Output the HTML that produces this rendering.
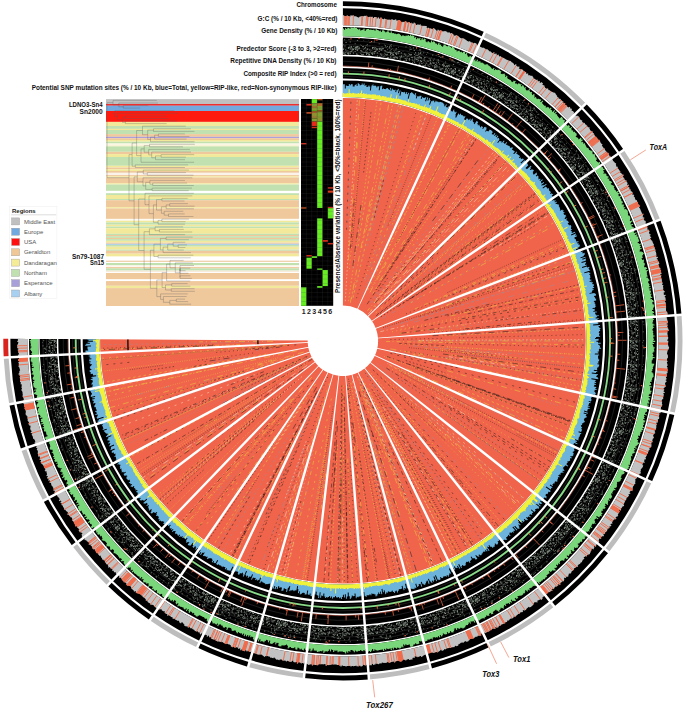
<!DOCTYPE html>
<html><head><meta charset="utf-8"><style>
html,body{margin:0;padding:0;background:#fff;}
body{width:685px;height:711px;overflow:hidden;position:relative;font-family:"Liberation Sans",sans-serif;}
svg{position:absolute;left:0;top:0;}
</style></head><body>
<svg width="685" height="711" viewBox="0 0 685 711">
<defs>
<pattern id="dotsA" width="24" height="24" patternUnits="userSpaceOnUse"><rect width="24" height="24" fill="#000"/><path d="M5.7 13.1h1.0M22.0 11.4h0.6M14.5 21.8h1.2M6.2 5.6h1.2M13.0 13.2h1.2M15.3 3.6h0.8M20.8 12.6h0.6M16.1 1.5h0.6M7.2 0.7h1.0M11.3 17.3h1.2M17.1 22.1h1.2M17.5 13.8h0.8M21.1 2.3h0.8M11.9 6.2h1.2M18.7 20.5h1.2M12.2 9.3h1.0M12.8 9.8h0.8M21.7 16.4h0.6M20.6 23.8h0.8M16.8 7.8h0.6M17.1 5.1h1.0M6.8 1.5h1.2M2.1 19.2h1.2M21.5 0.5h1.2M18.5 20.9h0.6M14.5 18.3h1.2M17.2 7.9h1.0M12.1 24.0h1.0M0.2 2.6h0.6M22.8 23.3h1.0M14.7 3.7h0.6M23.5 8.2h1.0M23.0 21.5h1.2M9.0 20.9h1.2M15.5 14.3h0.6M14.9 22.6h1.0M10.3 17.3h0.8M22.5 10.5h1.0M12.5 13.2h0.6M18.9 23.7h1.0M0.5 14.8h0.8M1.4 15.1h1.2M8.5 22.0h1.0M17.7 0.5h0.6M22.9 0.5h1.0M6.0 11.0h1.0M4.3 4.4h1.0M20.3 6.3h1.2M2.5 19.5h0.8M7.4 5.3h1.0M5.7 4.5h1.2M15.6 2.3h1.0M22.8 16.2h0.8M10.5 20.5h0.8M1.9 17.8h0.8M21.2 10.8h0.8M18.9 0.8h0.8M7.6 20.1h0.8M20.7 8.2h0.6M19.4 8.3h0.8M10.1 12.4h1.0M11.2 15.2h1.0M10.1 9.8h1.2M3.7 0.1h1.2M13.4 23.7h0.8M0.8 11.0h1.0M13.1 21.4h0.6M20.6 23.3h0.6M19.4 1.1h0.8M21.5 21.6h0.6M0.3 17.9h0.8M12.1 5.7h0.6M12.6 9.9h0.6M8.2 6.1h1.2M19.5 1.5h0.8M4.7 12.8h0.6M4.1 19.0h0.8M19.8 0.2h1.2M1.2 6.5h1.0M14.8 12.5h0.6M11.3 18.6h0.6M20.6 18.6h0.6M3.0 1.6h0.6M20.5 2.1h1.2M7.6 7.5h1.0M9.3 9.4h1.0M8.7 4.6h1.0M10.3 3.1h0.6M17.2 9.1h0.6M13.6 1.0h1.2M14.5 18.8h1.2M15.3 1.0h1.2M1.3 15.1h1.0M10.1 16.7h1.2M0.4 5.2h1.0M16.7 1.7h1.2M5.4 3.1h0.6M22.5 9.0h1.0M2.9 16.6h1.2M16.0 17.6h0.6M19.5 17.2h1.2M3.4 18.6h0.6M12.7 13.5h1.2M4.3 0.6h0.6M0.6 2.8h1.2M20.1 22.9h1.0M19.2 0.9h0.8M2.6 18.0h0.6M13.2 20.9h0.8M19.9 5.8h0.8M15.5 10.9h1.2M6.1 14.4h1.0M13.4 23.2h1.2M12.0 23.4h1.2M20.2 23.2h1.2M16.6 18.1h1.2M3.7 9.6h0.8M3.9 12.0h1.2M22.0 12.4h1.2M14.1 20.6h0.8M6.4 4.8h1.0M22.4 20.4h1.0M16.1 20.5h1.0M21.3 7.4h1.0M11.5 9.2h0.8M13.7 5.7h1.2M18.6 3.4h1.2M16.8 4.9h0.6M11.6 17.3h1.2M18.8 21.2h0.6M11.2 5.5h0.8M15.6 18.7h0.6M23.0 20.5h0.8M21.4 18.6h0.8M4.5 16.9h0.6M21.6 6.1h0.6M7.5 10.2h0.6M2.8 6.3h1.0M0.9 10.9h1.0M0.2 8.0h1.2M9.1 1.9h1.2M9.4 13.1h0.6M21.2 1.8h1.2M2.7 21.3h1.0M2.3 22.6h1.0M16.3 8.8h1.2M7.1 16.2h1.0M2.6 22.7h1.0M16.1 12.9h0.6M16.0 12.2h0.6M17.2 16.3h0.8M15.5 17.5h0.8M4.3 21.4h1.2M3.0 22.4h0.8M22.1 15.5h1.2M13.3 15.5h1.2M11.6 18.8h0.6M2.6 4.3h1.2M8.6 6.4h1.2M1.3 3.3h1.2M12.1 5.9h1.0M21.0 22.7h1.2M13.0 18.5h1.0M12.0 23.9h0.8M6.5 2.4h0.6M13.5 21.8h0.6M4.4 4.5h1.2M16.1 9.4h0.8M14.2 3.5h1.2M19.2 13.1h0.8M13.6 4.8h1.0M8.9 7.0h1.2M21.4 22.8h1.2M7.6 21.7h1.0M15.2 23.4h1.0M21.5 16.0h0.6M14.4 17.4h0.6M2.6 18.1h0.8M11.8 12.6h1.2M4.8 18.8h0.8M0.9 12.0h1.2M2.7 6.8h0.8M3.3 19.0h0.6M0.6 14.8h0.6M12.0 0.5h1.0M7.8 20.9h0.8M1.9 20.1h0.6M17.2 17.8h1.0M23.9 4.9h0.6M20.7 10.5h0.8M11.6 2.6h0.6M9.8 20.3h0.8M9.4 11.4h0.6M12.9 10.1h1.2M7.3 11.1h1.2M10.5 10.9h0.6M17.3 8.8h1.0M10.7 8.7h1.2M5.4 0.1h0.8M6.2 8.9h1.2M12.8 3.8h0.6M4.1 9.7h0.8M15.3 3.3h0.8M10.6 4.4h0.6M9.7 7.6h0.6M16.9 1.2h1.2M0.9 11.8h0.8M5.8 9.3h0.8M4.0 14.9h1.0M21.9 14.3h1.0M6.6 18.9h1.2M18.9 23.1h1.2M6.0 6.4h1.0M15.1 8.3h0.6M1.4 10.4h0.6M14.2 0.1h0.6M16.3 0.5h0.6M11.6 4.5h1.0M4.8 23.4h1.2M8.2 11.5h1.0M22.6 0.8h1.0M18.0 15.2h1.2M2.1 7.0h1.2M2.8 9.4h1.0M12.9 18.7h1.2M4.2 17.8h1.2M20.1 13.3h0.8M8.7 10.0h0.8M10.7 16.9h1.0M6.5 4.1h1.2" stroke="#95a595" stroke-width="0.8"/></pattern>
<pattern id="dotsB" width="24" height="24" patternUnits="userSpaceOnUse"><rect width="24" height="24" fill="#000"/><path d="M5.7 2.5h1.2M11.5 2.2h0.6M9.6 22.0h0.6M5.3 12.9h1.0M18.7 19.8h1.0M5.1 22.3h1.0M19.2 4.6h1.0M7.0 20.8h1.0M2.1 14.5h1.2M12.1 4.3h1.2M6.7 22.7h1.0M0.2 7.0h1.0M20.4 12.2h1.2M10.2 6.9h1.2M3.9 7.3h0.6M1.9 11.1h1.0M12.5 15.6h1.0M3.5 16.2h0.6M9.9 4.9h1.2M6.6 8.5h1.0M15.2 4.8h1.0M2.4 1.5h0.8M6.7 14.0h0.8M2.9 22.4h1.0M11.0 1.0h0.6M21.5 22.9h1.0M0.4 6.9h0.8M18.6 9.9h0.6M7.0 4.6h1.2M7.0 6.0h0.8M8.0 0.2h0.6M10.9 8.8h1.0M23.9 13.7h1.2M23.6 10.2h0.8M2.7 1.5h0.8M14.3 23.3h0.6M13.1 14.0h1.0M23.9 2.9h1.0M18.6 9.8h0.8M11.5 5.8h1.2M11.8 5.3h1.2M6.0 21.3h0.8M12.0 0.8h1.0M6.1 12.6h0.8M10.0 6.3h1.0M1.2 22.3h0.6M23.8 9.7h0.6M11.9 2.2h0.8M22.3 13.7h0.8M8.1 15.8h1.0M19.6 12.7h1.0M8.1 9.4h1.2M1.8 23.3h0.8M1.1 21.6h0.8M18.4 6.5h0.6M20.9 16.5h1.2M13.7 17.9h1.2M5.2 0.1h0.8M0.3 21.0h0.6M9.5 18.5h1.2M21.1 13.2h0.8M3.9 14.6h1.2M22.0 10.6h0.6M0.8 14.3h1.2M13.5 6.2h0.8M1.0 1.9h0.6M7.1 8.3h0.6M2.0 13.0h1.2M4.9 23.4h1.2M5.6 11.7h1.2" stroke="#859585" stroke-width="0.8"/></pattern>
</defs>
<path d="M342.9 1.2A339.6 339.6 0 0 1 484.8 32.3L482.8 36.7A334.7 334.7 0 0 0 342.9 6.1Z" fill="#000"/>
<path d="M484.8 32.3A339.6 339.6 0 0 1 585.9 103.6L582.4 107A334.7 334.7 0 0 0 482.8 36.7Z" fill="#bdbdbd"/>
<path d="M585.9 103.6A339.6 339.6 0 0 1 623.8 149.9L619.7 152.7A334.7 334.7 0 0 0 582.4 107Z" fill="#000"/>
<path d="M623.8 149.9A339.6 339.6 0 0 1 660.2 219.7L655.6 221.4A334.7 334.7 0 0 0 619.7 152.7Z" fill="#bdbdbd"/>
<path d="M660.2 219.7A339.6 339.6 0 0 1 681.5 314.7L676.6 315.1A334.7 334.7 0 0 0 655.6 221.4Z" fill="#000"/>
<path d="M681.5 314.7A339.6 339.6 0 0 1 674.6 413.7L669.8 412.7A334.7 334.7 0 0 0 676.6 315.1Z" fill="#bdbdbd"/>
<path d="M674.6 413.7A339.6 339.6 0 0 1 651.7 482.2L647.2 480.1A334.7 334.7 0 0 0 669.8 412.7Z" fill="#000"/>
<path d="M651.7 482.2A339.6 339.6 0 0 1 608.7 552.2L604.8 549.2A334.7 334.7 0 0 0 647.2 480.1Z" fill="#bdbdbd"/>
<path d="M608.7 552.2A339.6 339.6 0 0 1 554.3 606.6L551.3 602.7A334.7 334.7 0 0 0 604.8 549.2Z" fill="#000"/>
<path d="M554.3 606.6A339.6 339.6 0 0 1 489.6 647.1L487.5 642.6A334.7 334.7 0 0 0 551.3 602.7Z" fill="#bdbdbd"/>
<path d="M489.6 647.1A339.6 339.6 0 0 1 430.8 668.8L429.5 664.1A334.7 334.7 0 0 0 487.5 642.6Z" fill="#000"/>
<path d="M430.8 668.8A339.6 339.6 0 0 1 369 679.4L368.6 674.5A334.7 334.7 0 0 0 429.5 664.1Z" fill="#bdbdbd"/>
<path d="M369 679.4A339.6 339.6 0 0 1 303.9 678.1L304.4 673.3A334.7 334.7 0 0 0 368.6 674.5Z" fill="#000"/>
<path d="M303.9 678.1A339.6 339.6 0 0 1 248.2 666.9L249.5 662.2A334.7 334.7 0 0 0 304.4 673.3Z" fill="#bdbdbd"/>
<path d="M248.2 666.9A339.6 339.6 0 0 1 197.2 647.6L199.3 643.1A334.7 334.7 0 0 0 249.5 662.2Z" fill="#000"/>
<path d="M197.2 647.6A339.6 339.6 0 0 1 149.8 620.2L152.6 616.1A334.7 334.7 0 0 0 199.3 643.1Z" fill="#bdbdbd"/>
<path d="M149.8 620.2A339.6 339.6 0 0 1 107.4 585.5L110.8 582A334.7 334.7 0 0 0 152.6 616.1Z" fill="#000"/>
<path d="M107.4 585.5A339.6 339.6 0 0 1 72.4 546.1L76.3 543.2A334.7 334.7 0 0 0 110.8 582Z" fill="#bdbdbd"/>
<path d="M72.4 546.1A339.6 339.6 0 0 1 43.3 500.8L47.7 498.4A334.7 334.7 0 0 0 76.3 543.2Z" fill="#000"/>
<path d="M43.3 500.8A339.6 339.6 0 0 1 21.2 449.7L25.9 448.1A334.7 334.7 0 0 0 47.7 498.4Z" fill="#bdbdbd"/>
<path d="M21.2 449.7A339.6 339.6 0 0 1 9.3 404.4L14.1 403.5A334.7 334.7 0 0 0 25.9 448.1Z" fill="#000"/>
<path d="M9.3 404.4A339.6 339.6 0 0 1 3.7 357.7L8.6 357.4A334.7 334.7 0 0 0 14.1 403.5Z" fill="#bdbdbd"/>
<path d="M3.7 357.7A339.6 339.6 0 0 1 3.3 338.7L8.2 338.8A334.7 334.7 0 0 0 8.6 357.4Z" fill="#d9231f"/>
<path d="M342.9 8.3A332.5 332.5 0 0 1 481.8 38.7L474.8 54.1A315.6 315.6 0 0 0 342.9 25.2ZM342.9 26.9A313.9 313.9 0 0 1 474.1 55.6L470.2 64.1A304.6 304.6 0 0 0 342.9 36.2ZM342.9 37.5A303.3 303.3 0 0 1 469.6 65.2L462.5 80.8A286.2 286.2 0 0 0 342.9 54.6ZM342.9 56.2A284.6 284.6 0 0 1 461.8 82.2L457.6 91.3A274.6 274.6 0 0 0 342.9 66.2ZM342.9 67.9A272.9 272.9 0 0 1 456.9 92.9L452.5 102.5A262.3 262.3 0 0 0 342.9 78.5ZM342.9 80.6A260.2 260.2 0 0 1 451.6 104.4L444.7 119.4A243.7 243.7 0 0 0 342.9 97.1ZM481.8 38.7A332.5 332.5 0 0 1 580.9 108.6L568.8 120.4A315.6 315.6 0 0 0 474.8 54.1ZM474.1 55.6A313.9 313.9 0 0 1 567.6 121.6L560.9 128.1A304.6 304.6 0 0 0 470.2 64.1ZM469.6 65.2A303.3 303.3 0 0 1 560 129L547.7 140.9A286.2 286.2 0 0 0 462.5 80.8ZM461.8 82.2A284.6 284.6 0 0 1 546.6 142L539.4 149A274.6 274.6 0 0 0 457.6 91.3ZM456.9 92.9A272.9 272.9 0 0 1 538.2 150.2L530.6 157.6A262.3 262.3 0 0 0 452.5 102.5ZM451.6 104.4A260.2 260.2 0 0 1 529.1 159.1L517.3 170.6A243.7 243.7 0 0 0 444.7 119.4ZM580.9 108.6A332.5 332.5 0 0 1 617.9 153.9L603.9 163.4A315.6 315.6 0 0 0 568.8 120.4ZM567.6 121.6A313.9 313.9 0 0 1 602.5 164.4L594.8 169.6A304.6 304.6 0 0 0 560.9 128.1ZM560 129A303.3 303.3 0 0 1 593.8 170.3L579.6 179.9A286.2 286.2 0 0 0 547.7 140.9ZM546.6 142A284.6 284.6 0 0 1 578.3 180.8L570 186.5A274.6 274.6 0 0 0 539.4 149ZM538.2 150.2A272.9 272.9 0 0 1 568.6 187.4L559.8 193.4A262.3 262.3 0 0 0 530.6 157.6ZM529.1 159.1A260.2 260.2 0 0 1 558.1 194.5L544.5 203.8A243.7 243.7 0 0 0 517.3 170.6ZM617.9 153.9A332.5 332.5 0 0 1 653.5 222.2L637.7 228.2A315.6 315.6 0 0 0 603.9 163.4ZM602.5 164.4A313.9 313.9 0 0 1 636.1 228.8L627.5 232.1A304.6 304.6 0 0 0 594.8 169.6ZM593.8 170.3A303.3 303.3 0 0 1 626.2 232.6L610.3 238.7A286.2 286.2 0 0 0 579.6 179.9ZM578.3 180.8A284.6 284.6 0 0 1 608.8 239.3L599.4 242.8A274.6 274.6 0 0 0 570 186.5ZM568.6 187.4A272.9 272.9 0 0 1 597.8 243.4L587.9 247.2A262.3 262.3 0 0 0 559.8 193.4ZM558.1 194.5A260.2 260.2 0 0 1 586 248L570.6 253.9A243.7 243.7 0 0 0 544.5 203.8ZM653.5 222.2A332.5 332.5 0 0 1 674.4 315.3L657.6 316.6A315.6 315.6 0 0 0 637.7 228.2ZM636.1 228.8A313.9 313.9 0 0 1 655.9 316.7L646.6 317.4A304.6 304.6 0 0 0 627.5 232.1ZM626.2 232.6A303.3 303.3 0 0 1 645.3 317.5L628.3 318.8A286.2 286.2 0 0 0 610.3 238.7ZM608.8 239.3A284.6 284.6 0 0 1 626.7 319L616.7 319.7A274.6 274.6 0 0 0 599.4 242.8ZM597.8 243.4A272.9 272.9 0 0 1 615 319.9L604.4 320.7A262.3 262.3 0 0 0 587.9 247.2ZM586 248A260.2 260.2 0 0 1 602.3 320.8L585.9 322.1A243.7 243.7 0 0 0 570.6 253.9ZM674.4 315.3A332.5 332.5 0 0 1 667.6 412.2L651.1 408.6A315.6 315.6 0 0 0 657.6 316.6ZM655.9 316.7A313.9 313.9 0 0 1 649.5 408.2L640.4 406.2A304.6 304.6 0 0 0 646.6 317.4ZM645.3 317.5A303.3 303.3 0 0 1 639.1 405.9L622.4 402.3A286.2 286.2 0 0 0 628.3 318.8ZM626.7 319A284.6 284.6 0 0 1 620.9 401.9L611.1 399.8A274.6 274.6 0 0 0 616.7 319.7ZM615 319.9A272.9 272.9 0 0 1 609.4 399.4L599.1 397.1A262.3 262.3 0 0 0 604.4 320.7ZM602.3 320.8A260.2 260.2 0 0 1 597 396.7L580.9 393.1A243.7 243.7 0 0 0 585.9 322.1ZM667.6 412.2A332.5 332.5 0 0 1 645.2 479.2L629.9 472.2A315.6 315.6 0 0 0 651.1 408.6ZM649.5 408.2A313.9 313.9 0 0 1 628.3 471.5L619.9 467.6A304.6 304.6 0 0 0 640.4 406.2ZM639.1 405.9A303.3 303.3 0 0 1 618.7 467.1L603.1 459.9A286.2 286.2 0 0 0 622.4 402.3ZM620.9 401.9A284.6 284.6 0 0 1 601.7 459.3L592.6 455.1A274.6 274.6 0 0 0 611.1 399.8ZM609.4 399.4A272.9 272.9 0 0 1 591 454.4L581.4 450A262.3 262.3 0 0 0 599.1 397.1ZM597 396.7A260.2 260.2 0 0 1 579.5 449.1L564.5 442.2A243.7 243.7 0 0 0 580.9 393.1ZM645.2 479.2A332.5 332.5 0 0 1 603.1 547.8L589.9 537.3A315.6 315.6 0 0 0 629.9 472.2ZM628.3 471.5A313.9 313.9 0 0 1 588.6 536.2L581.3 530.4A304.6 304.6 0 0 0 619.9 467.6ZM618.7 467.1A303.3 303.3 0 0 1 580.3 529.6L566.9 519A286.2 286.2 0 0 0 603.1 459.9ZM601.7 459.3A284.6 284.6 0 0 1 565.6 518L557.8 511.7A274.6 274.6 0 0 0 592.6 455.1ZM591 454.4A272.9 272.9 0 0 1 556.5 510.7L548.2 504.1A262.3 262.3 0 0 0 581.4 450ZM579.5 449.1A260.2 260.2 0 0 1 546.5 502.8L533.6 492.5A243.7 243.7 0 0 0 564.5 442.2ZM603.1 547.8A332.5 332.5 0 0 1 549.9 601L539.4 587.8A315.6 315.6 0 0 0 589.9 537.3ZM588.6 536.2A313.9 313.9 0 0 1 538.3 586.5L532.5 579.2A304.6 304.6 0 0 0 581.3 530.4ZM580.3 529.6A303.3 303.3 0 0 1 531.7 578.2L521.1 564.8A286.2 286.2 0 0 0 566.9 519ZM565.6 518A284.6 284.6 0 0 1 520.1 563.5L513.8 555.7A274.6 274.6 0 0 0 557.8 511.7ZM556.5 510.7A272.9 272.9 0 0 1 512.8 554.4L506.2 546.1A262.3 262.3 0 0 0 548.2 504.1ZM546.5 502.8A260.2 260.2 0 0 1 504.9 544.4L494.6 531.5A243.7 243.7 0 0 0 533.6 492.5ZM549.9 601A332.5 332.5 0 0 1 486.6 640.7L479.3 625.4A315.6 315.6 0 0 0 539.4 587.8ZM538.3 586.5A313.9 313.9 0 0 1 478.5 623.9L474.5 615.5A304.6 304.6 0 0 0 532.5 579.2ZM531.7 578.2A303.3 303.3 0 0 1 474 614.3L466.6 598.9A286.2 286.2 0 0 0 521.1 564.8ZM520.1 563.5A284.6 284.6 0 0 1 465.9 597.5L461.6 588.4A274.6 274.6 0 0 0 513.8 555.7ZM512.8 554.4A272.9 272.9 0 0 1 460.8 586.9L456.2 577.4A262.3 262.3 0 0 0 506.2 546.1ZM504.9 544.4A260.2 260.2 0 0 1 455.3 575.5L448.2 560.6A243.7 243.7 0 0 0 494.6 531.5ZM486.6 640.7A332.5 332.5 0 0 1 429 662L424.6 645.6A315.6 315.6 0 0 0 479.3 625.4ZM478.5 623.9A313.9 313.9 0 0 1 424.1 644L421.7 635A304.6 304.6 0 0 0 474.5 615.5ZM474 614.3A303.3 303.3 0 0 1 421.4 633.8L417 617.2A286.2 286.2 0 0 0 466.6 598.9ZM465.9 597.5A284.6 284.6 0 0 1 416.6 615.7L414 606A274.6 274.6 0 0 0 461.6 588.4ZM460.8 586.9A272.9 272.9 0 0 1 413.5 604.4L410.8 594.2A262.3 262.3 0 0 0 456.2 577.4ZM455.3 575.5A260.2 260.2 0 0 1 410.2 592.1L406 576.2A243.7 243.7 0 0 0 448.2 560.6ZM429 662A332.5 332.5 0 0 1 368.4 672.3L367.1 655.5A315.6 315.6 0 0 0 424.6 645.6ZM424.1 644A313.9 313.9 0 0 1 367 653.8L366.3 644.5A304.6 304.6 0 0 0 421.7 635ZM421.4 633.8A303.3 303.3 0 0 1 366.2 643.2L364.9 626.2A286.2 286.2 0 0 0 417 617.2ZM416.6 615.7A284.6 284.6 0 0 1 364.7 624.6L364 614.6A274.6 274.6 0 0 0 414 606ZM413.5 604.4A272.9 272.9 0 0 1 363.8 612.9L363 602.3A262.3 262.3 0 0 0 410.8 594.2ZM410.2 592.1A260.2 260.2 0 0 1 362.9 600.2L361.6 583.8A243.7 243.7 0 0 0 406 576.2ZM368.4 672.3A332.5 332.5 0 0 1 304.7 671.1L306.6 654.3A315.6 315.6 0 0 0 367.1 655.5ZM367 653.8A313.9 313.9 0 0 1 306.8 652.6L307.9 643.4A304.6 304.6 0 0 0 366.3 644.5ZM366.2 643.2A303.3 303.3 0 0 1 308 642.1L310 625.1A286.2 286.2 0 0 0 364.9 626.2ZM364.7 624.6A284.6 284.6 0 0 1 310.2 623.5L311.3 613.6A274.6 274.6 0 0 0 364 614.6ZM363.8 612.9A272.9 272.9 0 0 1 311.5 611.9L312.8 601.4A262.3 262.3 0 0 0 363 602.3ZM362.9 600.2A260.2 260.2 0 0 1 313 599.3L314.9 582.9A243.7 243.7 0 0 0 361.6 583.8ZM304.7 671.1A332.5 332.5 0 0 1 250.1 660.1L254.9 643.9A315.6 315.6 0 0 0 306.6 654.3ZM306.8 652.6A313.9 313.9 0 0 1 255.3 642.2L257.9 633.3A304.6 304.6 0 0 0 307.9 643.4ZM308 642.1A303.3 303.3 0 0 1 258.3 632.1L263.1 615.6A286.2 286.2 0 0 0 310 625.1ZM310.2 623.5A284.6 284.6 0 0 1 263.5 614.1L266.3 604.5A274.6 274.6 0 0 0 311.3 613.6ZM311.5 611.9A272.9 272.9 0 0 1 266.8 602.9L269.7 592.7A262.3 262.3 0 0 0 312.8 601.4ZM313 599.3A260.2 260.2 0 0 1 270.3 590.7L274.9 574.8A243.7 243.7 0 0 0 314.9 582.9ZM250.1 660.1A332.5 332.5 0 0 1 200.3 641.2L207.5 625.9A315.6 315.6 0 0 0 254.9 643.9ZM255.3 642.2A313.9 313.9 0 0 1 208.3 624.4L212.2 616A304.6 304.6 0 0 0 257.9 633.3ZM258.3 632.1A303.3 303.3 0 0 1 212.8 614.8L220.1 599.3A286.2 286.2 0 0 0 263.1 615.6ZM263.5 614.1A284.6 284.6 0 0 1 220.8 597.9L225.1 588.9A274.6 274.6 0 0 0 266.3 604.5ZM266.8 602.9A272.9 272.9 0 0 1 225.8 587.3L230.4 577.7A262.3 262.3 0 0 0 269.7 592.7ZM270.3 590.7A260.2 260.2 0 0 1 231.3 575.8L238.4 560.9A243.7 243.7 0 0 0 274.9 574.8ZM200.3 641.2A332.5 332.5 0 0 1 153.9 614.3L163.5 600.4A315.6 315.6 0 0 0 207.5 625.9ZM208.3 624.4A313.9 313.9 0 0 1 164.4 599L169.7 591.4A304.6 304.6 0 0 0 212.2 616ZM212.8 614.8A303.3 303.3 0 0 1 170.5 590.3L180.2 576.2A286.2 286.2 0 0 0 220.1 599.3ZM220.8 597.9A284.6 284.6 0 0 1 181.1 574.9L186.8 566.7A274.6 274.6 0 0 0 225.1 588.9ZM225.8 587.3A272.9 272.9 0 0 1 187.7 565.3L193.8 556.6A262.3 262.3 0 0 0 230.4 577.7ZM231.3 575.8A260.2 260.2 0 0 1 195 554.9L204.3 541.3A243.7 243.7 0 0 0 238.4 560.9ZM153.9 614.3A332.5 332.5 0 0 1 112.3 580.4L124.1 568.2A315.6 315.6 0 0 0 163.5 600.4ZM164.4 599A313.9 313.9 0 0 1 125.2 567L131.7 560.3A304.6 304.6 0 0 0 169.7 591.4ZM170.5 590.3A303.3 303.3 0 0 1 132.6 559.3L144.4 547A286.2 286.2 0 0 0 180.2 576.2ZM181.1 574.9A284.6 284.6 0 0 1 145.6 545.9L152.5 538.7A274.6 274.6 0 0 0 186.8 566.7ZM187.7 565.3A272.9 272.9 0 0 1 153.7 537.4L161 529.8A262.3 262.3 0 0 0 193.8 556.6ZM195 554.9A260.2 260.2 0 0 1 162.5 528.3L173.9 516.4A243.7 243.7 0 0 0 204.3 541.3ZM112.3 580.4A332.5 332.5 0 0 1 78.1 541.8L91.5 531.6A315.6 315.6 0 0 0 124.1 568.2ZM125.2 567A313.9 313.9 0 0 1 92.9 530.6L100.3 525A304.6 304.6 0 0 0 131.7 560.3ZM132.6 559.3A303.3 303.3 0 0 1 101.3 524.2L114.9 513.8A286.2 286.2 0 0 0 144.4 547ZM145.6 545.9A284.6 284.6 0 0 1 116.2 512.9L124.2 506.8A274.6 274.6 0 0 0 152.5 538.7ZM153.7 537.4A272.9 272.9 0 0 1 125.5 505.8L134 499.4A262.3 262.3 0 0 0 161 529.8ZM162.5 528.3A260.2 260.2 0 0 1 135.6 498.1L148.8 488.1A243.7 243.7 0 0 0 173.9 516.4ZM78.1 541.8A332.5 332.5 0 0 1 49.6 497.4L64.5 489.5A315.6 315.6 0 0 0 91.5 531.6ZM92.9 530.6A313.9 313.9 0 0 1 66 488.7L74.2 484.3A304.6 304.6 0 0 0 100.3 525ZM101.3 524.2A303.3 303.3 0 0 1 75.4 483.7L90.4 475.6A286.2 286.2 0 0 0 114.9 513.8ZM116.2 512.9A284.6 284.6 0 0 1 91.8 474.8L100.7 470.1A274.6 274.6 0 0 0 124.2 506.8ZM125.5 505.8A272.9 272.9 0 0 1 102.2 469.3L111.5 464.3A262.3 262.3 0 0 0 134 499.4ZM135.6 498.1A260.2 260.2 0 0 1 113.4 463.4L127.9 455.6A243.7 243.7 0 0 0 148.8 488.1ZM49.6 497.4A332.5 332.5 0 0 1 28 447.4L44 442A315.6 315.6 0 0 0 64.5 489.5ZM66 488.7A313.9 313.9 0 0 1 45.6 441.4L54.4 438.5A304.6 304.6 0 0 0 74.2 484.3ZM75.4 483.7A303.3 303.3 0 0 1 55.6 438L71.8 432.6A286.2 286.2 0 0 0 90.4 475.6ZM91.8 474.8A284.6 284.6 0 0 1 73.3 432L82.8 428.8A274.6 274.6 0 0 0 100.7 470.1ZM102.2 469.3A272.9 272.9 0 0 1 84.4 428.3L94.4 424.9A262.3 262.3 0 0 0 111.5 464.3ZM113.4 463.4A260.2 260.2 0 0 1 96.4 424.2L112.1 418.9A243.7 243.7 0 0 0 127.9 455.6ZM28 447.4A332.5 332.5 0 0 1 16.3 403.1L32.9 399.9A315.6 315.6 0 0 0 44 442ZM45.6 441.4A313.9 313.9 0 0 1 34.6 399.6L43.7 397.9A304.6 304.6 0 0 0 54.4 438.5ZM55.6 438A303.3 303.3 0 0 1 45 397.6L61.8 394.4A286.2 286.2 0 0 0 71.8 432.6ZM73.3 432A284.6 284.6 0 0 1 63.3 394.1L73.2 392.3A274.6 274.6 0 0 0 82.8 428.8ZM84.4 428.3A272.9 272.9 0 0 1 74.8 391.9L85.2 390A262.3 262.3 0 0 0 94.4 424.9ZM96.4 424.2A260.2 260.2 0 0 1 87.3 389.6L103.5 386.5A243.7 243.7 0 0 0 112.1 418.9ZM16.3 403.1A332.5 332.5 0 0 1 10.8 357.3L27.7 356.5A315.6 315.6 0 0 0 32.9 399.9ZM34.6 399.6A313.9 313.9 0 0 1 29.4 356.4L38.7 355.9A304.6 304.6 0 0 0 43.7 397.9ZM45 397.6A303.3 303.3 0 0 1 40 355.9L57.1 355A286.2 286.2 0 0 0 61.8 394.4ZM63.3 394.1A284.6 284.6 0 0 1 58.7 355L68.6 354.5A274.6 274.6 0 0 0 73.2 392.3ZM74.8 391.9A272.9 272.9 0 0 1 70.3 354.4L80.9 353.8A262.3 262.3 0 0 0 85.2 390ZM87.3 389.6A260.2 260.2 0 0 1 83 353.7L99.5 352.9A243.7 243.7 0 0 0 103.5 386.5ZM10.8 357.3A332.5 332.5 0 0 1 10.4 338.8L27.3 338.9A315.6 315.6 0 0 0 27.7 356.5ZM29.4 356.4A313.9 313.9 0 0 1 29 338.9L38.3 338.9A304.6 304.6 0 0 0 38.7 355.9ZM40 355.9A303.3 303.3 0 0 1 39.6 338.9L56.7 339.1A286.2 286.2 0 0 0 57.1 355ZM58.7 355A284.6 284.6 0 0 1 58.3 339.1L68.3 339.1A274.6 274.6 0 0 0 68.6 354.5ZM70.3 354.4A272.9 272.9 0 0 1 70 339.1L80.6 339.2A262.3 262.3 0 0 0 80.9 353.8ZM83 353.7A260.2 260.2 0 0 1 82.7 339.2L99.2 339.3A243.7 243.7 0 0 0 99.5 352.9Z" fill="#000"/>
<path d="M342.9 98A242.8 242.8 0 0 1 444.4 120.2L357.6 308.8A35.2 35.2 0 0 0 342.9 305.6ZM444.4 120.2A242.8 242.8 0 0 1 516.7 171.2L368.1 316.2A35.2 35.2 0 0 0 357.6 308.8ZM516.7 171.2A242.8 242.8 0 0 1 543.7 204.3L372 321A35.2 35.2 0 0 0 368.1 316.2ZM543.7 204.3A242.8 242.8 0 0 1 569.7 254.2L375.8 328.2A35.2 35.2 0 0 0 372 321ZM569.7 254.2A242.8 242.8 0 0 1 585 322.2L378 338.1A35.2 35.2 0 0 0 375.8 328.2ZM585 322.2A242.8 242.8 0 0 1 580 392.9L377.3 348.4A35.2 35.2 0 0 0 378 338.1ZM580 392.9A242.8 242.8 0 0 1 563.7 441.9L374.9 355.5A35.2 35.2 0 0 0 377.3 348.4ZM563.7 441.9A242.8 242.8 0 0 1 532.9 491.9L370.4 362.7A35.2 35.2 0 0 0 374.9 355.5ZM532.9 491.9A242.8 242.8 0 0 1 494 530.8L364.8 368.3A35.2 35.2 0 0 0 370.4 362.7ZM494 530.8A242.8 242.8 0 0 1 447.8 559.8L358.1 372.5A35.2 35.2 0 0 0 364.8 368.3ZM447.8 559.8A242.8 242.8 0 0 1 405.7 575.3L352 374.8A35.2 35.2 0 0 0 358.1 372.5ZM405.7 575.3A242.8 242.8 0 0 1 361.5 582.9L345.6 375.9A35.2 35.2 0 0 0 352 374.8ZM361.5 582.9A242.8 242.8 0 0 1 315 582L338.9 375.8A35.2 35.2 0 0 0 345.6 375.9ZM315 582A242.8 242.8 0 0 1 275.2 574L333.1 374.6A35.2 35.2 0 0 0 338.9 375.8ZM275.2 574A242.8 242.8 0 0 1 238.8 560.1L327.8 372.6A35.2 35.2 0 0 0 333.1 374.6ZM238.8 560.1A242.8 242.8 0 0 1 204.9 540.5L322.9 369.8A35.2 35.2 0 0 0 327.8 372.6ZM204.9 540.5A242.8 242.8 0 0 1 174.5 515.7L318.5 366.2A35.2 35.2 0 0 0 322.9 369.8ZM174.5 515.7A242.8 242.8 0 0 1 149.5 487.6L314.9 362.1A35.2 35.2 0 0 0 318.5 366.2ZM149.5 487.6A242.8 242.8 0 0 1 128.7 455.2L311.8 357.4A35.2 35.2 0 0 0 314.9 362.1ZM128.7 455.2A242.8 242.8 0 0 1 112.9 418.6L309.6 352.1A35.2 35.2 0 0 0 311.8 357.4ZM112.9 418.6A242.8 242.8 0 0 1 104.4 386.3L308.3 347.4A35.2 35.2 0 0 0 309.6 352.1ZM104.4 386.3A242.8 242.8 0 0 1 100.4 352.9L307.7 342.6A35.2 35.2 0 0 0 308.3 347.4ZM100.4 352.9A242.8 242.8 0 0 1 100.1 339.3L307.7 340.6A35.2 35.2 0 0 0 307.7 342.6Z" fill="#f0644b"/>
<path d="M342.9 15.2L344.2 15.3L344.1 15.9L345.4 15.9L345.4 16.2L346.6 16.2L346.6 15.6L347.9 15.6L347.9 16.1L349.1 16.2L349.1 16.4L350.4 16.4L350.4 15.3L351.6 15.4L351.6 15.4L352.9 15.5L352.9 15.5L354.1 15.5L354.1 16.2L355.4 16.2L355.4 16.2L356.6 16.3L356.6 17L357.8 17.1L357.8 17.4L359.1 17.4L359.1 16.7L360.3 16.8L360.4 16.3L361.6 16.3L361.6 16.2L362.9 16.3L362.9 16.3L364.1 16.3L364.1 15.8L365.4 15.9L365.4 15.7L366.7 15.8L366.6 16.5L367.8 16.6L367.8 17L369.1 17.1L369.1 16.8L370.3 16.9L370.3 16.8L371.6 16.9L371.6 16.7L372.8 16.8L372.8 17.8L374 17.9L374.1 16.9L375.3 17L375.3 16.9L376.6 17L376.5 18.3L377.7 18.5L377.8 17.3L379.1 17.5L378.9 18.6L380.2 18.7L380.3 17.6L381.5 17.7L381.4 18.6L382.7 18.8L382.6 19L383.9 19.2L384 18.5L385.2 18.7L385.1 19.1L386.4 19.3L386.3 19.6L387.6 19.8L387.6 19.6L388.8 19.7L388.8 19.6L390.1 19.8L390.1 19.7L391.3 19.9L391.5 19L392.7 19.2L392.6 19.8L393.8 20L393.9 19.8L395.1 20L395.2 19.3L396.4 19.5L396.3 20.5L397.5 20.7L397.6 20.2L398.8 20.5L398.9 20.1L400.1 20.3L400 21.1L401.2 21.4L401.1 22L402.3 22.2L402.4 21.8L403.6 22.1L403.6 21.8L404.9 22L405 21.2L406.2 21.4L406.1 22L407.4 22.2L407.3 22.4L408.5 22.7L408.7 22L409.9 22.3L409.8 22.9L411 23.2L411.1 22.8L412.3 23.1L412.2 23.4L413.4 23.7L413.7 22.5L414.9 22.7L414.8 23.5L416 23.7L415.8 24.7L417 25L417.1 24.4L418.3 24.6L418.4 24.6L419.6 24.9L419.7 24.3L420.9 24.6L420.7 25.5L421.9 25.8L421.9 25.8L423.1 26.1L423.2 25.8L424.4 26.1L424.5 25.7L425.7 26L425.7 25.9L427 26.2L426.6 27.7L427.8 28L427.9 27.6L429.1 27.9L428.9 28.5L430.1 28.8L430.3 28.2L431.5 28.6L431.4 29L432.6 29.3L433 28L434.2 28.3L434.1 28.6L435.3 28.9L435.1 29.6L436.3 29.9L436.1 30.5L437.3 30.9L437.7 29.5L438.9 29.9L438.7 30.5L439.9 30.8L440.1 30.2L441.3 30.6L441.2 30.8L442.4 31.2L442.4 31.2L443.6 31.6L443.8 30.9L445 31.3L445.1 31.1L446.3 31.5L446.3 31.5L447.5 31.9L447.3 32.4L448.5 32.8L448.7 32.1L449.9 32.5L449.7 33.1L450.9 33.5L451.1 32.9L452.3 33.3L452.1 33.8L453.3 34.2L453.1 34.6L454.3 35L454.1 35.7L455.2 36.1L455.7 34.9L456.9 35.3L456.8 35.5L458 35.9L457.9 36.2L459.1 36.6L458.9 37L460.1 37.4L460 37.7L461.1 38.2L461.1 38.2L462.3 38.6L462.5 38.1L463.7 38.6L463.6 38.6L464.8 39.1L464.7 39.3L465.9 39.7L465.8 39.9L467 40.4L466.8 40.8L468 41.3L468 41.2L469.1 41.7L469.4 41.1L470.5 41.6L470.4 42L471.5 42.5L471.6 42.3L472.7 42.8L472.7 42.9L473.8 43.4L474.1 42.8L475.2 43.3L475.4 42.9L476.5 43.4L476.3 44L477.4 44.6L477.1 45.3L478.2 45.8L478.6 45L478.9 45.1L474.8 54.1A315.6 315.6 0 0 0 342.9 25.2ZM478.8 45.2L480 45.8L479.7 46.4L480.8 46.9L480.8 47L481.9 47.5L482 47.4L483.1 47.9L483.3 47.5L484.4 48.1L484.3 48.2L485.5 48.8L485.3 49L486.5 49.5L486.7 49L487.8 49.6L487.8 49.7L488.9 50.3L488.6 50.8L489.7 51.4L489.9 51.1L491 51.7L490.8 52L491.9 52.5L491.9 52.7L493 53.2L493.5 52.2L494.6 52.8L494.1 53.7L495.2 54.3L495.8 53.3L496.9 53.9L496.5 54.7L497.6 55.2L498 54.5L499.1 55.1L498.6 55.9L499.7 56.5L500 56L501.1 56.6L501.1 56.7L502.1 57.3L502.1 57.4L503.2 58L503.3 57.7L504.4 58.3L504.4 58.4L505.5 59L505.4 59.1L506.5 59.7L506.6 59.6L507.7 60.2L507.8 60L508.8 60.7L508.9 60.5L510 61.2L510.3 60.7L511.3 61.4L511.1 61.8L512.1 62.5L512.2 62.4L513.2 63.1L513.1 63.2L514.2 63.9L513.8 64.5L514.9 65.2L515.6 64.1L516.6 64.7L516 65.7L517.1 66.3L517.1 66.2L518.2 66.9L518.7 66.2L519.7 66.9L518.8 68.3L519.8 69L520 68.7L521.1 69.4L521.3 69L522.4 69.7L522.5 69.5L523.5 70.2L523.2 70.7L524.2 71.4L524.2 71.4L525.2 72.1L525.4 71.9L526.4 72.6L526 73.2L527 73.9L527.5 73.2L528.6 73.9L527.9 74.8L528.9 75.5L529.3 75L530.3 75.7L530.5 75.4L531.6 76.1L531.9 75.6L532.9 76.4L532.6 76.8L533.6 77.5L533.2 78.1L534.2 78.9L534.4 78.5L535.5 79.2L535.3 79.5L536.3 80.2L536.9 79.4L537.9 80.1L537.4 80.8L538.4 81.6L539 80.7L540 81.4L539.5 82.2L540.5 83L541.2 81.9L542.2 82.7L542.2 82.8L543.1 83.6L542.3 84.6L543.3 85.4L543.6 85L544.6 85.8L544.1 86.3L545.1 87.1L544.8 87.5L545.8 88.2L545.9 88.2L546.8 89L547.5 88.2L548.5 88.9L548.1 89.4L549 90.2L549.3 89.9L550.2 90.7L550.3 90.7L551.2 91.5L551.3 91.4L552.2 92.2L552.5 91.8L553.5 92.7L553.9 92.2L554.9 93L554.9 93L555.8 93.8L555.6 94.1L556.5 94.9L556.3 95.1L557.3 95.9L556.9 96.3L557.8 97.2L557.7 97.3L558.7 98.1L558.5 98.3L559.5 99.1L559.9 98.6L560.9 99.4L560.7 99.6L561.6 100.4L561.6 100.4L562.5 101.3L562.6 101.2L563.5 102.1L563.1 102.5L564.1 103.3L564.4 103L565.3 103.8L564.7 104.5L565.6 105.3L565.9 104.9L566.8 105.8L566.6 106.1L567.5 106.9L567.7 106.7L568.6 107.6L569.4 106.7L570.3 107.6L570 107.9L570.9 108.8L571.3 108.4L572.2 109.3L571.3 110.1L572.2 111L572.5 110.7L573.4 111.6L573.3 111.6L574.2 112.5L573.5 113.2L574.4 114.1L575.5 113L575.9 113.4L568.8 120.4A315.6 315.6 0 0 0 474.8 54.1ZM574.6 114.7L575.5 115.6L575.9 115.2L576.8 116.1L577.2 115.6L578.1 116.5L578.4 116.2L579.3 117.1L579.1 117.2L580 118.1L579.6 118.5L580.4 119.5L580.4 119.5L581.2 120.4L581.7 120L582.5 120.9L581.9 121.5L582.8 122.4L582.9 122.3L583.7 123.2L584.3 122.7L585.1 123.6L584.9 123.8L585.8 124.7L586 124.5L586.8 125.5L586.7 125.5L587.6 126.5L587.4 126.6L588.2 127.5L589 126.9L589.8 127.9L589.2 128.3L590 129.3L589.8 129.5L590.6 130.4L590.5 130.6L591.3 131.5L591.9 131L592.7 132L592.4 132.2L593.2 133.1L593.4 133L594.2 134L593.9 134.2L594.7 135.1L594.5 135.3L595.3 136.2L595.1 136.5L595.8 137.4L596.2 137.2L596.9 138.1L596.9 138.2L597.7 139.1L597.6 139.2L598.3 140.2L599 139.7L599.8 140.7L599.6 140.8L600.4 141.8L600.2 142L600.9 143L600.9 143L601.6 144L601.9 143.8L602.6 144.8L601.8 145.4L602.5 146.4L602.6 146.4L603.4 147.4L603.2 147.5L603.9 148.5L604.2 148.3L604.9 149.3L604.8 149.4L605.6 150.4L605.3 150.5L606.1 151.6L606 151.6L606.8 152.6L607.1 152.4L607.8 153.4L608.2 153.1L608.9 154.1L608.7 154.2L609.5 155.3L609.1 155.5L609.8 156.5L610.3 156.2L611 157.2L611 157.3L611.6 158.2L603.9 163.4A315.6 315.6 0 0 0 568.8 120.4ZM611.7 158.2L612.4 159.2L612.3 159.2L613 160.3L612.8 160.4L613.5 161.4L613.8 161.2L614.5 162.3L614.5 162.3L615.1 163.3L615.7 163L616.3 164L615.7 164.4L616.4 165.5L615.9 165.8L616.6 166.8L617.3 166.4L618 167.4L617.5 167.7L618.2 168.8L618.4 168.7L619 169.7L619 169.7L619.7 170.8L619.8 170.7L620.4 171.8L620 172.1L620.6 173.1L621.1 172.8L621.7 173.9L621.9 173.8L622.5 174.9L623.2 174.5L623.8 175.6L622.8 176.2L623.4 177.3L623.4 177.3L624 178.4L624.1 178.3L624.7 179.4L624.5 179.5L625.1 180.6L626 180.1L626.6 181.2L626.4 181.3L627 182.4L627.2 182.3L627.8 183.4L626.9 183.9L627.5 185L628.4 184.5L629 185.6L627.8 186.2L628.4 187.3L629.1 187L629.6 188.1L629.3 188.2L629.9 189.4L630.3 189.2L630.9 190.3L630.5 190.5L631.1 191.6L631.8 191.2L632.4 192.3L632.3 192.3L632.8 193.5L632.2 193.8L632.8 194.9L633.8 194.4L634.3 195.5L633.6 195.9L634.2 197L634.4 196.8L635 198L634.8 198L635.4 199.2L635.3 199.2L635.8 200.3L636.6 199.9L637.2 201.1L636.9 201.2L637.4 202.3L637.7 202.2L638.2 203.3L637.8 203.6L638.3 204.7L638.9 204.4L639.4 205.6L639.4 205.6L639.9 206.7L639 207.1L639.5 208.2L639.8 208.1L640.3 209.3L640.3 209.3L640.8 210.4L640.7 210.4L641.2 211.6L641.3 211.5L641.8 212.7L641.7 212.7L642.2 213.9L643.1 213.5L643.6 214.7L642.7 215L643.2 216.2L642.5 216.5L643 217.6L644 217.2L644.5 218.3L643.6 218.7L644 219.9L644.3 219.8L644.7 220.9L645.4 220.7L645.9 221.8L645.5 222L645.9 223.1L645.6 223.3L646 224.4L645.9 224.5L646.1 225L637.7 228.2A315.6 315.6 0 0 0 603.9 163.4ZM647.8 224.4L648.3 225.5L646.9 226L647.4 227.2L647.3 227.2L647.7 228.4L647.2 228.6L647.6 229.8L648.5 229.5L648.9 230.6L649.3 230.5L649.7 231.7L648.9 232L649.3 233.1L649.2 233.2L649.6 234.3L650.3 234.1L650.7 235.3L649.7 235.6L650.1 236.8L650.9 236.5L651.3 237.7L650.1 238.1L650.5 239.3L650.9 239.2L651.3 240.4L651.9 240.2L652.3 241.3L652.4 241.3L652.8 242.5L652.8 242.5L653.2 243.7L653.6 243.5L654 244.7L653.5 244.9L653.8 246.1L654 246.1L654.3 247.3L654.6 247.2L654.9 248.4L654.7 248.4L655 249.6L655.3 249.6L655.6 250.8L655.4 250.8L655.7 252L655.9 252L656.2 253.2L656.2 253.2L656.5 254.4L656.1 254.5L656.4 255.7L656.1 255.8L656.4 257L657.7 256.7L658 257.9L656.7 258.2L657 259.4L657.7 259.3L658 260.5L657.5 260.6L657.8 261.8L658.7 261.6L659.1 262.8L659.1 262.8L659.4 264L658.3 264.3L658.6 265.5L658.6 265.5L658.9 266.7L659.1 266.6L659.4 267.8L660.2 267.7L660.4 268.9L660 269L660.3 270.2L660.8 270.1L661.1 271.3L660.4 271.5L660.7 272.7L661.4 272.5L661.7 273.7L660.2 274L660.5 275.3L661.2 275.1L661.4 276.3L660.9 276.4L661.2 277.7L661.2 277.7L661.5 278.9L661.6 278.8L661.9 280.1L661.8 280.1L662 281.3L662 281.3L662.2 282.5L662.6 282.5L662.8 283.7L662.1 283.8L662.3 285.1L663.2 284.9L663.4 286.1L662.9 286.2L663.1 287.4L663.3 287.4L663.5 288.6L663 288.7L663.2 290L663.6 289.9L663.8 291.1L664.6 291L664.8 292.2L663.6 292.4L663.8 293.6L663.8 293.6L663.9 294.9L665.5 294.7L665.7 295.9L664.7 296L664.9 297.3L665.4 297.2L665.5 298.4L665.6 298.4L665.7 299.7L665.5 299.7L665.6 300.9L664.9 301L665.1 302.3L665.7 302.2L665.9 303.4L665.7 303.5L665.8 304.7L665.7 304.7L665.8 305.9L666 305.9L666.1 307.2L666 307.2L666.1 308.4L665.9 308.4L666 309.7L666 309.7L666.1 310.9L666.5 310.9L666.6 312.1L667.3 312.1L667.4 313.3L667.6 313.3L667.7 314.6L666.5 314.7L666.6 315.9L657.6 316.6A315.6 315.6 0 0 0 637.7 228.2ZM667.9 315.8L668 317L666.7 317.1L666.8 318.4L667.1 318.4L667.2 319.6L667.2 319.6L667.3 320.8L667.8 320.8L667.9 322.1L667.8 322.1L667.9 323.3L666.6 323.4L666.6 324.6L667.6 324.6L667.7 325.8L667.3 325.8L667.4 327.1L667.5 327.1L667.6 328.3L668.2 328.3L668.3 329.6L668.8 329.5L668.9 330.8L667.3 330.8L667.3 332.1L667.4 332.1L667.5 333.3L667.4 333.3L667.5 334.6L667.6 334.6L667.7 335.8L667.6 335.8L667.6 337.1L668.2 337.1L668.2 338.3L668.1 338.3L668.1 339.6L667.3 339.6L667.3 340.8L668.3 340.8L668.3 342L668.2 342L668.1 343.3L667.9 343.3L667.9 344.5L668.1 344.5L668.1 345.8L668.6 345.8L668.6 347.1L669.1 347.1L669 348.3L668.8 348.3L668.8 349.6L667.8 349.5L667.7 350.8L667.5 350.8L667.4 352L667.2 352L667.2 353.3L667 353.3L667 354.5L667.9 354.5L667.8 355.8L668 355.8L667.9 357L667.9 357L667.9 358.3L667.1 358.2L667 359.5L667.1 359.5L667 360.7L667.6 360.8L667.5 362L667 362L666.9 363.2L667.3 363.3L667.2 364.5L667.8 364.5L667.7 365.8L667 365.7L666.9 367L667.5 367L667.4 368.3L667.5 368.3L667.4 369.5L667.6 369.5L667.4 370.8L667.5 370.8L667.4 372L667.6 372.1L667.5 373.3L666.7 373.2L666.6 374.5L666.9 374.5L666.8 375.8L666.7 375.7L666.6 377L666.1 376.9L665.9 378.2L666.7 378.3L666.6 379.5L665.9 379.4L665.7 380.7L666.6 380.8L666.4 382L665.6 381.9L665.5 383.2L665.1 383.1L664.9 384.3L665.5 384.4L665.3 385.7L665.8 385.7L665.6 387L664.7 386.8L664.5 388.1L663.7 387.9L663.5 389.2L664.3 389.3L664.1 390.5L663.8 390.5L663.6 391.7L664.8 391.9L664.6 393.1L663.5 393L663.3 394.2L664 394.3L663.8 395.5L663.5 395.5L663.3 396.7L663.3 396.7L663.1 397.9L663.3 398L663.1 399.2L662.3 399.1L662.1 400.3L661.7 400.2L661.5 401.5L662.2 401.6L662 402.8L662.1 402.8L661.8 404.1L662.4 404.2L662.1 405.4L662.2 405.4L661.9 406.6L661.2 406.5L660.9 407.7L661.1 407.7L660.8 409L660.7 408.9L660.4 410.2L660.6 410.2L660.5 410.6L651.1 408.6A315.6 315.6 0 0 0 657.6 316.6ZM661.4 410.8L661.1 412L660.8 412L660.5 413.2L659.4 412.9L659.1 414.2L659.5 414.2L659.2 415.5L659 415.4L658.7 416.6L659.3 416.8L659.1 418L659.2 418L658.9 419.2L658 419L657.7 420.2L658.1 420.3L657.8 421.5L657.9 421.6L657.6 422.8L656.5 422.5L656.2 423.7L657 423.9L656.7 425.1L656.5 425.1L656.1 426.3L656.5 426.4L656.2 427.6L656.4 427.6L656 428.8L655.9 428.8L655.5 430L654.9 429.8L654.6 431L655 431.1L654.6 432.3L655.3 432.5L655 433.7L654.1 433.5L653.7 434.7L653.4 434.6L653.1 435.7L653.6 435.9L653.3 437.1L654 437.3L653.6 438.5L653 438.3L652.6 439.5L652.6 439.5L652.2 440.7L652.8 440.9L652.4 442.1L651.8 441.9L651.5 443.1L651.5 443.1L651.1 444.3L651.7 444.5L651.3 445.7L651.6 445.8L651.2 446.9L650.6 446.8L650.2 447.9L649.7 447.8L649.3 448.9L649.8 449.1L649.4 450.3L648.9 450.1L648.5 451.3L648.4 451.3L648 452.4L648.1 452.5L647.7 453.7L647.1 453.5L646.7 454.6L646.9 454.7L646.5 455.9L646.4 455.8L646 457L645.8 457L645.3 458.1L646.1 458.4L645.7 459.6L644.7 459.2L644.2 460.3L644.5 460.4L644 461.6L644.8 461.9L644.3 463.1L643 462.5L642.5 463.7L642.8 463.8L642.3 464.9L643.3 465.4L642.9 466.5L642.9 466.6L642.5 467.7L642.2 467.6L641.8 468.8L641.1 468.5L640.6 469.6L641.1 469.8L640.6 471L640.7 471L640.2 472.2L641.1 472.5L640.5 473.7L639.9 473.4L639.4 474.5L639 474.4L638.5 475.5L638.5 475.5L638.3 476L629.9 472.2A315.6 315.6 0 0 0 651.1 408.6ZM637.1 475.5L636.6 476.6L637.3 476.9L636.7 478.1L636.5 477.9L635.9 479.1L635.6 478.9L635 480L635.6 480.3L635.1 481.4L635.6 481.6L635 482.8L635.6 483L635 484.2L634.5 483.9L634 485L634.2 485.1L633.6 486.2L633.3 486.1L632.7 487.2L633 487.3L632.4 488.5L632.8 488.6L632.3 489.8L632.6 489.9L632 491.1L630.8 490.4L630.2 491.5L630 491.4L629.4 492.5L630.5 493.1L629.9 494.2L629 493.7L628.4 494.8L629.1 495.1L628.5 496.2L628.4 496.2L627.8 497.3L627.4 497.1L626.8 498.1L626.7 498.1L626.1 499.2L626.4 499.4L625.8 500.5L625.4 500.3L624.8 501.3L625.1 501.5L624.4 502.6L624.6 502.6L623.9 503.7L624 503.8L623.4 504.8L624.2 505.3L623.6 506.4L623 506L622.3 507.1L622.3 507.1L621.6 508.1L621.5 508.1L620.9 509.1L621.2 509.3L620.5 510.4L619.4 509.7L618.7 510.7L619.7 511.3L619 512.4L619 512.4L618.3 513.4L618.4 513.5L617.7 514.5L618.4 515L617.7 516L617.7 516L617 517L616.2 516.5L615.5 517.6L616.5 518.2L615.8 519.2L615 518.7L614.4 519.8L614 519.5L613.3 520.6L613 520.4L612.3 521.5L612.6 521.6L611.9 522.7L612.6 523.1L611.9 524.1L611.1 523.6L610.4 524.7L611.5 525.4L610.8 526.4L610 525.9L609.3 526.9L609.7 527.2L609 528.2L608.8 528.1L608.1 529.1L607.8 528.9L607 529.9L607.4 530.1L606.7 531.2L606.6 531.1L605.9 532.1L605.5 531.9L604.8 532.9L605.3 533.2L604.5 534.2L603.9 533.8L603.2 534.8L604.1 535.5L603.3 536.5L602.6 535.9L601.8 536.9L601.4 536.6L600.7 537.6L601.3 538L600.5 539L599.6 538.3L598.8 539.3L599.2 539.6L598.5 540.6L599.3 541.2L598.5 542.2L598.7 542.4L597.9 543.4L597.1 542.7L597 542.9L589.9 537.3A315.6 315.6 0 0 0 629.9 472.2ZM597.6 543.4L596.8 544.4L596.6 544.2L595.8 545.2L596.5 545.7L595.7 546.7L594.7 545.8L593.9 546.8L594.5 547.3L593.7 548.3L594.1 548.6L593.3 549.6L592 548.5L591.2 549.5L591.7 549.9L590.9 550.8L591.1 551L590.3 552L590.7 552.3L589.9 553.3L590.2 553.5L589.3 554.4L588.9 554L588.1 555L587.7 554.7L586.9 555.6L587.1 555.8L586.3 556.7L585.6 556.1L584.8 557.1L584.4 556.8L583.6 557.7L584.5 558.5L583.7 559.4L583.4 559.2L582.6 560.1L582.8 560.3L581.9 561.2L582.3 561.6L581.5 562.5L581.2 562.2L580.3 563.1L580.5 563.3L579.6 564.2L579.3 563.9L578.4 564.8L578.5 564.8L577.6 565.7L578.1 566.2L577.3 567.1L576.8 566.6L575.9 567.5L575.7 567.3L574.8 568.2L574.5 568L573.7 568.8L574.2 569.3L573.3 570.2L573.3 570.2L572.4 571.1L572.2 570.9L571.3 571.8L571.7 572.1L570.8 573L570.9 573.1L570 574L569.3 573.3L568.4 574.2L569 574.7L568.1 575.6L568.6 576.1L567.7 577L567 576.3L566.1 577.2L566.3 577.3L565.4 578.2L564.8 577.6L563.9 578.5L564.6 579.2L563.7 580L564.2 580.7L563.3 581.5L562.8 580.9L561.8 581.8L561.9 581.8L561 582.7L561 582.7L560.1 583.5L560.5 584L559.6 584.9L558.9 584.1L557.9 584.9L558.2 585.2L557.3 586L557.2 585.9L556.3 586.8L555.9 586.3L554.9 587.2L555 587.2L554 588L554.4 588.5L553.5 589.3L552.8 588.5L551.9 589.3L552.6 590.2L551.7 591L551.3 590.6L550.4 591.4L550.4 591.5L549.5 592.3L549.1 591.8L548.1 592.6L548.1 592.6L547.1 593.4L547.1 593.3L546.1 594.1L546.4 594.4L545.4 595.2L545.6 595.5L545.5 595.5L539.4 587.8A315.6 315.6 0 0 0 589.9 537.3ZM545.4 595.3L544.4 596.1L544.3 596L543.4 596.8L543.3 596.8L542.3 597.5L542.9 598.3L541.9 599L542.1 599.3L541.1 600L540.4 599.1L539.4 599.9L539.3 599.8L538.3 600.5L538.1 600.3L537.1 601L537.8 601.9L536.8 602.7L536.2 601.8L535.2 602.5L534.9 602.1L533.9 602.9L534.1 603.2L533.1 604L533.5 604.4L532.5 605.2L532.8 605.6L531.7 606.3L531.7 606.3L530.7 607L530.6 606.9L529.6 607.6L528.9 606.7L527.9 607.4L528.1 607.6L527 608.3L527.1 608.4L526 609.1L526.4 609.5L525.3 610.2L525.2 610L524.1 610.7L523.7 610L522.6 610.7L523.2 611.5L522.1 612.2L521.9 611.9L520.9 612.6L520.7 612.3L519.7 613L519.9 613.4L518.9 614L518.6 613.7L517.6 614.3L517.8 614.7L516.7 615.3L516.8 615.5L515.7 616.1L515.9 616.4L514.9 617.1L514.4 616.3L513.3 616.9L513.7 617.6L512.7 618.3L512.6 618.1L511.5 618.7L511.2 618.3L510.1 618.9L510.2 619.1L509.2 619.7L509.4 620L508.3 620.7L508 620.3L507 620.9L507.4 621.6L506.3 622.2L506.2 622L505.1 622.6L505.3 623L504.2 623.6L504.1 623.4L503 624L503 623.9L501.9 624.5L501.8 624.4L500.7 625L500.9 625.3L499.8 625.9L499.5 625.5L498.5 626.1L498.9 626.9L497.8 627.5L497.7 627.3L496.6 627.9L496.1 627L495 627.6L495.5 628.5L494.4 629.1L494 628.3L492.9 628.9L492.7 628.5L491.6 629.1L491.9 629.7L490.8 630.3L490.7 630.1L489.6 630.6L489.7 630.9L488.6 631.5L488.6 631.6L487.5 632.1L487.3 631.8L486.2 632.3L486.4 632.6L485.3 633.2L485 632.6L483.9 633.2L484.2 633.9L483.5 634.2L479.3 625.4A315.6 315.6 0 0 0 539.4 587.8ZM483.1 633.4L482 633.9L481.8 633.5L480.6 634.1L481.2 635.3L480.1 635.8L479.9 635.4L478.8 636L478.5 635.4L477.4 636L477.7 636.6L476.6 637.1L476.3 636.5L475.2 637L475.3 637.3L474.2 637.8L474.3 638.1L473.1 638.6L473 638.3L471.9 638.8L471.7 638.4L470.5 638.9L470.5 638.8L469.4 639.3L469.7 640.1L468.5 640.6L468.8 641.1L467.6 641.5L467.6 641.6L466.5 642.1L466 641L464.9 641.5L464.9 641.6L463.8 642.1L463.9 642.5L462.8 643L462.5 642.2L461.3 642.7L461.3 642.7L460.2 643.1L460.4 643.6L459.2 644.1L459.2 644.2L458.1 644.6L458.4 645.5L457.2 645.9L457.2 645.9L456 646.3L455.8 645.7L454.6 646.1L454.9 646.9L453.7 647.3L453.6 647L452.4 647.4L452.3 647.1L451.2 647.6L451.2 647.7L450 648.1L449.9 647.7L448.7 648.1L448.7 648L447.5 648.4L447.4 648.1L446.2 648.5L446.4 649L445.2 649.4L445.1 649.1L443.9 649.5L444.1 650L442.9 650.4L443 650.6L441.8 651L441.4 649.7L440.2 650.1L440.4 650.7L439.2 651.1L439.3 651.4L438.1 651.7L438.2 652.1L437 652.4L436.8 651.9L435.6 652.3L435.6 652.3L434.4 652.6L434.5 652.8L433.3 653.1L433.1 652.5L431.9 652.8L431.8 652.5L430.6 652.8L430.6 652.9L429.4 653.2L429.4 653.1L428.2 653.5L428.2 653.6L427 653.9L427.2 654.7L427 654.8L424.6 645.6A315.6 315.6 0 0 0 479.3 625.4ZM427.2 655.2L425.9 655.6L425.7 654.6L424.5 654.9L424.5 655L423.3 655.4L423.4 655.9L422.2 656.2L422.4 656.8L421.2 657.1L420.9 656L419.7 656.3L419.7 656.5L418.5 656.7L418.6 657L417.4 657.3L417.2 656.5L416 656.8L415.8 656.1L414.6 656.4L414.9 657.7L413.7 658L413.6 657.6L412.4 657.9L412.7 659.4L411.5 659.6L411.5 659.5L410.2 659.8L410.2 659.7L409 660L408.8 659.1L407.6 659.3L407.6 659.6L406.4 659.8L406.5 660.2L405.3 660.5L405.1 659.8L403.9 660L403.8 659.5L402.6 659.7L402.7 660.4L401.5 660.6L401.6 661.3L400.4 661.5L400.3 661.1L399.1 661.3L399 660.7L397.7 660.9L397.7 660.7L396.5 660.9L396.5 661.3L395.3 661.5L395.4 662.3L394.2 662.5L394.1 661.6L392.8 661.8L392.8 661.7L391.6 661.9L391.6 662.1L390.4 662.3L390.5 662.8L389.2 663L389.1 662.2L387.9 662.4L387.8 662.1L386.6 662.3L386.7 662.9L385.4 663.1L385.4 662.8L384.2 663L384.1 662.8L382.9 662.9L382.9 662.6L381.6 662.8L381.7 663.5L380.5 663.6L380.4 663.3L379.2 663.5L379.3 664.1L378 664.3L378 663.8L376.7 663.9L376.7 663.4L375.5 663.6L375.5 664.4L374.3 664.6L374.3 664.8L373.1 664.9L373 663.9L371.8 664.1L371.9 665.2L370.6 665.3L370.6 665.2L369.3 665.3L369.3 665.2L368.1 665.3L368.1 664.9L367.8 664.9L367.1 655.5A315.6 315.6 0 0 0 424.6 645.6ZM367.8 664.6L366.6 664.7L366.6 665.2L365.4 665.3L365.4 665.2L364.1 665.3L364.1 664.7L362.8 664.7L362.9 666.1L361.7 666.2L361.7 666.4L360.4 666.5L360.4 665.7L359.1 665.8L359.2 666.2L357.9 666.3L357.9 666.3L356.7 666.4L356.6 665.7L355.4 665.8L355.4 666.1L354.1 666.1L354.2 666.3L352.9 666.3L352.9 666L351.6 666.1L351.7 666.4L350.4 666.4L350.4 665.8L349.1 665.9L349.1 665.9L347.9 665.9L347.9 665.9L346.6 666L346.7 666.4L345.4 666.4L345.4 666.1L344.1 666.1L344.1 666L342.9 666L342.9 665.6L341.7 665.6L341.6 666.4L340.4 666.4L340.4 665.4L339.2 665.4L339.2 665L337.9 665L337.9 665L336.7 665L336.7 664.5L335.4 664.5L335.4 664.6L334.2 664.5L334.2 664.6L333 664.5L333 664.2L331.7 664.2L331.7 664.8L330.5 664.8L330.4 664.9L329.2 664.9L329.2 665.2L327.9 665.1L328 665L326.7 665L326.7 665.7L325.4 665.6L325.5 664.1L324.3 664.1L324.2 664.4L323 664.3L323 664.3L321.8 664.2L321.8 664.3L320.5 664.2L320.5 664.2L319.3 664.1L319.2 664.6L318 664.5L317.9 665.3L316.7 665.2L316.7 665.1L315.4 665L315.5 665L314.2 664.8L314.2 664.5L313 664.4L312.9 665.4L311.7 665.3L311.8 664.2L310.5 664.1L310.5 664.7L309.2 664.5L309.2 664.9L307.9 664.7L308 664.2L306.7 664.1L306.8 663.5L305.6 663.4L306.6 654.3A315.6 315.6 0 0 0 367.1 655.5ZM305.7 662.7L304.4 662.5L304.3 663.6L303.1 663.4L303.1 663L301.9 662.9L301.8 663.5L300.6 663.3L300.6 662.7L299.4 662.6L299.4 662.3L298.2 662.1L298 663.4L296.8 663.2L297 662L295.7 661.9L295.6 662.4L294.4 662.2L294.4 662.2L293.2 662L293.4 660.8L292.1 660.6L291.9 661.8L290.7 661.6L290.7 661.9L289.4 661.7L289.5 661.4L288.2 661.2L288.3 661L287.1 660.7L287 661.4L285.7 661.2L285.8 660.8L284.6 660.6L284.5 660.8L283.3 660.6L283.3 660.6L282.1 660.4L282.2 659.7L281 659.4L280.9 659.6L279.7 659.4L279.5 660.3L278.3 660.1L278.4 659.7L277.1 659.4L277.1 659.7L275.9 659.4L276 658.7L274.8 658.5L275 657.7L273.7 657.4L273.6 658.3L272.3 658L272.4 657.9L271.1 657.6L271.1 657.7L269.9 657.4L270.1 656.8L268.8 656.5L268.9 656.5L267.7 656.2L267.7 656L266.5 655.7L266.3 656.4L265.1 656.1L264.9 656.9L263.7 656.6L263.8 656L262.6 655.7L262.8 655.2L261.5 654.9L261.7 654.5L260.5 654.2L260.3 654.8L259.1 654.5L259 654.7L257.8 654.4L257.8 654.5L256.6 654.2L256.7 653.9L255.5 653.6L255.5 653.5L254.3 653.2L254.2 653.3L253 652.9L253 652.9L252.3 652.7L254.9 643.9A315.6 315.6 0 0 0 306.6 654.3ZM252.5 651.9L251.3 651.5L251.2 652.1L250 651.7L249.9 652L248.7 651.6L248.9 651L247.7 650.6L247.4 651.6L246.2 651.3L246.5 650.4L245.3 650L244.9 651.2L243.7 650.9L243.7 650.9L242.5 650.6L242.8 649.6L241.6 649.2L241.2 650.4L240 650L240.5 648.7L239.3 648.3L239.1 648.9L237.9 648.5L238.2 647.7L237 647.3L237 647.4L235.8 647L235.5 647.8L234.3 647.4L234.5 647L233.3 646.6L233 647.3L231.9 646.9L231.9 646.8L230.7 646.4L231.1 645.4L229.9 645L230 644.7L228.8 644.3L228.7 644.5L227.6 644.1L227.7 643.8L226.5 643.4L226.2 644.1L225.1 643.7L225.1 643.6L223.9 643.1L224 643.1L222.8 642.6L222.9 642.3L221.8 641.8L221.6 642.2L220.4 641.8L220.3 642.1L219.2 641.6L219.1 641.7L218 641.2L217.8 641.6L216.7 641.1L216.7 641L215.6 640.5L215.9 639.8L214.7 639.3L214.5 639.8L213.4 639.3L213.3 639.5L212.1 639L212.2 638.9L211 638.4L211.4 637.5L210.3 637L210 637.5L208.9 637L209.3 636.1L208.2 635.6L207.7 636.7L206.5 636.2L207 635.2L205.8 634.7L205.8 634.9L204.6 634.4L204.3 635L203.4 634.5L207.5 625.9A315.6 315.6 0 0 0 254.9 643.9ZM202.9 635.6L201.8 635.1L202.4 633.8L201.3 633.2L200.7 634.4L199.6 633.9L200.1 632.8L199 632.2L198.8 632.6L197.7 632L197.9 631.6L196.8 631.1L196.5 631.6L195.4 631.1L195.4 630.9L194.3 630.4L194.5 630L193.4 629.4L193.4 629.5L192.3 628.9L192.4 628.6L191.3 628L191.1 628.5L190 627.9L190.2 627.5L189.1 626.9L188.7 627.7L187.6 627.1L187.8 626.7L186.7 626.1L186.4 626.7L185.3 626.1L185.2 626.2L184.1 625.6L184.6 624.7L183.5 624.1L183.7 623.7L182.7 623.1L182.9 622.7L181.8 622.1L181 623.4L180 622.8L180 622.7L178.9 622L179.4 621.2L178.3 620.6L178.1 621.1L177 620.5L177 620.5L175.9 619.8L175.9 619.9L174.8 619.2L174.9 619L173.9 618.4L173.4 619.1L172.4 618.4L172.8 617.7L171.8 617L171.6 617.2L170.6 616.6L170.7 616.4L169.6 615.7L169.7 615.7L168.6 615L168 615.9L167 615.2L167.5 614.5L166.4 613.8L166.3 614L165.3 613.3L165.4 613.1L164.3 612.5L164.9 611.6L163.9 610.9L163.5 611.4L162.5 610.7L162.5 610.7L161.5 610L161.8 609.6L160.7 608.9L160.1 609.8L159 609.1L159.6 608.3L158.6 607.6L158.3 608L158.2 608L163.5 600.4A315.6 315.6 0 0 0 207.5 625.9ZM157.6 608.9L156.6 608.2L156.5 608.4L155.4 607.6L155.7 607.3L154.6 606.6L154.7 606.5L153.7 605.8L153.9 605.5L152.9 604.7L152.6 605.1L151.6 604.4L151.2 604.9L150.2 604.2L150.5 603.8L149.5 603.1L149.4 603.2L148.4 602.4L148.3 602.5L147.3 601.7L147.7 601.2L146.7 600.5L146.4 600.9L145.4 600.1L146 599.4L145 598.6L145.1 598.5L144.1 597.7L144.1 597.8L143.1 597L143.1 596.9L142.2 596.2L142.2 596.1L141.2 595.3L141.5 595.1L140.5 594.3L140.4 594.4L139.4 593.6L139.1 594L138.2 593.2L137.9 593.5L136.9 592.7L136.6 593.2L135.6 592.4L136.1 591.7L135.2 590.9L134.5 591.7L133.6 590.9L133.8 590.6L132.9 589.8L132.8 589.8L131.9 589L132 588.9L131.1 588L131.4 587.6L130.5 586.8L130.8 586.5L129.8 585.7L129.4 586.1L128.5 585.3L128 585.9L127 585.1L126.9 585.1L126 584.3L126.6 583.7L125.6 582.8L125.7 582.8L124.7 582L124.3 582.4L123.4 581.6L123.8 581.2L122.8 580.4L122.7 580.5L121.8 579.6L122.1 579.3L121.2 578.4L121.3 578.4L120.4 577.5L119.9 578.1L118.9 577.2L119.5 576.6L118.6 575.8L118.9 575.5L118 574.6L118 574.6L117.9 574.6L124.1 568.2A315.6 315.6 0 0 0 163.5 600.4ZM117.7 574.8L116.8 573.9L116.6 574.2L115.7 573.3L116.1 572.9L115.2 572L114.6 572.6L113.7 571.8L114 571.5L113.1 570.6L112.7 571L111.9 570.1L112.7 569.2L111.8 568.4L111.2 569L110.3 568.1L110.5 567.9L109.6 567L108.8 567.8L107.9 566.9L108.6 566.3L107.8 565.4L108.2 565L107.3 564.1L106.8 564.5L105.9 563.6L106.2 563.4L105.4 562.4L105.6 562.2L104.8 561.3L105.1 561L104.2 560.1L103.9 560.4L103.1 559.5L102.7 559.8L101.9 558.9L102.2 558.6L101.4 557.7L101.4 557.6L100.6 556.7L101 556.3L100.2 555.4L99.6 555.9L98.8 554.9L98.8 554.9L98 554L98.2 553.8L97.4 552.9L97 553.2L96.2 552.2L96.4 552.1L95.6 551.1L95.7 551.1L94.9 550.1L95.1 549.9L94.3 549L93.6 549.5L92.8 548.6L92.7 548.7L91.9 547.7L92.4 547.3L91.6 546.3L91.6 546.3L90.8 545.4L90.9 545.3L90.1 544.3L89.4 544.9L88.6 543.9L89.7 543L89 542.1L88.5 542.4L87.8 541.4L87.3 541.8L86.5 540.8L86.6 540.8L85.8 539.8L85.1 540.4L84.3 539.4L85.1 538.8L84.3 537.8L84.5 537.7L84.1 537.2L91.5 531.6A315.6 315.6 0 0 0 124.1 568.2ZM82.9 538.1L82.2 537.1L82.4 537L81.6 536L82.1 535.6L81.4 534.6L82.5 533.8L81.8 532.8L81.6 532.9L80.9 531.9L80.1 532.4L79.4 531.4L79.3 531.5L78.5 530.5L79.3 529.9L78.6 528.9L78.7 528.9L78 527.8L77.6 528.1L76.9 527L77.2 526.9L76.5 525.8L75.7 526.4L75 525.4L75.6 525L74.8 523.9L74.9 523.9L74.2 522.9L74.2 522.8L73.5 521.8L73.5 521.8L72.8 520.8L72.6 520.9L71.9 519.9L72.7 519.4L72 518.4L72.1 518.3L71.5 517.2L70.8 517.6L70.2 516.6L70.1 516.6L69.4 515.6L69.2 515.7L68.6 514.6L67.9 515L67.3 514L68.4 513.3L67.7 512.2L67.5 512.3L66.9 511.3L66.4 511.6L65.8 510.5L65.8 510.5L65.1 509.4L64.5 509.8L63.8 508.7L64.3 508.4L63.7 507.4L63.4 507.5L62.8 506.5L63 506.3L62.4 505.3L62 505.5L61.4 504.4L61.9 504.1L61.3 503L60.9 503.2L60.3 502.1L61.5 501.5L60.8 500.4L59.4 501.2L58.8 500.1L59.9 499.5L59.3 498.4L59.3 498.4L58.7 497.3L58.1 497.6L57.5 496.5L57.7 496.4L57.1 495.4L57 495.4L56.4 494.3L56.9 494L56.7 493.6L64.5 489.5A315.6 315.6 0 0 0 91.5 531.6ZM55.5 494.2L54.9 493.1L54.9 493.2L54.3 492L55 491.7L54.4 490.6L53.9 490.9L53.3 489.8L53.9 489.5L53.3 488.4L53.5 488.3L52.9 487.2L52.8 487.2L52.3 486.1L52 486.2L51.4 485.1L51.5 485L51 483.9L51.3 483.8L50.7 482.7L49.9 483.1L49.4 481.9L50.4 481.5L49.8 480.3L48.7 480.9L48.2 479.7L48.8 479.4L48.3 478.3L47.4 478.7L46.9 477.6L48 477.1L47.5 475.9L46.8 476.3L46.3 475.1L47.2 474.7L46.7 473.6L47 473.4L46.4 472.3L46.7 472.2L46.2 471L45.1 471.5L44.6 470.4L45.5 470L45 468.9L45.1 468.8L44.6 467.7L44.3 467.8L43.8 466.6L43.9 466.6L43.4 465.5L43.2 465.5L42.8 464.4L42.2 464.6L41.7 463.5L41.4 463.6L41 462.4L40.7 462.5L40.2 461.4L41.2 461L40.8 459.8L40 460.1L39.5 458.9L40.2 458.7L39.8 457.5L40 457.4L39.6 456.3L38.4 456.7L38 455.5L38.3 455.4L37.9 454.2L38 454.2L37.6 453L38 452.9L37.6 451.7L38.1 451.5L37.7 450.3L37.1 450.5L36.7 449.3L37.4 449.1L37 447.9L36.4 448.1L36 447L36.7 446.7L36.2 445.6L36.1 445.6L35.8 444.8L44 442A315.6 315.6 0 0 0 64.5 489.5ZM35.6 444.8L35.2 443.6L34.9 443.7L34.5 442.6L35.4 442.2L35.1 441.1L35.1 441L34.7 439.9L34.5 439.9L34.1 438.7L33.3 439L32.9 437.8L33.1 437.8L32.7 436.6L32.7 436.6L32.3 435.4L32 435.5L31.6 434.3L32.4 434.1L32.1 432.9L31 433.2L30.6 432L31.7 431.7L31.3 430.5L30.8 430.6L30.5 429.4L30.4 429.5L30.1 428.3L30.5 428.1L30.2 426.9L30.6 426.8L30.3 425.6L29.4 425.8L29.1 424.6L28.8 424.7L28.5 423.5L29.2 423.3L28.8 422.1L28.5 422.2L28.2 421L27.8 421.1L27.5 419.9L27.8 419.8L27.5 418.6L27.6 418.6L27.3 417.4L27.5 417.3L27.2 416.1L26.7 416.2L26.4 415L25.9 415.2L25.6 413.9L25.7 413.9L25.4 412.7L26 412.6L25.7 411.3L25.8 411.3L25.6 410.1L25.5 410.1L25.2 408.9L24.8 409L24.5 407.8L25 407.7L24.7 406.5L24.3 406.5L24.1 405.3L24.2 405.3L24 404.1L23.6 404.1L23.3 402.9L24.2 402.8L23.9 401.6L32.9 399.9A315.6 315.6 0 0 0 44 442ZM23.4 401.7L23.2 400.5L23.9 400.4L23.7 399.2L23.7 399.1L23.5 397.9L23.3 398L23.1 396.7L22.5 396.8L22.3 395.6L22.9 395.5L22.7 394.3L22.7 394.3L22.5 393L22.6 393L22.4 391.8L22.2 391.8L22 390.6L21.4 390.7L21.2 389.5L22 389.3L21.8 388.1L21.6 388.1L21.4 386.9L21.7 386.9L21.5 385.6L21.9 385.6L21.7 384.3L20.8 384.5L20.6 383.2L20.8 383.2L20.7 382L20.1 382L19.9 380.8L20.3 380.8L20.1 379.5L20 379.5L19.9 378.3L19.9 378.3L19.8 377L20.2 377L20 375.8L19.6 375.8L19.5 374.6L18.6 374.7L18.5 373.4L19.4 373.3L19.3 372.1L19.4 372.1L19.3 370.8L20.1 370.7L20 369.5L19.7 369.5L19.6 368.3L19.3 368.3L19.2 367.1L18.6 367.1L18.5 365.9L18.8 365.9L18.7 364.6L19 364.6L18.9 363.3L18.5 363.4L18.4 362.1L19.5 362.1L19.4 360.8L18.1 360.9L18.1 359.6L19.4 359.6L19.3 358.3L19.3 358.3L19.3 357.1L18.1 357.1L18.1 357L27.7 356.5A315.6 315.6 0 0 0 32.9 399.9ZM17.8 357L17.8 355.7L18.1 355.7L18.1 354.5L19.1 354.4L19 353.2L18.3 353.2L18.3 352L18.3 352L18.2 350.7L17.8 350.7L17.7 349.5L18.4 349.5L18.4 348.2L17.3 348.2L17.2 347L17.3 347L17.3 345.7L17.2 345.7L17.2 344.5L18 344.5L18 343.2L18.3 343.2L18.3 342L17.3 342L17.3 340.7L18 340.7L18 339.5L17.8 339.5L17.8 338.8L27.3 338.9A315.6 315.6 0 0 0 27.7 356.5Z" fill="#c2c2c2"/>
<path d="M438.2 39.9L441.1 30.6M468.6 51.3L472.3 42.6M380.5 27.4L381.5 18.6M365.9 26L366.6 15.8M403.8 31.1L405.8 21.4M380.2 27.4L381.4 17.7M372 26.5L372.8 17.8M398.9 30.2L400.5 21.2M427 36.6L429.2 28.6M409.6 32.3L411.6 22.9M385.7 28.1L386.8 19.7M454.6 45.6L458.1 36.2M472.6 53.1L476.6 44.2M404.1 31.2L406 21.4M353.1 25.4L353.4 15.5M347.2 25.2L347.3 15.6M458.9 47.3L462.3 38.6M348.5 25.3L348.7 16.2M437.8 39.8L440.8 30.4M419.7 34.7L422 25.8M384.8 28L386 19.2M448.5 43.4L452.1 33.3M345.5 25.2L345.6 16.2M361.4 25.7L361.9 16.3M404.4 31.2L406.2 22M346.3 25.2L346.4 16.2M453.4 45.2L457 35.5M375.1 26.9L376.2 17M362.1 25.8L362.6 16.3M349.3 25.3L349.5 16.4M427.5 36.7L429.7 28.7M403.3 31L405.2 21.2M427.6 36.8L429.8 28.7M430.8 37.7L433.6 28.2M450.5 44.1L453.9 34.9M469.6 51.8L473.4 43.2M434.7 38.8L437.1 30.8M370 26.4L370.8 16.8M407.1 31.8L409.1 22.1M367.2 26.1L367.9 17M344.4 25.2L344.4 15.9M406.7 31.7L408.7 22.1M438.5 40L441.5 30.8M367.2 26.1L368 17M379.9 27.4L381 17.7M389.8 28.7L391.1 19.9M436.3 39.4L439.1 30.6M413.1 33.1L415.3 23.6M425.5 36.2L427.7 28M396.5 29.8L398.2 20.3M397 29.9L398.6 20.4M397.4 29.9L399.1 20.1M397.8 30L399.6 20.2M398.3 30.1L400 20.3M398.7 30.2L400.3 21.2M399.1 30.3L400.8 21.3M399.6 30.3L401.1 22M400 30.4L401.5 22.1M511 73.7L516.1 65.7M528.4 85.5L533.6 78.4M552.2 104.6L558.2 97.7M515.7 76.7L520.7 69.1M560.9 112.6L566.9 106.4M554.8 107L561.1 100M556.8 108.7L563.2 101.8M492.5 62.9L496.8 54.9M481.8 57.4L485.8 49.2M519 78.9L524.1 71.3M558 109.9L564.4 103M538.7 93.3L544.2 86.3M497.8 65.8L502.5 57.6M545.2 98.5L551.1 91.4M516 76.9L521 69.4M489.5 61.3L494.1 52.5M532 88.1L537.4 80.8M541 95.1L546.3 88.5M497.1 65.4L501.8 57.1M503.7 69.3L508.8 60.7M557.7 109.6L563.8 103.1M519.3 79.1L524.4 71.6M554.9 107L561.2 100.1M530.1 86.7L535.4 79.6M560.3 112L566.5 105.5M518.6 78.6L523.7 71M518.9 78.9L524.1 71.3M519.3 79.1L524.4 71.6M519.7 79.4L524.8 71.8M558.3 110.1L564.7 103.3M558.6 110.4L565 103.6M559 110.7L564.8 104.6M559.3 111L565.1 104.9M559.6 111.4L565.4 105.2M602.6 161.5L610.3 156.2M579.9 132.4L587.2 126.1M599.5 157L606.4 152.1M599.4 156.9L606.3 151.9M588.4 142.5L595.4 136.8M577 129.1L583.6 123.1M601.4 159.7L608.9 154.5M597.2 153.9L604.4 148.6M601.3 159.6L608.8 154.3M571.8 123.5L578.9 116.8M584.8 138.1L592.4 131.7M586.5 140.1L594 133.8M584.3 137.5L591.9 131.1M591.8 146.7L599.7 140.6M600.1 157.9L607.3 152.7M600.3 158.2L607.6 153.1M600.6 158.6L608.3 153.2M600.8 158.9L608.5 153.5M601.1 159.3L608.8 153.9M588.7 142.8L595.6 137.2M588.9 143.1L596.2 137.3M589.2 143.5L596.5 137.6M589.5 143.8L596.8 138M589.8 144.2L597.1 138.3M590 144.5L597.4 138.7M590.3 144.9L597.6 139M590.6 145.2L597.8 139.5M590.9 145.5L598.1 139.9M591.1 145.9L599 139.7M591.4 146.2L599.3 140.1M588.2 142.2L595.2 136.6M588.5 142.6L595.5 137M588.8 142.9L595.7 137.3M589 143.3L596.4 137.4M624 197.4L632.6 193M616.6 183.7L624.5 179.1M620.8 191.2L628.3 187.1M615.1 181.1L623 176.5M620.1 189.9L628.8 185.2M612.3 176.4L620.3 171.6M620.7 191L628.2 187M633.7 218.2L643.3 214.1M622.1 193.7L630.4 189.3M635.3 222.1L643.6 218.7M610.2 173L617.9 168.2M614.4 179.9L623.2 174.6M624 197.4L632.6 193M617.8 185.8L626.4 180.9M628.4 206.2L637.3 202M628.6 206.6L637.8 202.3M628.7 207L638 202.7M628.9 207.4L638.1 203.1M629.1 207.8L637.9 203.8M629.3 208.2L638.1 204.2M629.5 208.6L638.2 204.6M629.7 209L639 204.7M629.9 209.4L639.2 205.2M630 209.8L639.4 205.6M630.2 210.2L639.6 206M650.1 268.4L658.8 266.3M654.6 291.3L663.2 289.9M657.4 314.9L667.7 314.1M644.7 248.5L653.7 245.8M639.7 233.6L648.8 230.3M649.8 267.3L658.5 265.2M652 277.1L661.2 275.2M657.5 316.2L666.5 315.5M644.9 249L654 246.3M650.2 269.1L659.2 267M647.5 258.1L656.4 255.7M656.2 302.8L665 301.7M656 301.4L665.5 300.2M649.1 264.3L658.8 261.8M657.2 312.7L666.6 311.8M638.2 229.4L647 226.1M645.9 252.6L655.4 249.9M638.5 230.3L647.3 227M645.2 250.2L654.6 247.4M656.8 308.1L666.1 307.1M657.6 316.6L666.6 315.9M652.7 280.3L661.4 278.6M652.4 279.3L661.1 277.5M649.8 267.4L658.5 265.3M648.7 262.8L658 260.5M651.3 273.6L660.5 271.6M653.3 283.5L662.1 281.9M642.6 241.9L650.5 239.3M656.5 305.1L665.7 304M656.5 305.5L665.8 304.5M656.6 305.9L665.7 304.9M656.6 306.4L665.8 305.4M650.7 271.1L660.4 268.9M650.8 271.5L660.1 269.4M650.9 271.9L660.2 269.9M651 272.4L660.8 270.2M651.1 272.8L660.9 270.6M651.2 273.2L661 271.1M651.3 273.7L660.5 271.7M651.4 274.1L660.6 272.1M651.5 274.5L660.7 272.5M657.3 368.2L667.4 369.1M658.5 336.1L667.6 336M653.9 394.7L663.4 396.4M653 399.7L661.5 401.3M658.5 344.2L667.9 344.3M657.9 321.9L667.9 321.3M658.5 342.9L668.1 343M652.1 404.1L662 406.1M651.3 407.7L660.5 409.7M658.1 325.4L667.6 324.9M656.8 373.6L666.9 374.7M656.7 374.7L666.7 375.8M655.5 384.5L665.7 385.9M657.9 359.6L667 360.1M658.4 332.3L667.3 332M656.7 374.8L666.7 375.9M655 387.8L663.5 389.1M658.4 349.6L667.8 349.9M658.5 343.6L667.9 343.7M658.2 327.9L667.6 327.5M658 323.3L667.8 322.7M658.5 336.5L667.6 336.3M657.3 368.7L667.6 369.6M657.2 369.1L667.5 370.1M657.2 369.6L667.5 370.5M657.1 370L667.5 371M658.3 331L668.8 330.6M658.4 331.4L667.3 331.1M658.4 331.9L667.3 331.6M650.4 411.9L659.2 414M649.9 414L658.8 416.1M634.9 460.5L642.6 463.6M639.6 448.4L648.3 451.6M641.1 444L650.4 447.2M630.4 471L638.8 474.8M642.1 441.1L651.1 444.1M647.9 421.9L656.9 424.3M645.2 431.4L653.9 434M635 460.2L642.7 463.3M641.1 444.3L650.4 447.5M648.7 419L657.9 421.4M642.9 438.9L652.4 442.1M646.5 426.9L655.7 429.5M646.4 427.3L655.5 429.9M646.3 427.7L654.8 430.2M638.9 450.2L647.7 453.5M638.8 450.6L647 453.7M638.6 451.1L646.9 454.1M638.5 451.5L646.7 454.6M638.3 451.9L646.8 455.1M607.1 513.4L615.8 519.2M590.9 535.9L598.7 542M594.4 531.5L601.4 536.7M598.6 525.7L606.4 531.4M600.3 523.5L608.1 529M613.1 503.9L621.1 508.7M610.5 508L618.6 513.1M629.6 472.7L636.9 476M593 533.3L599.6 538.4M596.5 528.6L603.8 534M612 505.6L619.2 510M593.6 532.5L601.2 538.2M601.3 522.1L609.4 527.7M605 516.6L612.5 521.7M628.7 474.6L636.3 478.2M615.8 499.3L623.8 504M625.6 481.2L634 485.4M619.3 493.2L627.1 497.5M597.1 527.9L604.9 533.7M629.8 472.3L637 475.7M605.6 515.6L613 520.5M594.2 531.7L601.2 537M597.8 526.9L605.2 532.3M617.5 496.4L625.1 500.7M623.9 484.4L632.7 488.9M623.7 484.8L632.5 489.3M623.5 485.2L632.3 489.7M623.3 485.6L632.4 490.3M623.1 486L632.2 490.7M612.3 505.2L620.6 510.3M612 505.6L619.2 510M611.8 506L618.9 510.4M611.6 506.4L619.7 511.4M611.3 506.8L619.4 511.8M611.1 507.1L619.2 512.1M610.9 507.5L618.9 512.5M610.6 507.9L618.7 512.9M569.8 560.1L576.7 566.7M542 585.7L547.8 592.8M587.1 540.7L594.2 546.4M579.6 549.6L586.9 556M569.1 560.9L575.9 567.5M542.6 585.1L548.5 592.3M556 573.6L562.7 581M547.1 581.4L553.7 589.1M553 576.3L560.2 584.4M566 564L572.7 570.7M559.8 570.1L566.3 577M544.3 583.8L550.5 591.3M550.1 578.9L556.7 586.4M555.6 573.9L562.3 581.3M540.4 586.9L546.1 594M584.9 543.3L591.7 549M587.8 539.9L595.9 546.5M580.8 548.2L588.3 554.7M584.4 544L591.6 550M541 586.5L546.7 593.6M545.7 582.6L552.3 590.5M553.9 575.5L560.7 583M551.4 577.7L558.1 585.3M552.7 576.5L559.9 584.6M583.5 545L590.9 551.3M566.8 563.2L573.5 569.9M541.9 585.7L547.7 592.9M541.6 586L547.4 593.2M541.2 586.3L547 593.4M540.9 586.6L546.6 593.6M540.6 586.8L546.3 593.9M487.1 621.5L491.4 630M527.8 596.6L533.4 604.5M484.4 622.9L488.7 631.5M498.9 615.2L503.7 623.6M492.6 618.6L497.4 627.5M483.6 623.3L487.9 631.9M495.3 617.1L500.1 625.7M489 620.6L493.2 628.7M483 623.6L487.1 631.9M499 615.1L503.8 623.5M481.9 624.1L486.2 632.8M495.5 617L500.3 625.6M489.6 620.2L493.9 628.3M509.7 608.7L514.9 617.1M514.3 605.8L519.4 613.7M519.7 602.2L525.1 610.1M485.8 622.2L490 630.4M507.2 610.3L512.1 618.3M486.6 621.8L490.9 630.3M534.5 591.6L540.3 599.2M490.6 619.7L495.4 628.6M499.8 614.7L504.7 623.3M499.8 614.6L504.7 623.3M434.7 642.7L437.6 652.3M438.2 641.7L440.8 649.9M466.2 631.3L469.6 639.2M476.2 626.9L480.3 635.7M475.4 627.2L479.3 635.7M431.7 643.7L434.3 652.8M477.1 626.5L481.2 635.3M446.5 638.9L449.6 647.8M447.7 638.5L450.9 647.8M443.7 639.9L446.6 648.4M469.6 629.9L473.3 638.5M469.2 630L472.8 638.4M468.7 630.2L472.4 638.6M468.3 630.4L472 638.8M467.9 630.6L471.4 638.5M467.5 630.7L471 638.7M467.1 630.9L470.5 638.9M466.7 631.1L470.1 639M466.3 631.3L469.7 639.2M465.9 631.4L469.6 640.1M428.7 644.5L431 652.7M428.3 644.6L430.6 652.9M427.9 644.8L430.2 653M427.4 644.9L429.7 653.1M427 645L429.3 653.2M426.6 645.1L428.8 653.3M426.2 645.2L428.4 653.4M425.7 645.3L428 653.7M387 653.3L388.2 662.3M375.4 654.7L376.3 663.5M392.9 652.4L394.5 662.4M398.6 651.4L400.4 661.5M395.7 652L397.2 660.8M367.2 655.5L368 664.9M390.5 652.8L391.9 661.8M414.1 648.3L416.1 656.8M371.4 655.1L372.2 664M388.1 653.2L389.5 663M397.1 651.7L398.7 660.8M368.5 655.4L369.3 665.2M401.4 650.9L403.1 659.6M401 651L402.6 659.7M400.6 651.1L402.3 660.4M400.1 651.2L401.9 660.5M399.7 651.2L401.6 661.3M399.3 651.3L401.1 661.4M398.8 651.4L400.7 661.5M398.4 651.5L400.1 661.1M398 651.6L399.7 661.2M397.5 651.6L399.2 661.3M312.6 654.9L311.7 664.2M332.3 656.2L332 664.2M327.4 656L326.9 665M326.9 656L326.4 665.7M339.9 656.4L339.8 665.4M320.6 655.6L320 664.2M330.4 656.2L330 664.9M307.1 654.4L306 663.5M318.5 655.5L317.8 665.3M313.4 655L312.5 665.4M364.9 655.6L365.5 665.3M338.8 656.4L338.7 665M357.9 656L358.4 666.3M348.6 656.3L348.8 665.9M362.7 655.8L363.3 664.7M314.5 655.1L313.7 664.5M339.5 656.4L339.4 665.4M333.4 656.3L333.1 664.5M317.1 655.3L316.3 665.1M320.5 655.6L319.9 664.2M314.6 655.1L313.8 664.5M364.9 655.6L365.6 665.3M303.1 653.9L301.9 662.9M268.5 647.5L266.5 655.7M297.7 653.1L296.4 662M257.7 644.7L255.3 653.4M291.5 652.2L289.9 661.8M299 653.3L297.6 663.3M268.7 647.6L266.7 655.8M285.1 651.1L283.3 660.6M262.3 645.9L260 654.7M293.9 652.6L292.6 660.7M258.6 644.9L256.1 653.8M300 653.5L298.8 662.2M299.5 653.4L298.3 662.1M299.1 653.3L297.7 663.3M298.7 653.3L297.2 663.3M214.5 629.1L210.9 637.2M235.9 637.7L232.6 647.1M240.7 639.4L237.9 647.6M238.3 638.5L235.1 647.7M246.1 641.2L243 650.7M237.8 638.4L234.6 647.5M215.5 629.5L211.5 638.6M224.8 633.5L221.3 642.1M217.9 630.6L214.1 639.6M221.6 632.1L217.7 641.5M219.6 631.3L215.7 640.6M217.7 630.5L213.9 639.5M236.7 638L233.6 646.7M252.2 643.1L249.5 651.9M251.8 643L249.1 651.8M251.3 642.8L248.9 651M250.9 642.7L248.4 650.8M230 635.5L226.9 643.5M229.6 635.3L226.2 644.1M229.1 635.2L225.8 643.9M228.7 635L225.3 643.8M228.3 634.9L224.9 643.5M248 641.8L245.4 650M247.6 641.7L244.6 651.1M247.2 641.5L244.1 651M246.7 641.4L243.7 650.9M246.3 641.3L243.2 650.8M245.9 641.1L242.8 650.7M245.5 641L242.7 649.5M245.1 640.8L242.3 649.4M170.8 605.3L165.5 613.4M196.2 620.2L192 628.3M173.6 607.2L168.6 615M164.7 601.3L159.3 609.3M174.7 607.9L169.8 615.8M207.5 625.9L202.8 635.6M193.6 618.9L189.3 626.9M192.8 618.4L188 627.4M163.5 600.5L158.3 608M179.8 611L174.9 619M200.9 622.7L196.4 631.6M203.9 624.1L199.8 632.6M133.7 577.1L126.7 584.9M143.6 585.5L137.5 593.1M132 575.6L125.6 582.7M153.2 593L147.2 600.9M149.8 590.4L144.1 597.7M138.2 581L131.7 588.6M143.6 585.5L137.4 593.1M134.7 577.9L127.8 585.7M156.9 595.7L150.6 604.4M142.8 584.8L136.2 592.9M160.6 598.4L154.7 606.7M135.4 578.6L129.1 585.8M127 571L120.6 577.8M147.7 588.8L142 595.9M136.2 579.3L130.3 586.1M135.9 579L130 585.8M135.5 578.7L129.3 585.9M135.2 578.4L128.9 585.6M134.9 578.1L128.6 585.3M134.5 577.8L127.7 585.6M134.2 577.6L127.3 585.3M133.9 577.3L126.9 585.1M146.8 588.1L141.3 594.9M146.4 587.8L140.9 594.7M146.1 587.5L140.6 594.4M145.7 587.2L140.2 594.2M145.4 587L139.8 593.9M145 586.7L139.5 593.6M144.7 586.4L138.8 593.7M144.4 586.1L138.4 593.4M144 585.8L137.9 593.4M131.2 574.9L124.3 582.4M130.9 574.6L124 582.1M130.5 574.3L123.7 581.8M130.2 574L123.7 581.1M129.9 573.7L123.3 580.8M129.6 573.4L123 580.5M129.2 573.1L122.6 580.3M128.9 572.8L122.2 580M128.6 572.5L121.9 579.7M128.3 572.2L121.9 579M100.5 542.9L93.2 549M118.6 562.8L112.4 568.9M104.1 547.1L97.4 552.9M99.7 542L92.3 548.2M99.3 541.5L92.3 547.2M95.8 537.1L89.2 542.4M96.4 537.9L88.7 544.1M95.4 536.6L88.4 542.2M105 548.1L98.1 554.1M101.5 544.1L94.9 549.7M103.3 546.3L96.3 552.3M117.8 562L110.9 568.8M114.4 558.5L107.9 564.6M97.7 539.4L90.7 545.1M112.3 556.3L105.5 562.6M114.1 558.2L107.6 564.4M112.3 556.3L105.5 562.6M111.2 555.1L104.9 560.9M110.9 554.8L104.6 560.6M110.6 554.5L104.3 560.2M104 547L97 553.1M103.7 546.7L96.7 552.8M103.4 546.4L96.4 552.4M103.1 546L96.3 551.9M102.9 545.7L96 551.6M102.6 545.4L95.7 551.2M102.3 545L95.5 550.8M102 544.7L95.2 550.5M77 510.7L69.2 515.7M73 504.3L64.3 509.5M64.5 489.5L56.7 493.7M81 517L73.6 521.9M75.7 508.8L67.3 514.1M86.3 524.6L79.2 529.8M70 499.3L61.9 504M70 499.3L61.8 504M77.4 511.5L69.9 516.3M84.4 521.9L77 527.1M87.7 526.5L79.9 532.2M79.8 515L72.1 520.1M84.4 521.9L77 527.1M84 521.3L76.8 526.3M83.7 520.9L76.5 525.9M83.5 520.5L75.5 526.1M83.2 520.2L75.2 525.7M83 519.8L75.5 524.9M82.7 519.4L75.3 524.6M82.5 519.1L75 524.2M82.2 518.7L74.8 523.8M82 518.4L74.5 523.4M81.7 518L74.3 523M81.5 517.6L74.1 522.6M82.6 519.3L75.2 524.4M82.4 519L74.9 524.1M82.1 518.6L74.7 523.7M81.9 518.2L74.5 523.3M81.7 517.9L74.2 522.9M64.1 488.7L55.1 493.5M48.7 454.9L40.1 458.3M57.1 474.7L48.5 478.7M62.5 485.6L53.6 490.2M50.4 459.2L41.2 463M47.2 451.1L38 454.5M63.7 487.9L54.6 492.7M50.4 459.4L41.2 463.1M58.5 477.6L49.4 482M51.6 462.3L43.5 465.7M47.5 451.8L38.3 455.3M50.3 459.2L41.1 462.9M48.8 455.4L39.6 459M62 484.6L53.6 488.9M52.7 465L44.9 468.3M52.6 464.6L44.7 467.9M52.4 464.2L44.2 467.6M52.2 463.7L44 467.2M52.1 463.3L43.9 466.8M43.8 441.4L35.4 444.2M37.7 421.2L28.5 423.6M34.4 407.6L25.4 409.6M33.7 404.2L24.3 406.2M33 400.4L24 402.1M36.4 416L27.5 418.2M40.4 430.7L32.1 433.2M34.5 407.8L25.4 409.8M33.9 405.1L24.8 407M33.8 404.7L24.7 406.5M33.7 404.2L24.2 406.2M33.7 403.8L24.2 405.7M33.6 403.4L24.2 405.3M33.5 402.9L24.1 404.8M34.5 407.9L25.4 409.9M34.4 407.5L25.3 409.4M34.3 407L25.2 409M34.2 406.6L24.7 408.6M34.1 406.2L24.6 408.2M34.1 405.7L25 407.7M34 405.3L24.9 407.2M33.9 404.9L24.8 406.8M33.8 404.5L24.3 406.4M28.2 364.2L18.7 364.9M27.7 356.9L19.3 357.4M32.7 399.1L23.3 400.8M29.1 374.5L19.6 375.5M29.7 379.5L20.3 380.7M29.5 378.2L20 379.3M29.3 376.1L19.8 377.2M27.8 358.9L19.4 359.4M32.1 395.6L23.1 397.2M27.9 361L19.5 361.6M27.9 360.6L19.4 361.1M27.9 360.1L18.1 360.7M27.9 359.7L18.1 360.3M27.8 359.3L18.1 359.8M27.8 358.8L19.4 359.3M27.8 358.4L19.4 358.8M27.8 357.9L19.4 358.4M27.7 357.5L19.3 357.9M27.7 357.1L19.3 357.5M27.4 348L18.4 348.2M27.4 350.5L18.2 350.7M27.5 351.6L18.3 351.9M27.3 345.6L17.3 345.8" stroke="#f06a4a" stroke-width="0.9" fill="none"/>
<path d="M342.9 28.6L344 28.6L344 29.7L345.1 29.7L345.1 28.1L346.2 28.1L346.2 29L347.3 29L347.3 27.7L348.4 27.8L348.4 28L349.5 28.1L349.4 28.8L350.5 28.8L350.6 27.3L351.7 27.4L351.6 27.7L352.7 27.7L352.7 28L353.8 28.1L353.9 27.1L354.9 27.2L354.9 27.8L356 27.9L356 28.1L357.1 28.1L357.1 28.9L358.2 29L358.1 29.6L359.2 29.7L359.3 28.7L360.3 28.8L360.2 30.5L361.3 30.6L361.4 30L362.5 30L362.5 29.5L363.6 29.6L363.6 28.6L364.7 28.7L364.6 30.8L365.7 30.9L365.8 29.3L366.9 29.4L366.9 28.9L368 29L368 28.9L369.1 29L369 29.7L370.1 29.8L370.1 29.6L371.2 29.7L371.2 29.7L372.3 29.8L372.3 30L373.4 30.1L373.4 29.5L374.5 29.7L374.4 30.6L375.5 30.7L375.7 29L376.8 29.1L376.7 29.9L377.8 30L377.8 30L378.8 30.2L378.7 31.1L379.8 31.2L379.9 30.6L381 30.8L380.8 31.9L381.9 32L382.1 30.3L383.2 30.4L383.2 30.3L384.3 30.4L384.2 31.2L385.3 31.4L385.2 32.2L386.2 32.4L386.3 31.7L387.4 31.8L387.7 30.1L388.8 30.3L388.5 32L389.6 32.2L389.5 32.9L390.5 33.1L390.8 31.3L391.9 31.5L391.7 33L392.7 33.2L392.8 32.9L393.8 33.1L393.8 33.5L394.8 33.7L394.9 33.6L395.9 33.8L395.9 34.1L397 34.3L397 33.7L398.1 33.9L398.2 33.5L399.3 33.7L399.2 34L400.3 34.2L400.1 35L401.2 35.2L401 36L402.1 36.2L402.3 35.2L403.4 35.4L403.4 35.4L404.4 35.7L404.4 36L405.4 36.2L405.6 35.5L406.6 35.7L406.7 35.5L407.8 35.7L407.9 34.9L409 35.2L408.9 35.7L409.9 35.9L410.2 34.5L411.3 34.8L411.1 35.7L412.2 35.9L412.3 35.2L413.4 35.4L413.3 35.8L414.4 36.1L414.1 37.4L415.1 37.7L415.3 36.9L416.4 37.1L415.9 38.9L417 39.2L417.3 37.8L418.4 38L418.3 38.4L419.4 38.6L419.6 37.7L420.7 38L420.2 39.9L421.2 40.2L421.8 38L422.8 38.3L422.5 39.4L423.6 39.7L423.9 38.4L425 38.7L424.9 39L425.9 39.3L425.4 41.3L426.4 41.6L426.3 42.1L427.3 42.4L427.8 40.9L428.8 41.2L428.6 41.8L429.7 42.1L429.6 42.4L430.6 42.7L431.4 40.2L432.4 40.5L432 42L433 42.3L433.3 41.3L434.4 41.6L434.3 42L435.3 42.3L435 43.2L436.1 43.5L436.1 43.4L437.1 43.8L436.9 44.5L437.9 44.8L438.6 42.6L439.7 43L439.2 44.5L440.2 44.8L440.3 44.4L441.4 44.8L441 45.8L442 46.2L442 46.4L443 46.7L443.8 44.3L444.9 44.7L445 44.4L446 44.8L445.6 45.8L446.6 46.2L446.7 46L447.7 46.4L448.1 45.2L449.2 45.6L449 46.1L450 46.5L450 46.5L451 46.9L450.8 47.5L451.9 47.8L452.3 46.6L453.3 47L453.2 47.3L454.3 47.7L454 48.4L455 48.8L454.7 49.6L455.7 50L455.8 49.7L456.8 50.1L456.4 51.2L457.4 51.6L457.8 50.6L458.8 51L459 50.6L460 51L459.6 51.9L460.6 52.3L460.9 51.6L461.9 52L461.8 52.4L462.8 52.8L463.3 51.6L464.3 52.1L464.4 51.8L465.4 52.3L464.8 53.5L465.8 54L466.4 52.7L467.4 53.1L466.8 54.5L467.8 55L467.3 56.1L468.3 56.5L468.2 56.7L469.2 57.1L469.9 55.5L470.9 56L470.7 56.5L471.7 57L472.1 56.1L473.1 56.5L473.4 55.9L473.9 56.1L470.2 64.1A304.6 304.6 0 0 0 342.9 36.2ZM472.5 58.9L473.5 59.4L473.2 60L474.2 60.5L474.8 59.2L475.8 59.7L475.1 61.1L476.1 61.6L477.1 59.5L478.1 59.9L477.4 61.4L478.4 61.8L478.7 61.1L479.7 61.5L479.9 61.2L480.8 61.7L480.4 62.6L481.4 63.1L481.8 62.3L482.7 62.8L482.6 62.9L483.6 63.4L483.6 63.5L484.6 64L484.3 64.4L485.3 64.9L485.8 64L486.7 64.5L487 63.9L488 64.4L487.6 65.1L488.6 65.6L488.7 65.4L489.7 65.9L489.5 66.2L490.5 66.8L490.3 67L491.3 67.5L491 68.1L491.9 68.6L491.9 68.6L492.9 69.1L493.6 67.8L494.6 68.3L493.8 69.7L494.7 70.2L495.5 68.9L496.4 69.4L496.2 69.8L497.2 70.3L497.7 69.5L498.6 70L498.9 69.4L499.9 70L499.6 70.4L500.6 71L500.5 71.1L501.5 71.6L500.5 73.3L501.4 73.9L501.4 73.8L502.4 74.3L502.9 73.5L503.8 74.1L504.2 73.4L505.1 74L504.6 74.8L505.6 75.4L504.9 76.4L505.8 77L506.7 75.6L507.6 76.2L506.9 77.3L507.8 77.9L507.4 78.5L508.3 79.1L508.5 78.9L509.4 79.4L509.4 79.4L510.3 80L510.3 80L511.2 80.6L510.9 81.1L511.8 81.7L511.9 81.6L512.8 82.2L513.8 80.6L514.7 81.2L515 80.7L515.9 81.3L514.8 83.1L515.7 83.7L516 83.2L516.9 83.8L516.9 83.8L517.8 84.4L518.7 83L519.6 83.6L519.5 83.8L520.4 84.4L520.9 83.8L521.8 84.4L520.7 86L521.6 86.6L522.7 84.9L523.6 85.5L523.3 86L524.2 86.6L523.8 87.1L524.7 87.8L525.2 87.1L526.1 87.7L525.2 88.9L526.1 89.5L525.9 89.9L526.8 90.5L527.1 90L528 90.7L529.2 89.1L530.1 89.7L529.2 90.8L530.1 91.5L530 91.7L530.8 92.3L531.3 91.7L532.2 92.3L531.5 93.3L532.3 93.9L531.9 94.5L532.7 95.2L533.8 93.8L534.7 94.4L534.1 95.2L535 95.9L534.1 97L534.9 97.7L535.6 96.8L536.4 97.5L536 98.1L536.8 98.7L537 98.5L537.9 99.2L538.4 98.5L539.3 99.2L539.5 98.9L540.3 99.6L540.7 99.2L541.5 99.8L540.1 101.6L540.9 102.3L542.4 100.5L543.3 101.2L541.8 102.9L542.6 103.6L542.5 103.7L543.3 104.4L543.2 104.6L544 105.3L544 105.3L544.9 106L545.2 105.6L546.1 106.3L545.4 107L546.3 107.7L547.1 106.7L548 107.4L548.2 107.1L549.1 107.8L548.9 108L549.7 108.7L550.8 107.5L551.6 108.2L550.5 109.5L551.3 110.2L551.5 109.9L552.3 110.6L551.9 111.2L552.7 111.9L554.3 110.1L555.1 110.8L553.8 112.3L554.6 113L556.1 111.4L556.9 112.1L555.3 113.8L556.1 114.6L556.5 114.1L557.3 114.8L557 115.2L557.7 116L557.6 116.1L558.4 116.9L558.4 116.9L559.1 117.7L558.9 117.9L559.7 118.6L561.5 116.8L562.2 117.6L562.2 117.6L563 118.4L562.5 118.9L563.3 119.7L563.5 119.4L564.3 120.2L564.4 120.1L565.2 120.8L563.8 122.2L564.6 123L564.8 122.7L565.6 123.5L560.9 128.1A304.6 304.6 0 0 0 470.2 64.1ZM565 124.1L565.7 124.9L566.2 124.4L567 125.2L567 125.2L567.7 126L568.7 125L569.5 125.8L569.3 125.9L570.1 126.7L569.3 127.5L570 128.3L571.4 127L572.2 127.8L571 128.8L571.8 129.6L571.4 129.9L572.2 130.7L572.8 130.1L573.5 130.9L573 131.4L573.7 132.2L574.6 131.5L575.3 132.3L575.1 132.5L575.8 133.3L576 133.1L576.8 133.9L576.3 134.3L577.1 135.1L575.6 136.3L576.3 137.2L576.5 137L577.2 137.8L577.6 137.5L578.3 138.3L578.1 138.5L578.8 139.4L580.9 137.5L581.6 138.4L581 138.9L581.7 139.7L582.2 139.3L582.9 140.2L581.2 141.6L581.9 142.4L582.8 141.6L583.5 142.5L582.9 142.9L583.6 143.8L584.6 143L585.2 143.9L584.9 144.1L585.6 145L585.4 145.1L586.1 145.9L585.9 146.1L586.6 146.9L586.4 147.1L587.1 148L587.5 147.6L588.2 148.5L588.6 148.2L589.3 149L588.7 149.4L589.4 150.3L589.9 149.9L590.6 150.7L591.1 150.3L591.8 151.2L592.2 150.9L592.8 151.8L592.2 152.2L592.9 153.1L592.4 153.5L593 154.4L594.4 153.4L595 154.2L594.5 154.7L595.1 155.5L594.8 155.8L595.4 156.7L595.2 156.8L595.8 157.7L596.4 157.3L597 158.2L596.3 158.7L596.9 159.6L595.8 160.4L596.4 161.3L596.8 161L597.4 161.9L597.6 161.8L598.2 162.7L599.5 161.8L600.2 162.7L599.6 163L600.2 163.9L599.2 164.7L599.8 165.6L601.1 164.7L601.4 165.1L594.8 169.6A304.6 304.6 0 0 0 560.9 128.1ZM600.4 165.8L601 166.7L601.4 166.5L602 167.4L602.7 166.9L603.3 167.8L602.9 168.1L603.5 169L604.2 168.5L604.8 169.4L603 170.6L603.6 171.5L603.9 171.3L604.4 172.2L603.3 173L603.9 173.9L605.1 173.1L605.7 174L606 173.8L606.6 174.7L606.2 175L606.8 175.9L607.1 175.7L607.7 176.6L608.3 176.3L608.8 177.2L607.5 178L608 179L609.2 178.2L609.8 179.2L608.7 179.8L609.3 180.8L609.8 180.4L610.4 181.3L611 181L611.6 181.9L611.6 181.9L612.2 182.8L610.6 183.8L611.1 184.7L611.7 184.4L612.2 185.3L612.7 185L613.2 186L613.9 185.6L614.5 186.5L613.6 187L614.2 188L614.3 187.9L614.8 188.8L614.4 189.1L614.9 190L615.4 189.7L616 190.7L615.7 190.8L616.2 191.8L618.5 190.5L619 191.5L617.5 192.3L618.1 193.3L619.3 192.6L619.9 193.5L618.2 194.4L618.7 195.4L618.5 195.5L619 196.4L620.6 195.6L621.1 196.6L620 197.2L620.5 198.1L620.4 198.2L620.9 199.1L621.1 199L621.6 200L621.2 200.2L621.7 201.2L622.2 200.9L622.7 201.9L622.5 202L623 203L621.5 203.7L622 204.7L623.2 204.1L623.7 205.1L623.6 205.1L624.1 206.1L623.4 206.4L623.9 207.4L624.9 206.9L625.4 207.9L624 208.5L624.5 209.5L625.9 208.8L626.3 209.8L626.8 209.6L627.3 210.6L627.6 210.5L628 211.5L627.6 211.7L628 212.7L627.8 212.7L628.3 213.7L627.8 213.9L628.3 214.9L628.3 214.9L628.8 215.9L629.5 215.6L629.9 216.6L630 216.6L630.4 217.6L630.1 217.7L630.5 218.7L630.1 218.9L630.5 219.9L629.7 220.3L630.1 221.3L632.3 220.3L632.7 221.4L631 222.1L631.4 223.1L630.3 223.5L630.7 224.5L632.8 223.7L633.2 224.7L631.2 225.5L631.6 226.5L632.2 226.2L632.6 227.3L633.5 226.9L633.9 227.9L633.3 228.2L633.7 229.2L633.7 229.2L633.9 229.7L627.5 232.1A304.6 304.6 0 0 0 594.8 169.6ZM633.3 229.9L633.7 230.9L634 230.8L634.4 231.8L633.7 232.1L634 233.1L636.4 232.2L636.7 233.3L634.7 234L635.1 235L637.2 234.3L637.6 235.3L636.5 235.7L636.8 236.7L638.4 236.2L638.8 237.2L638 237.4L638.4 238.5L638.1 238.6L638.4 239.6L639.1 239.4L639.5 240.4L638.7 240.7L639 241.7L637.6 242.2L637.9 243.2L638.7 243L639.1 244L640.7 243.5L641 244.5L639.6 245L639.9 246L640.7 245.8L641 246.8L640 247.1L640.4 248.2L641.4 247.8L641.7 248.9L639.7 249.5L640 250.5L639.5 250.7L639.8 251.7L641.5 251.2L641.8 252.3L643 251.9L643.4 252.9L643.5 252.9L643.9 253.9L642.9 254.2L643.2 255.2L642 255.6L642.2 256.7L642.8 256.5L643.1 257.6L641.6 258L641.8 259L641.9 259L642.2 260L643.9 259.6L644.2 260.6L643.7 260.8L644 261.8L643.6 261.9L643.9 263L644.5 262.8L644.8 263.8L644.7 263.9L644.9 264.9L644.3 265.1L644.6 266.1L644.1 266.3L644.3 267.3L646.2 266.9L646.5 267.9L646.8 267.8L647.1 268.9L645.7 269.2L645.9 270.3L647.7 269.9L648 270.9L646.8 271.2L647 272.3L646.7 272.3L646.9 273.4L647 273.4L647.2 274.4L646.8 274.5L647 275.6L647.7 275.5L647.9 276.5L646.5 276.8L646.7 277.9L647.9 277.6L648.1 278.7L648.6 278.6L648.8 279.7L649.2 279.6L649.5 280.7L648.2 280.9L648.5 282L648.1 282L648.4 283.1L648.7 283L648.9 284.1L649.4 284L649.6 285.1L649.1 285.1L649.3 286.2L650.3 286L650.5 287.1L648.7 287.4L648.9 288.5L650.9 288.2L651.1 289.2L649.3 289.5L649.5 290.6L650.7 290.4L650.9 291.5L651 291.4L651.2 292.5L650 292.7L650.2 293.8L651.4 293.6L651.6 294.7L650.8 294.8L650.9 295.9L651.1 295.8L651.3 296.9L652.1 296.8L652.3 297.9L650.5 298.1L650.6 299.2L651.9 299L652.1 300.1L653.1 300L653.3 301L653.5 301L653.6 302.1L652.2 302.3L652.3 303.4L652.6 303.3L652.7 304.4L653.7 304.3L653.9 305.4L654.3 305.3L654.4 306.4L653.8 306.5L653.9 307.6L653.1 307.7L653.2 308.7L653.3 308.7L653.4 309.8L652 309.9L652.1 311L653.4 310.9L653.5 312L654 311.9L654.1 313L652.6 313.2L652.7 314.2L653.8 314.1L653.9 315.2L654.6 315.2L654.7 316.3L653.2 316.4L653.2 316.9L646.6 317.4A304.6 304.6 0 0 0 627.5 232.1ZM652.2 317L652.3 318.1L652.8 318L652.9 319.1L653.9 319L654 320.1L652.9 320.2L653 321.3L652.9 321.3L653 322.4L652.2 322.4L652.3 323.5L653.3 323.4L653.4 324.5L654.6 324.5L654.6 325.6L652.9 325.6L652.9 326.7L654.1 326.7L654.2 327.8L652.9 327.8L652.9 328.9L652.4 328.9L652.5 330L652.7 330L652.7 331.1L653.2 331L653.3 332.1L652.9 332.1L652.9 333.2L653.4 333.2L653.4 334.3L653.2 334.3L653.2 335.4L654.6 335.4L654.6 336.4L653.4 336.5L653.4 337.5L653.2 337.6L653.2 338.6L654.1 338.6L654.1 339.7L653.3 339.7L653.3 340.8L655.2 340.8L655.2 341.9L652.8 341.9L652.8 343L654.1 343L654.1 344.1L652.6 344L652.6 345.1L653.1 345.1L653.1 346.2L653.5 346.2L653.5 347.3L654.7 347.3L654.7 348.4L653.8 348.4L653.8 349.5L654.2 349.5L654.1 350.6L654.4 350.6L654.3 351.7L653.4 351.6L653.4 352.7L652.5 352.7L652.4 353.8L653 353.8L653 354.9L653.4 354.9L653.3 356L652.8 356L652.7 357L654.6 357.1L654.6 358.2L652.9 358.1L652.8 359.2L652.6 359.2L652.5 360.3L651.8 360.2L651.7 361.3L651.8 361.3L651.7 362.4L651.7 362.4L651.7 363.5L654.3 363.7L654.2 364.8L653.9 364.7L653.8 365.8L653.4 365.8L653.3 366.9L652.9 366.8L652.8 367.9L653.1 367.9L653 369L652.4 369L652.3 370L652.4 370.1L652.3 371.1L651.7 371.1L651.6 372.2L652.6 372.3L652.5 373.3L653.5 373.4L653.4 374.5L653.5 374.5L653.3 375.6L653.8 375.7L653.7 376.8L652.9 376.7L652.8 377.8L652.3 377.7L652.2 378.8L652.2 378.8L652.1 379.9L651.6 379.8L651.5 380.9L651.7 380.9L651.5 382L650.2 381.8L650 382.9L651 383L650.8 384.1L651 384.1L650.8 385.2L649.6 385L649.4 386.1L651.9 386.4L651.8 387.5L650.2 387.3L650 388.3L650.4 388.4L650.3 389.5L650.1 389.5L649.9 390.5L651.6 390.8L651.4 391.9L650.9 391.8L650.7 392.9L650.8 392.9L650.7 394L649.5 393.8L649.3 394.8L648.8 394.7L648.6 395.8L650.7 396.2L650.5 397.3L648.8 396.9L648.6 398L649.8 398.2L649.6 399.3L649.9 399.4L649.7 400.4L648.3 400.2L648.1 401.2L648.9 401.4L648.7 402.5L649.4 402.6L649.2 403.7L647.5 403.3L647.2 404.4L648.9 404.7L648.7 405.8L647.5 405.5L647.3 406.6L648.5 406.9L648.3 407.9L640.4 406.2A304.6 304.6 0 0 0 646.6 317.4ZM646.2 407.5L646 408.5L647.1 408.8L646.9 409.9L647.2 409.9L647 411L647 411L646.8 412.1L645.8 411.8L645.5 412.9L645.2 412.8L644.9 413.9L646.9 414.4L646.7 415.4L644.2 414.8L643.9 415.8L644.7 416.1L644.5 417.1L644.2 417L643.9 418.1L644.7 418.3L644.4 419.3L643.4 419.1L643.2 420.1L645.4 420.7L645.1 421.8L644.6 421.7L644.4 422.7L643.5 422.5L643.3 423.5L644.2 423.8L643.9 424.9L643.2 424.7L642.9 425.7L643.3 425.8L643 426.9L644 427.1L643.7 428.2L642.6 427.9L642.3 428.9L643.6 429.3L643.3 430.3L641.8 429.9L641.5 430.9L641.9 431.1L641.6 432.1L640.7 431.8L640.4 432.9L640.6 433L640.3 434L640.2 434L639.8 435L640.2 435.1L639.9 436.1L638.3 435.6L638 436.7L638.9 437L638.5 438L638.5 438L638.1 439L637.4 438.8L637 439.8L638.2 440.2L637.9 441.2L637.8 441.2L637.5 442.2L639.5 442.9L639.2 444L638.3 443.7L637.9 444.7L637.6 444.6L637.2 445.6L636.7 445.4L636.3 446.4L635.6 446.2L635.2 447.2L636.8 447.8L636.4 448.8L634.3 448L633.9 449L635.5 449.6L635.1 450.6L634.1 450.2L633.7 451.3L635.4 451.9L635 452.9L634.1 452.6L633.7 453.6L632.8 453.2L632.4 454.2L632.3 454.2L631.9 455.2L632.7 455.6L632.3 456.6L631.2 456.1L630.8 457.1L631.2 457.3L630.8 458.3L631.5 458.6L631.1 459.6L631.4 459.7L631 460.7L630.3 460.4L629.9 461.4L630.7 461.8L630.2 462.8L630.2 462.8L629.8 463.8L630.4 464L630 465L628.8 464.5L628.4 465.5L629.6 466L629.1 467L628.8 466.9L628.3 467.9L628.8 468.1L628.4 469.1L627.5 468.7L627 469.7L626.8 469.6L626.3 470.6L619.9 467.6A304.6 304.6 0 0 0 640.4 406.2ZM624.4 469.7L623.9 470.7L624.1 470.7L623.6 471.7L624.7 472.2L624.3 473.2L624.4 473.3L623.9 474.3L623 473.8L622.5 474.8L621.8 474.4L621.3 475.4L621.8 475.6L621.3 476.6L621 476.5L620.6 477.4L621.8 478.1L621.4 479L621.1 478.9L620.6 479.8L620.8 480L620.3 480.9L620 480.8L619.5 481.7L618.7 481.4L618.3 482.3L617.3 481.8L616.8 482.8L617.4 483.1L616.9 484.1L617.1 484.1L616.6 485.1L617.1 485.4L616.6 486.3L617.1 486.6L616.6 487.6L616 487.2L615.5 488.2L614.6 487.7L614 488.6L615.6 489.5L615.1 490.4L613.9 489.8L613.4 490.7L613.3 490.7L612.8 491.7L612.6 491.5L612.1 492.5L612.8 492.9L612.2 493.8L611.3 493.3L610.8 494.2L611.9 494.9L611.4 495.8L612.2 496.3L611.6 497.2L611.8 497.3L611.2 498.2L611 498.1L610.4 499L609.2 498.3L608.7 499.2L610 500L609.5 501L608.1 500.2L607.6 501.1L608.4 501.6L607.8 502.5L608.1 502.7L607.6 503.6L608.3 504.1L607.7 505L605.4 503.6L604.8 504.5L605.9 505.1L605.3 506L605.1 505.9L604.5 506.8L605.7 507.6L605.1 508.5L604.8 508.3L604.2 509.2L603 508.5L602.5 509.4L603.4 510L602.8 510.9L602 510.3L601.4 511.2L601.6 511.4L601 512.3L602.6 513.3L602 514.2L601.7 514L601.1 514.9L601.9 515.5L601.3 516.4L600.2 515.7L599.6 516.6L599.9 516.7L599.2 517.6L596.8 516L596.2 516.9L598.5 518.4L597.8 519.3L596.3 518.3L595.7 519.1L595.1 518.7L594.5 519.6L595 519.9L594.3 520.8L595.3 521.5L594.7 522.4L595.8 523.2L595.2 524.1L594.1 523.3L593.5 524.2L592.7 523.6L592.1 524.5L592 524.5L591.4 525.3L591.7 525.6L591.1 526.4L592.4 527.5L591.8 528.3L590.4 527.3L589.8 528.2L590.5 528.7L589.8 529.6L589.4 529.3L588.8 530.2L589.8 530.9L589.1 531.8L588.2 531.1L587.6 532L586.7 531.3L586.1 532.2L586.8 532.8L586.2 533.6L585.9 533.4L585.6 533.9L581.3 530.4A304.6 304.6 0 0 0 619.9 467.6ZM586.5 534.6L585.9 535.5L586.8 536.2L586.1 537L585.1 536.3L584.4 537.1L585.4 537.8L584.7 538.7L584.6 538.7L583.9 539.5L582.9 538.7L582.2 539.5L582.5 539.7L581.8 540.6L582.5 541.1L581.8 542L581 541.3L580.3 542.1L580.2 542.1L579.5 542.9L579.6 543L578.9 543.8L578.2 543.2L577.5 544L578.9 545.2L578.2 546L578.4 546.2L577.7 547.1L577.9 547.3L577.2 548.1L576.5 547.4L575.7 548.3L574.6 547.2L573.9 548L574.4 548.6L573.7 549.4L574.8 550.3L574 551.1L573.8 550.9L573.1 551.8L571.2 550L570.5 550.8L571.6 551.8L570.8 552.6L571.8 553.5L571.1 554.3L570.2 553.5L569.5 554.3L569.6 554.5L568.9 555.3L569 555.4L568.3 556.2L567.3 555.2L566.5 556L568.6 558L567.8 558.7L567.5 558.5L566.7 559.2L565.3 557.9L564.6 558.6L564.9 558.9L564.1 559.7L564.6 560.2L563.8 561L562.9 560L562.1 560.8L561.7 560.3L560.9 561.1L560.6 560.8L559.9 561.6L560.2 561.9L559.4 562.7L560.2 563.4L559.4 564.2L558.6 563.3L557.8 564.1L558.4 564.7L557.6 565.5L556.7 564.5L555.9 565.2L557.3 566.7L556.5 567.4L556.5 567.5L555.7 568.2L555.1 567.6L554.3 568.3L555.9 570L555.1 570.7L554.7 570.3L553.9 571.1L552.9 570L552.1 570.7L552.2 570.8L551.4 571.5L551.2 571.4L550.4 572.1L549.5 571.1L548.7 571.8L549.8 573L549 573.7L548.8 573.5L548 574.2L547.9 574.2L547.1 574.9L547.1 574.9L546.3 575.6L547.2 576.7L546.4 577.4L546.1 577.1L545.3 577.8L545.6 578.1L544.8 578.8L544.8 578.9L544 579.6L543.5 579L542.7 579.7L542.9 580L542 580.7L541.9 580.4L541 581.1L541.3 581.4L540.4 582.1L540 581.6L539.1 582.2L540 583.3L539.2 584L537.6 582.1L536.8 582.8L537.7 583.9L536.8 584.6L532.5 579.2A304.6 304.6 0 0 0 581.3 530.4ZM537.4 585.3L536.5 586L536.2 585.5L535.3 586.2L534.9 585.6L534 586.3L533.6 585.8L532.8 586.5L532.8 586.4L531.9 587.1L532 587.2L531.1 587.9L531 587.7L530.1 588.3L530 588.1L529.1 588.8L530 590L529.1 590.6L528.2 589.4L527.4 590.1L528.1 591L527.2 591.7L525.9 589.9L525 590.5L525.5 591.2L524.6 591.9L525.3 592.7L524.4 593.4L524.1 592.9L523.2 593.6L523.5 594L522.6 594.6L522.7 594.7L521.8 595.4L521.7 595.2L520.8 595.8L520.5 595.4L519.6 596L519.3 595.6L518.4 596.2L518.2 595.9L517.3 596.5L518.4 598L517.5 598.6L517.3 598.3L516.4 598.9L515.5 597.7L514.6 598.3L516.1 600.4L515.2 601L514.9 600.7L514 601.3L513.5 600.6L512.6 601.2L511.6 599.5L510.7 600.1L512 602.2L511.1 602.7L510.5 601.9L509.6 602.4L510.4 603.7L509.5 604.3L508.7 603L507.8 603.6L507.6 603.4L506.7 604L506.4 603.5L505.5 604.1L506.4 605.5L505.4 606L504.8 605L503.8 605.5L504.3 606.3L503.4 606.9L504.2 608.2L503.2 608.7L502.9 608.1L501.9 608.6L501.2 607.5L500.3 608L500.9 609L499.9 609.5L500 609.7L499.1 610.2L499.7 611.3L498.8 611.9L497.9 610.4L497 611L496.1 609.4L495.2 609.9L495.4 610.3L494.4 610.8L494.4 610.7L493.4 611.3L493.7 611.7L492.7 612.2L493.5 613.5L492.5 614.1L492.4 614L491.5 614.5L490.7 612.9L489.7 613.4L489.8 613.6L488.8 614.1L489.6 615.5L488.6 616L488.4 615.6L487.4 616.1L487 615.3L486 615.8L486.4 616.5L485.4 617L485.5 617.1L484.5 617.6L484.9 618.3L483.9 618.8L483.6 618.1L482.6 618.6L482.4 618.2L481.5 618.7L481.4 618.7L480.5 619.2L480.6 619.5L479.6 619.9L479.8 620.2L478.8 620.6L478.7 620.5L477.7 620.9L477.7 620.9L477.2 621.1L474.5 615.5A304.6 304.6 0 0 0 532.5 579.2ZM476.8 620.3L475.9 620.8L475.2 619.5L474.3 619.9L475.3 622.2L474.4 622.7L473.5 620.9L472.5 621.4L472.5 621.3L471.5 621.8L471.3 621.3L470.3 621.7L471.1 623.3L470.1 623.8L469.4 622.3L468.4 622.7L468.9 623.8L467.9 624.2L468.2 624.8L467.2 625.3L467 624.9L466 625.3L466.1 625.4L465.1 625.9L465.6 627.1L464.6 627.5L464.6 627.5L463.6 627.9L463.7 628.3L462.7 628.7L462.3 627.7L461.3 628.1L461.1 627.5L460.1 627.9L460.3 628.6L459.3 629L459 628.2L458 628.7L457.8 628.1L456.8 628.5L457.3 629.7L456.3 630.1L455.4 627.9L454.4 628.3L454.8 629.3L453.8 629.7L454.3 630.9L453.3 631.3L453.6 632.3L452.6 632.7L452.4 632.1L451.4 632.5L450.9 631.1L449.8 631.5L450.3 632.6L449.2 633L449.3 633L448.2 633.4L447.8 632.1L446.8 632.5L447.3 633.9L446.2 634.2L446.2 634.2L445.2 634.5L445 634L444 634.4L443.6 633.3L442.6 633.7L443.1 635.1L442.1 635.5L442.3 636.2L441.3 636.6L440.7 634.9L439.7 635.2L440.4 637.3L439.3 637.6L438.8 636L437.8 636.4L438.1 637.3L437 637.6L436.9 637.1L435.8 637.4L435.9 637.4L434.8 637.8L434.6 637L433.5 637.3L433.6 637.4L432.5 637.7L433 639.3L432 639.6L431.7 638.6L430.6 638.9L430.6 638.7L429.5 639L429.7 639.7L428.7 640L428.5 639.2L427.4 639.5L427.7 640.4L426.6 640.7L426.7 640.9L425.6 641.2L425.7 641.4L424.6 641.6L424.3 640.3L423.2 640.5L421.7 635A304.6 304.6 0 0 0 474.5 615.5ZM423.8 642.6L422.7 642.9L422.3 641.1L421.2 641.4L421.2 641.3L420.1 641.6L420 641.1L418.9 641.3L419.5 643.5L418.4 643.8L418.5 644L417.4 644.3L417.4 644L416.3 644.3L416.1 643.2L415 643.5L415.2 644.3L414.1 644.6L414.1 644.5L413.1 644.8L413.5 646.4L412.4 646.6L412.4 646.7L411.3 646.9L411.2 646.4L410.1 646.7L409.6 644.2L408.5 644.4L408.6 644.9L407.6 645.1L407.6 645L406.5 645.3L406.3 644.3L405.2 644.5L405.4 645.5L404.4 645.7L404.1 644.4L403 644.6L403.6 647.2L402.5 647.5L402.3 646.5L401.3 646.7L401.5 647.7L400.4 648L400.5 648.5L399.4 648.7L399.2 647.8L398.2 648L398.1 647.5L397 647.7L397.2 648.6L396.1 648.8L395.9 647.8L394.8 647.9L394.8 647.6L393.7 647.7L394 649.2L392.9 649.4L392.6 647.8L391.6 648L391.9 649.9L390.8 650L390.5 648.3L389.4 648.5L389.5 649.1L388.4 649.2L388.4 648.7L387.3 648.9L387.2 648.4L386.1 648.5L386.3 649.9L385.3 650.1L385.1 648.8L384 648.9L384.3 651L383.2 651.1L383 649.5L381.9 649.6L381.9 649.7L380.8 649.8L380.8 649.8L379.8 649.9L379.8 650L378.7 650.1L378.7 650.5L377.7 650.6L377.7 650.6L376.6 650.7L376.5 650.1L375.4 650.3L375.3 649.3L374.3 649.4L374.4 650.9L373.3 651L373.1 648.9L372 649L372.2 650.6L371.1 650.7L371.2 651.9L370.1 652L370 651.1L369 651.1L369 651.6L367.9 651.7L367.9 651L366.8 651.1L366.3 644.5A304.6 304.6 0 0 0 421.7 635ZM366.6 649.1L365.5 649.2L365.7 651L364.6 651.1L364.5 649.9L363.4 650L363.5 651.2L362.4 651.3L362.4 651L361.3 651L361.3 650L360.2 650.1L360.2 651.1L359.2 651.1L359.1 650.8L358.1 650.9L358.1 651.5L357 651.6L357 651.4L355.9 651.4L355.9 650.6L354.8 650.7L354.9 652.2L353.8 652.3L353.7 650.8L352.6 650.9L352.6 649.9L351.5 649.9L351.5 650.1L350.5 650.1L350.5 651.7L349.4 651.7L349.4 651L348.3 651L348.3 652.7L347.3 652.7L347.2 651.5L346.2 651.5L346.2 653.6L345.1 653.6L345.1 652.3L344 652.3L344 652L342.9 652L342.9 651.6L341.8 651.6L341.8 651.5L340.7 651.5L340.7 651.5L339.6 651.5L339.6 651.5L338.6 651.5L338.6 652.3L337.5 652.2L337.5 650.6L336.4 650.6L336.4 650.7L335.3 650.7L335.3 650.5L334.3 650.4L334.2 652L333.1 652L333.2 650.1L332.1 650.1L332.1 649.4L331 649.4L331 651.4L329.9 651.3L330 649.6L328.9 649.5L328.8 650.9L327.7 650.9L327.7 651.7L326.6 651.7L326.6 650.9L325.6 650.9L325.5 651.7L324.4 651.6L324.4 653L323.3 652.9L323.4 650.5L322.3 650.4L322.3 651.4L321.2 651.3L321.2 651L320.1 651L320.1 651.4L319 651.4L319 651.7L317.9 651.6L317.9 651.9L316.8 651.9L316.9 650.7L315.8 650.6L315.8 650.7L314.7 650.6L314.7 650.5L313.6 650.4L313.8 648.5L312.7 648.4L312.5 650.5L311.5 650.4L311.3 651.4L310.3 651.3L310.5 648.7L309.5 648.6L309.2 650.8L308.1 650.7L308.3 649.5L307.2 649.4L307.9 643.4A304.6 304.6 0 0 0 366.3 644.5ZM307 650.9L305.9 650.8L306 649.9L305 649.8L305.1 648.7L304 648.5L303.8 650.4L302.7 650.3L302.8 649.9L301.7 649.8L301.8 648.8L300.7 648.7L300.6 649.6L299.5 649.4L299.7 648.4L298.6 648.2L298.7 647.7L297.6 647.6L297.3 649.8L296.2 649.6L296.2 649.4L295.2 649.2L295.4 647.5L294.3 647.3L294.2 648.3L293.1 648.1L293.1 648.3L292 648.1L292 648.1L291 647.9L291.1 647.1L290 647L289.9 647.5L288.9 647.3L288.6 648.5L287.6 648.3L288 645.7L287 645.6L287.1 644.7L286.1 644.5L285.9 645.2L284.9 645L284.8 645.6L283.7 645.4L283.7 645.4L282.6 645.2L282.6 645.4L281.5 645.2L281.3 646.5L280.2 646.2L280.2 646.5L279.1 646.2L279.2 645.9L278.1 645.6L278.7 643L277.6 642.8L277.6 643L276.5 642.7L276.1 644.5L275.1 644.2L275.5 642.3L274.4 642.1L274.2 643.1L273.2 642.8L272.9 643.8L271.9 643.6L271.8 644L270.7 643.7L270.8 643.6L269.7 643.4L270.3 640.7L269.3 640.5L268.8 642.4L267.8 642.1L268.2 640.5L267.1 640.3L267.2 640L266.2 639.7L265.8 641.1L264.7 640.8L264.3 642.5L263.3 642.3L263.4 641.6L262.4 641.3L262.4 641.4L261.3 641.1L261.1 641.8L260.1 641.5L260.6 639.6L259.6 639.3L258.9 641.6L257.9 641.3L258.7 638.4L257.7 638.1L257 640.3L256 640L256.5 638.3L256.5 638.3L257.9 633.3A304.6 304.6 0 0 0 307.9 643.4ZM255.7 640.9L254.7 640.6L254.7 640.6L253.6 640.3L253.9 639.4L252.8 639.1L253.4 637.3L252.4 636.9L252.4 636.7L251.4 636.4L251.1 637.4L250.1 637L250.5 635.6L249.5 635.3L249 636.7L248 636.4L248.4 635.2L247.3 634.9L246.9 636.4L245.8 636L246.2 634.8L245.2 634.4L244.6 636.2L243.6 635.9L244.3 633.8L243.3 633.4L242.8 634.7L241.8 634.4L242.1 633.6L241.1 633.2L240.9 633.6L239.9 633.2L240 633.1L238.9 632.8L239.1 632.2L238.1 631.9L237.5 633.4L236.5 633.1L236.8 632.2L235.8 631.8L236.2 630.8L235.2 630.4L235.1 630.7L234.1 630.3L233.9 630.9L232.9 630.5L232.6 631L231.6 630.7L232 629.6L231 629.2L231.4 628.3L230.4 627.9L230.4 627.9L229.4 627.6L229.2 627.9L228.2 627.5L227.2 630.1L226.2 629.7L227 627.7L226 627.3L226 627.2L225 626.8L224.6 627.9L223.6 627.5L223.5 627.5L222.5 627.1L223 625.9L222 625.5L222 625.7L221 625.2L221.2 624.7L220.2 624.3L220 624.8L219 624.3L218.2 626.3L217.2 625.9L218.1 623.8L217.1 623.4L216.5 624.7L215.5 624.2L215.6 624L214.6 623.6L214.7 623.4L213.7 623L213.4 623.7L212.4 623.2L212.8 622.4L211.8 622L212.3 620.9L211.3 620.4L210.5 622.2L209.5 621.8L209.6 621.6L209.6 621.6L212.2 616A304.6 304.6 0 0 0 257.9 633.3ZM209.3 622.2L208.3 621.8L208.1 622L207.2 621.6L207.4 621L206.5 620.5L207.2 619L206.3 618.5L206 619.1L205 618.6L205 618.5L204.1 618L204.4 617.3L203.5 616.9L203.3 617.2L202.3 616.7L202.4 616.5L201.4 616L201.3 616.3L200.4 615.8L200.5 615.5L199.5 615L199 616.1L198 615.6L197.4 616.8L196.4 616.3L196.4 616.4L195.4 615.9L195.7 615.3L194.7 614.8L194.7 614.9L193.7 614.4L194.4 613.2L193.4 612.7L193 613.5L192 612.9L192.3 612.5L191.4 612L191.4 611.8L190.5 611.3L189.5 613.1L188.5 612.6L189.1 611.5L188.2 611L188.9 609.6L188 609.1L186.8 611.2L185.8 610.7L186.9 608.8L186 608.3L185.1 609.8L184.2 609.2L184.3 609L183.4 608.4L183.7 607.8L182.8 607.2L182.7 607.5L181.7 606.9L181.6 607.1L180.7 606.5L180.5 606.9L179.5 606.3L179.8 606L178.8 605.4L178.2 606.5L177.2 605.9L178.6 603.7L177.7 603.1L176.9 604.4L176 603.8L176.2 603.5L175.3 602.9L176.2 601.5L175.3 600.9L175.5 600.6L174.6 600L173.4 601.8L172.5 601.3L173 600.4L172.1 599.8L171.2 601.2L170.3 600.6L170.6 600.1L169.7 599.5L170.1 599L169.2 598.4L168.4 599.5L167.5 598.9L168.8 597L167.9 596.4L167 597.7L166.1 597.1L165.7 597.6L165.5 597.5L169.7 591.4A304.6 304.6 0 0 0 212.2 616ZM165.5 597.5L164.6 596.9L164.1 597.6L163.2 597L163.3 596.9L162.4 596.2L162.6 595.9L161.7 595.3L162.4 594.3L161.5 593.7L160.9 594.5L160 593.9L159.6 594.5L158.7 593.9L158.9 593.6L158 592.9L157.6 593.5L156.8 592.8L157.4 592L156.5 591.3L157.1 590.5L156.2 589.9L155.5 590.9L154.6 590.3L154.1 590.8L153.3 590.2L153.9 589.3L153 588.7L152.3 589.6L151.5 588.9L152.9 587.1L152 586.4L151.8 586.7L151 586L150.5 586.6L149.6 586L148.7 587.1L147.8 586.5L149 585L148.2 584.3L148.7 583.6L147.9 582.9L146.9 584.1L146.1 583.4L146.5 582.9L145.6 582.2L145.2 582.7L144.4 582L143.9 582.7L143 582L143.5 581.4L142.7 580.7L143.8 579.4L142.9 578.7L142 579.8L141.2 579.1L142.4 577.7L141.5 577L140.1 578.7L139.2 578L140 577.1L139.2 576.4L138.9 576.7L138.1 576L138 576.1L137.2 575.4L137.2 575.4L136.4 574.7L136.4 574.6L135.6 573.8L135.5 574L134.7 573.2L134.5 573.4L133.7 572.7L134.1 572.3L133.2 571.6L132.4 572.5L131.6 571.8L132.9 570.4L132.1 569.6L131 570.8L130.2 570.1L131.2 569.1L130.4 568.3L130.8 567.8L130 567.1L129.3 567.9L128.5 567.2L127 568.7L126.2 567.9L127 567.1L126.2 566.4L126.1 566.5L125.9 566.3L131.7 560.3A304.6 304.6 0 0 0 169.7 591.4ZM127.6 564.5L126.8 563.8L125.3 565.4L124.5 564.6L124.7 564.4L123.9 563.6L124.1 563.5L123.3 562.7L124.3 561.7L123.5 560.9L122.9 561.6L122.1 560.8L121.4 561.5L120.6 560.7L122 559.4L121.3 558.6L121.1 558.8L120.3 558L119.7 558.6L119 557.8L119.4 557.4L118.6 556.6L118.6 556.7L117.8 555.9L118.1 555.6L117.3 554.9L117.2 555L116.4 554.2L116.5 554.2L115.7 553.4L115.4 553.7L114.7 552.9L114 553.5L113.3 552.7L114.2 551.9L113.4 551.1L114.2 550.4L113.4 549.6L113.1 549.9L112.4 549.1L110.9 550.4L110.2 549.6L110.4 549.4L109.7 548.6L110.4 547.9L109.7 547.1L109.9 546.9L109.2 546.1L108.6 546.7L107.9 545.8L106.8 546.8L106 546L106.9 545.2L106.2 544.4L107.1 543.6L106.4 542.8L106.5 542.7L105.8 541.9L105.7 542L105 541.1L104.7 541.3L104 540.5L103.5 541L102.8 540.1L102.1 540.8L101.4 539.9L102.7 538.8L102 538L102.3 537.7L101.7 536.9L102 536.6L101.3 535.7L100.2 536.6L99.6 535.8L100.3 535.2L99.6 534.3L98.7 535L98.1 534.2L97.7 534.5L97 533.6L97.8 533L97.1 532.2L96.4 532.7L95.7 531.8L96.5 531.2L95.9 530.4L95.7 530.5L95 529.7L95.3 529.4L95 529L100.3 525A304.6 304.6 0 0 0 131.7 560.3ZM94.5 529.3L93.9 528.4L94.5 528L93.9 527.1L92 528.5L91.4 527.6L91.2 527.7L90.6 526.8L92.1 525.7L91.4 524.9L91.8 524.6L91.1 523.7L90.5 524.2L89.8 523.3L90.2 523.1L89.5 522.2L88.2 523.1L87.6 522.2L89.8 520.7L89.1 519.8L88.9 520L88.3 519.1L87.3 519.8L86.7 518.9L86.1 519.3L85.5 518.4L87 517.3L86.4 516.4L84.7 517.6L84 516.7L85.7 515.6L85.1 514.7L85 514.8L84.4 513.9L83 514.8L82.4 513.9L83 513.5L82.4 512.6L82.2 512.7L81.6 511.8L82 511.5L81.4 510.6L79.7 511.7L79.1 510.8L79.3 510.7L78.7 509.8L79 509.5L78.4 508.6L78.1 508.8L77.5 507.9L78.3 507.4L77.7 506.5L79.6 505.3L79 504.4L76.8 505.8L76.2 504.9L78.6 503.4L78 502.5L76.6 503.3L76.1 502.4L77 501.8L76.5 500.9L77 500.6L76.4 499.7L74.3 500.9L73.8 500L75.1 499.2L74.5 498.3L75.1 497.9L74.5 497L73.7 497.5L73.2 496.5L73.3 496.5L72.8 495.5L73.5 495.1L72.9 494.2L71.4 495L70.8 494.1L70.4 494.3L69.9 493.4L70.6 493L70.1 492L68.9 492.7L68.4 491.7L69.9 490.9L69.4 489.9L69.5 489.9L68.9 488.9L67.9 489.5L67.4 488.5L68.7 487.8L68.4 487.4L74.2 484.3A304.6 304.6 0 0 0 100.3 525ZM69.9 486.6L69.4 485.6L67.5 486.6L67 485.7L68.3 484.9L67.8 484L66.7 484.6L66.2 483.6L66.9 483.2L66.4 482.3L67.5 481.7L67 480.8L67.3 480.6L66.8 479.7L65.2 480.5L64.7 479.5L64.3 479.7L63.8 478.7L64.9 478.2L64.4 477.2L62.4 478.2L61.9 477.2L63.2 476.6L62.7 475.7L63.6 475.2L63.1 474.3L61.7 474.9L61.3 473.9L62.8 473.2L62.4 472.2L61.7 472.5L61.3 471.5L60.5 471.9L60.1 470.9L60.9 470.5L60.5 469.5L61.7 468.9L61.3 468L59.9 468.6L59.4 467.6L58.6 468L58.2 467L57.8 467.1L57.4 466.1L57.5 466.1L57.1 465.1L58.1 464.6L57.7 463.6L56.5 464.1L56.1 463.1L57.5 462.5L57.1 461.5L55.5 462.2L55.1 461.2L54.6 461.4L54.1 460.4L55.2 460L54.8 459L54 459.3L53.5 458.3L54.5 457.9L54.1 456.9L53.3 457.2L52.9 456.2L54 455.8L53.6 454.8L53.6 454.8L53.2 453.8L53.3 453.7L52.9 452.7L51.9 453.1L51.6 452.1L53 451.5L52.6 450.5L52.6 450.5L52.2 449.5L50.6 450.1L50.2 449.1L50 449.1L49.7 448.1L50 448L49.7 446.9L50.4 446.7L50.1 445.6L50.1 445.6L49.7 444.6L50 444.5L49.6 443.5L49.1 443.7L48.7 442.7L49.7 442.3L49.3 441.3L48.5 441.6L48.1 440.6L48.8 440.3L48.8 440.3L54.4 438.5A304.6 304.6 0 0 0 74.2 484.3ZM48.1 440.6L47.8 439.5L45.9 440.2L45.6 439.1L45.4 439.2L45.1 438.1L45.4 438L45 437L47.6 436.2L47.3 435.1L46.7 435.3L46.4 434.3L46.4 434.3L46 433.3L46.3 433.2L46 432.1L45.8 432.2L45.5 431.2L44.1 431.6L43.8 430.5L44.1 430.5L43.8 429.4L44.4 429.2L44.1 428.2L42.7 428.6L42.4 427.5L44.1 427L43.8 426L43.3 426.1L43 425.1L43.7 424.9L43.4 423.9L41.3 424.4L41 423.4L42.8 422.9L42.5 421.9L40.9 422.3L40.6 421.2L41.3 421L41.1 420L41 420L40.7 419L42.5 418.5L42.2 417.4L39.9 418L39.7 417L40.7 416.7L40.4 415.7L40.1 415.7L39.8 414.7L38.1 415.1L37.9 414L38.2 414L37.9 412.9L38.6 412.7L38.3 411.7L37.3 411.9L37.1 410.8L37.9 410.7L37.7 409.6L38 409.5L37.8 408.4L39.2 408.1L39 407.1L36.7 407.6L36.4 406.5L36.4 406.5L36.2 405.4L36.9 405.3L36.7 404.2L37.6 404L37.4 403L38.3 402.8L38.1 401.7L36.5 402L36.3 401L37.6 400.7L37.4 399.6L36.1 399.9L36 399.3L43.7 397.9A304.6 304.6 0 0 0 54.4 438.5ZM35.6 399.4L35.4 398.3L36.9 398.1L36.7 397L37 397L36.8 395.9L37.3 395.8L37.1 394.7L35.6 395L35.5 393.9L33.9 394.2L33.7 393.1L34.7 392.9L34.5 391.9L36.1 391.6L36 390.5L34.3 390.8L34.1 389.7L36.5 389.3L36.3 388.3L35 388.5L34.9 387.4L33.8 387.5L33.7 386.5L33.5 386.5L33.3 385.4L33.4 385.4L33.2 384.3L33.1 384.3L33 383.3L33.9 383.1L33.7 382L33.3 382.1L33.2 381L34.4 380.9L34.3 379.8L33.2 379.9L33.1 378.8L32.7 378.9L32.6 377.8L33.1 377.7L32.9 376.7L33.9 376.5L33.8 375.5L33.5 375.5L33.4 374.4L31.5 374.6L31.4 373.5L32.5 373.4L32.4 372.3L33.1 372.3L33 371.2L32 371.3L31.9 370.2L31.9 370.2L31.8 369.1L31.8 369.1L31.7 368L33.8 367.8L33.7 366.8L32 366.9L31.9 365.8L32.5 365.8L32.4 364.7L31.6 364.8L31.5 363.7L32.6 363.6L32.5 362.5L31.6 362.6L31.5 361.5L30.7 361.5L30.6 360.4L30.8 360.4L30.7 359.3L30.9 359.3L30.8 358.2L31.4 358.2L31.3 357.1L32.8 357.1L32.7 356.2L38.7 355.9A304.6 304.6 0 0 0 43.7 397.9ZM33.2 356.2L33.2 355.1L31.7 355.2L31.6 354.1L31.4 354.1L31.3 353L32.1 353L32 351.9L31.7 351.9L31.7 350.9L31 350.9L31 349.8L30 349.8L29.9 348.7L30.6 348.7L30.6 347.6L31.5 347.6L31.5 346.5L30.4 346.5L30.4 345.4L30.9 345.4L30.8 344.3L30.7 344.3L30.7 343.3L30.4 343.3L30.4 342.2L30.4 342.2L30.4 341.1L29.7 341.1L29.7 340L31 340L31 338.9L38.3 338.9A304.6 304.6 0 0 0 38.7 355.9Z" fill="#7ad67a"/>
<path d="M342.9 84.3L343.9 84.3L343.9 84.3L344.9 84.3L344.8 88.5L345.8 88.5L345.8 85.6L346.8 85.6L346.8 86.1L347.8 86.1L347.8 85.9L348.8 85.9L348.8 83.9L349.8 83.9L349.8 85.2L350.8 85.2L350.8 84.1L351.8 84.2L351.8 84.2L352.8 84.3L352.7 86.4L353.7 86.4L353.7 86.4L354.6 86.4L354.7 84.9L355.7 85L355.7 84.3L356.7 84.3L356.6 85.9L357.6 86L357.8 83.1L358.7 83.2L358.7 84.1L359.7 84.1L359.6 85.3L360.6 85.4L360.6 85.1L361.6 85.1L361.7 83.5L362.7 83.6L362.6 84.7L363.6 84.8L363.7 83.5L364.7 83.6L364.5 85.7L365.5 85.8L365.6 85L366.5 85L366.4 87L367.3 87.1L367.4 86.7L368.3 86.8L368.5 85.4L369.5 85.5L369.3 86.6L370.3 86.7L369.9 90.4L370.9 90.5L371.5 85.4L372.4 85.5L372.6 84.4L373.6 84.5L373.4 86L374.4 86.1L374.4 85.4L375.4 85.6L375.4 85.7L376.4 85.9L376.2 87.3L377.2 87.4L377.3 86.3L378.3 86.4L378.3 86.2L379.3 86.3L378.7 90.2L379.7 90.3L380.4 86L381.3 86.1L381.4 85.6L382.4 85.7L381.9 89.1L382.8 89.3L383 88.4L383.9 88.6L383.9 88.9L384.8 89.1L384.8 89.1L385.8 89.2L386 88.3L386.9 88.5L387 88.1L388 88.3L387.9 88.8L388.8 89L388.7 89.7L389.7 89.9L390.1 87.7L391 87.9L390.5 90.7L391.5 90.8L391.9 88.6L392.9 88.8L392.7 89.6L393.7 89.7L393.6 90L394.6 90.2L394.8 89.5L395.7 89.7L395.2 92.1L396.2 92.3L396.7 90L397.6 90.2L397.9 88.8L398.9 89L398 93.1L399 93.3L399.6 90.4L400.6 90.6L399.4 95.5L400.4 95.8L401.3 91.6L402.3 91.9L402.3 91.9L403.3 92.1L403.2 92.3L404.2 92.5L404.4 91.7L405.3 91.9L404.9 93.5L405.9 93.7L406.4 91.9L407.3 92.1L406.8 94L407.8 94.2L408.2 92.7L409.1 92.9L407.7 98.4L408.6 98.7L410.1 93L411.1 93.3L411.4 91.9L412.4 92.2L412.2 93L413.1 93.2L413 93.6L414 93.9L413.8 94.5L414.8 94.8L415.3 93L416.2 93.3L415.6 95.4L416.5 95.6L415.8 98.2L416.7 98.5L417.4 96.1L418.4 96.4L418.4 96.3L419.3 96.6L419.6 95.8L420.5 96.1L420.7 95.6L421.6 95.9L420.7 98.8L421.6 99.1L422.3 97.1L423.2 97.4L423.1 97.8L424 98.1L424.2 97.7L425.1 98L425.5 96.9L426.4 97.2L425.1 101.1L426 101.4L427.4 97.3L428.3 97.7L427.3 100.5L428.3 100.8L429.3 98L430.2 98.4L429.7 99.8L430.6 100.2L429.1 104.4L430 104.7L431.3 101.1L432.2 101.5L432.6 100.5L433.5 100.8L433.6 100.5L434.5 100.8L434.1 102L435 102.4L435.7 100.6L436.6 100.9L436.4 101.6L437.3 102L437.5 101.3L438.4 101.7L438.3 102L439.2 102.4L439.5 101.7L440.4 102L440.5 101.8L441.4 102.2L441.4 102.2L442.3 102.6L442.3 102.6L443.3 103L443.1 103.4L444 103.8L443.8 104.4L444.7 104.7L444.1 106L445 106.4L446 104.2L446.9 104.6L445.8 106.9L446.7 107.3L446.8 107.2L447.7 107.6L448.3 106.3L449.2 106.7L447.4 110.6L448.3 111L448 111.7L448.2 111.8L444.7 119.4A243.7 243.7 0 0 0 342.9 97.1ZM447.5 113.3L448.4 113.7L450.4 109.4L451.3 109.8L450.8 110.9L451.7 111.3L451.7 111.3L452.5 111.7L453.7 109.4L454.6 109.8L454 111L454.9 111.4L454.5 112.1L455.4 112.5L455.9 111.6L456.7 112.1L455.2 115.2L456 115.6L455.2 117.3L456.1 117.7L458.3 113.4L459.1 113.8L458.9 114.4L459.7 114.8L460.5 113.4L461.3 113.9L460.8 114.8L461.7 115.3L461.9 114.9L462.8 115.3L462.6 115.6L463.5 116.1L463.4 116.2L464.3 116.7L464.6 116.1L465.5 116.6L464 119.2L464.9 119.7L464.9 119.7L465.7 120.1L466.8 118.2L467.6 118.7L467.6 118.7L468.5 119.2L468.1 119.8L469 120.3L470 118.6L470.8 119L470.1 120.3L470.9 120.8L472.2 118.6L473.1 119.1L472.4 120.3L473.2 120.8L472.7 121.7L473.5 122.2L473.6 122.2L474.4 122.7L473.7 123.8L474.5 124.3L476.5 121.1L477.3 121.6L477.4 121.5L478.3 122L477.2 123.7L478 124.2L477.5 125L478.3 125.6L478.9 124.6L479.8 125.1L479.3 125.8L480.2 126.3L479.8 126.9L480.6 127.4L481.6 125.9L482.4 126.4L482.3 126.7L483.1 127.2L482.2 128.5L483.1 129L484.5 126.8L485.3 127.4L485.8 126.7L486.6 127.2L486 128.1L486.8 128.7L485.1 131.2L485.9 131.8L486.7 130.6L487.5 131.2L487.6 131L488.4 131.6L489.8 129.5L490.6 130.1L490.7 130L491.5 130.6L491.5 130.6L492.3 131.2L492.1 131.4L492.9 132L491.6 133.9L492.4 134.5L492.6 134.2L493.4 134.8L494.6 133.1L495.4 133.6L494.1 135.4L494.9 136L496 134.5L496.8 135.1L495.6 136.6L496.4 137.2L497.6 135.6L498.4 136.2L497.1 138L497.8 138.6L498.5 137.7L499.3 138.3L498.8 139L499.6 139.6L497.3 142.5L498 143.1L499.8 140.8L500.6 141.4L500.9 141L501.7 141.6L501.2 142.2L502 142.8L503.8 140.5L504.6 141.1L503.3 142.7L504.1 143.3L504.1 143.3L504.9 143.9L506.4 142.1L507.1 142.7L505.7 144.4L506.5 145L506.9 144.5L507.6 145.2L507.5 145.3L508.2 146L508.7 145.4L509.4 146.1L509.4 146.2L510.1 146.8L509.7 147.2L510.5 147.9L511.1 147.2L511.8 147.8L512.3 147.2L513.1 147.9L511.8 149.3L512.6 150L512.6 149.9L513.3 150.6L513.4 150.5L514.2 151.1L514.2 151.1L514.9 151.8L513.3 153.6L514 154.2L516.6 151.4L517.3 152L516.2 153.3L516.9 154L517.1 153.7L517.8 154.4L517.7 154.6L518.4 155.2L518.8 154.8L519.5 155.5L519.3 155.7L520 156.4L518.9 157.5L519.6 158.2L520.4 157.4L521.1 158.1L520.6 158.6L521.3 159.3L522.2 158.3L522.9 159L523.2 158.7L523.9 159.4L520.5 162.8L521.2 163.5L524.5 160.2L525.2 160.9L525.5 160.6L526.2 161.3L525.7 161.8L526 162.1L517.3 170.6A243.7 243.7 0 0 0 444.7 119.4ZM526.4 161.7L527.1 162.4L526.8 162.7L527.5 163.4L527.2 163.7L527.9 164.4L527.7 164.6L528.3 165.3L525.5 168L526.2 168.7L526.3 168.6L526.9 169.3L530.8 165.7L531.5 166.4L530.4 167.4L531 168.2L529.7 169.4L530.4 170.1L531.4 169.2L532 169.9L532.8 169.2L533.5 169.9L533.4 170L534 170.8L532.6 172L533.2 172.8L532.8 173.2L533.4 173.9L533.2 174.1L533.8 174.8L536.5 172.5L537.2 173.2L536.5 173.8L537.1 174.5L535.7 175.8L536.3 176.6L537.7 175.4L538.3 176.1L538.1 176.3L538.8 177L538.2 177.5L538.8 178.2L538.2 178.8L538.8 179.5L540 178.5L540.7 179.3L539.5 180.2L540.1 181L542.3 179.2L542.9 180L540.8 181.7L541.4 182.4L541 182.8L541.6 183.6L543.6 182L544.2 182.8L541.3 185L541.9 185.7L543.2 184.7L543.8 185.5L546.1 183.8L546.7 184.6L542.5 187.8L543 188.6L545.8 186.5L546.4 187.2L546.5 187.1L547.1 187.9L547 188L547.6 188.8L548.5 188.1L549.1 188.9L548.7 189.2L549.3 190L549 190.2L549.6 191L549.7 190.9L550.3 191.7L550.6 191.5L551.2 192.3L550 193.1L550.5 193.9L551.6 193.2L552.1 194L552.6 193.7L553.1 194.5L551.7 195.5L552.3 196.3L552.4 196.2L552.9 197L554.9 195.7L555.4 196.4L544.5 203.8A243.7 243.7 0 0 0 517.3 170.6ZM553.6 197.6L554.1 198.4L552 199.9L552.5 200.7L553.5 200L554.1 200.8L555.2 200.1L555.7 200.9L554.4 201.7L555 202.6L556.4 201.6L556.9 202.5L555.4 203.4L555.9 204.2L556.8 203.7L557.3 204.5L558.1 204L558.7 204.8L558.6 204.8L559.1 205.7L558.6 206L559.2 206.8L559.3 206.8L559.8 207.6L559.5 207.8L560 208.6L559.9 208.6L560.4 209.5L559.7 209.9L560.2 210.7L562.2 209.5L562.7 210.4L563.2 210.1L563.7 210.9L563 211.4L563.5 212.2L564.1 211.9L564.6 212.7L563.4 213.4L563.9 214.2L563.8 214.3L564.3 215.1L565.2 214.6L565.6 215.5L565.9 215.4L566.4 216.2L565 217L565.5 217.8L564.6 218.3L565 219.2L566.9 218.2L567.3 219L566.1 219.7L566.6 220.6L567.1 220.3L567.6 221.1L567.9 220.9L568.4 221.8L568.6 221.7L569 222.6L567.7 223.3L568.1 224.2L568.3 224.1L568.8 224.9L569.2 224.7L569.6 225.6L570.7 225L571.1 225.9L571 226L571.5 226.8L570.9 227.1L571.3 228L570.8 228.3L571.2 229.2L571.6 229L572 229.8L570.6 230.5L571.1 231.4L571.8 231L572.2 231.9L571.5 232.3L571.9 233.1L574.9 231.7L575.3 232.6L571 234.6L571.4 235.5L575.9 233.4L576.3 234.3L575.1 234.9L575.5 235.8L576.6 235.3L577 236.2L574.3 237.4L574.7 238.3L574.6 238.3L574.9 239.2L575.6 238.9L576 239.8L575.8 239.9L576.2 240.8L576.2 240.8L576.6 241.7L578.2 241L578.6 241.9L576.7 242.7L577.1 243.6L578.3 243.1L578.7 244L578.4 244.1L578.7 245L579.8 244.6L580.1 245.5L579.3 245.8L579.7 246.8L578.1 247.4L578.4 248.3L575.9 249.3L576.2 250.2L578.8 249.2L579.1 250.1L581.3 249.3L581.4 249.7L570.6 253.9A243.7 243.7 0 0 0 544.5 203.8ZM580.4 250.1L580.8 251L580.7 251L581 252L582.5 251.4L582.8 252.3L582.3 252.5L582.6 253.5L584.6 252.7L584.9 253.7L584.4 253.8L584.8 254.8L583.7 255.2L584 256.1L580.4 257.4L580.7 258.3L585.4 256.7L585.7 257.6L582.2 258.8L582.5 259.7L585.8 258.6L586.1 259.5L585.5 259.7L585.8 260.7L581.4 262.1L581.7 263L585.9 261.7L586.2 262.6L585.4 262.9L585.7 263.8L584.9 264L585.2 265L586.4 264.6L586.7 265.5L581.9 267L582.2 267.9L586.8 266.5L587.1 267.4L589.2 266.8L589.5 267.7L588.5 268.1L588.8 269L589 268.9L589.3 269.9L590 269.7L590.2 270.6L584.1 272.4L584.4 273.3L589.2 271.9L589.4 272.9L590.2 272.7L590.5 273.6L589.2 274L589.4 274.9L590 274.8L590.3 275.7L590 275.8L590.3 276.7L590.3 276.7L590.5 277.7L589.6 277.9L589.9 278.9L589.8 278.9L590 279.8L591.3 279.5L591.5 280.5L589.6 280.9L589.8 281.9L591.5 281.5L591.7 282.4L592.8 282.2L593 283.1L592.2 283.3L592.4 284.3L593.6 284L593.8 285L593.7 285L593.9 286L593.1 286.2L593.3 287.1L594 287L594.2 287.9L592.5 288.3L592.7 289.3L593.5 289.1L593.7 290L592.1 290.4L592.3 291.3L591.8 291.4L592 292.4L589.5 292.9L589.6 293.8L594.6 292.9L594.8 293.8L595.8 293.7L595.9 294.6L595.9 294.6L596.1 295.6L594 296L594.2 296.9L594.7 296.8L594.9 297.8L595.1 297.8L595.2 298.8L596.1 298.6L596.2 299.6L596 299.6L596.2 300.6L593.8 301L594 301.9L594.7 301.8L594.8 302.8L594.6 302.8L594.7 303.8L595.5 303.7L595.7 304.6L595 304.7L595.1 305.7L596 305.6L596.1 306.6L595 306.7L595.1 307.7L592.6 308L592.7 309L594.6 308.7L594.7 309.7L594.7 309.7L594.8 310.7L593.3 310.9L593.4 311.8L596.7 311.4L596.8 312.4L595 312.6L595.1 313.6L595.3 313.6L595.4 314.5L596.2 314.4L596.3 315.4L598.8 315.2L598.9 316.1L596.9 316.3L597 317.3L595.6 317.4L595.7 318.4L598.7 318.2L598.8 319.1L597.4 319.3L597.5 320.2L598.7 320.1L598.8 321.1L585.9 322.1A243.7 243.7 0 0 0 570.6 253.9ZM597.7 321.2L597.8 322.2L597.7 322.2L597.8 323.2L598.3 323.1L598.4 324.1L593.1 324.4L593.2 325.4L600 325L600 326L598.6 326.1L598.6 327L599.3 327L599.3 328L600.4 327.9L600.5 328.9L599.7 329L599.8 329.9L600.1 329.9L600.2 330.9L599.2 331L599.2 331.9L598.8 332L598.9 332.9L599.5 332.9L599.5 333.9L599.1 333.9L599.1 334.9L599.2 334.9L599.2 335.9L600.1 335.9L600.1 336.8L596 336.9L596 337.9L595.1 337.9L595.1 338.9L598.7 338.8L598.7 339.8L598.5 339.8L598.5 340.8L596.4 340.8L596.4 341.8L598 341.8L598 342.8L600.7 342.8L600.7 343.8L598.1 343.7L598.1 344.7L599.4 344.7L599.3 345.7L600 345.7L600 346.7L599.8 346.7L599.7 347.7L601.1 347.7L601.1 348.7L599 348.7L599 349.7L598.8 349.6L598.8 350.6L599.1 350.6L599.1 351.6L597.7 351.6L597.7 352.5L598.6 352.6L598.5 353.6L594.9 353.4L594.8 354.4L599.1 354.6L599.1 355.6L598 355.5L598 356.5L598.2 356.5L598.2 357.5L598 357.5L598 358.5L598.5 358.5L598.5 359.5L599.3 359.5L599.2 360.5L599 360.5L598.9 361.5L598 361.4L597.9 362.4L598.7 362.5L598.6 363.4L597.5 363.3L597.4 364.3L599.2 364.5L599.1 365.5L599.1 365.5L599 366.4L598.4 366.4L598.3 367.4L597.5 367.3L597.4 368.3L597.1 368.2L597 369.2L597.3 369.2L597.2 370.2L593.9 369.8L593.8 370.8L597.3 371.2L597.2 372.2L596 372.1L595.9 373L591.8 372.5L591.7 373.5L598 374.3L597.9 375.3L596.9 375.1L596.8 376.1L596.4 376.1L596.3 377L597.9 377.3L597.7 378.2L598.4 378.3L598.2 379.3L591.5 378.3L591.3 379.3L595.8 380L595.7 380.9L594.9 380.8L594.8 381.8L596.2 382L596 383L594.6 382.7L594.4 383.7L595.9 383.9L595.7 384.9L594.5 384.7L594.3 385.7L594 385.6L593.8 386.6L596.3 387L596.1 388L595.4 387.9L595.2 388.8L596.6 389.1L596.5 390.1L594.8 389.8L594.7 390.7L594.4 390.7L594.3 391.7L595.3 391.9L595.1 392.8L595.8 393L595.6 394L595.4 393.9L595.1 394.9L592.8 394.4L592.6 395.3L591.9 395.2L591.8 395.5L580.9 393.1A243.7 243.7 0 0 0 585.9 322.1ZM591.7 395.5L591.4 396.4L591.9 396.6L591.7 397.5L591.3 397.4L591.1 398.4L591.1 398.4L590.9 399.3L591.7 399.5L591.5 400.5L591.2 400.4L590.9 401.4L588.9 400.9L588.6 401.8L590.6 402.3L590.4 403.2L589.1 402.9L588.9 403.9L589 403.9L588.7 404.8L588.4 404.8L588.2 405.7L589.7 406.1L589.4 407L587.9 406.6L587.6 407.6L589.7 408.1L589.4 409.1L588.1 408.7L587.8 409.6L587.5 409.5L587.2 410.5L587.6 410.6L587.3 411.5L584.2 410.6L584 411.6L587.9 412.7L587.7 413.7L583.9 412.5L583.6 413.5L586.5 414.3L586.2 415.3L585.9 415.2L585.6 416.1L587 416.5L586.7 417.5L585.8 417.2L585.5 418.1L584.8 417.9L584.5 418.8L584.1 418.7L583.8 419.6L584.3 419.8L584 420.7L584.9 421L584.6 421.9L584.4 421.9L584.1 422.8L583.3 422.6L583 423.5L582.1 423.2L581.8 424.1L582.3 424.2L581.9 425.2L581.1 424.9L580.8 425.8L581.4 426L581.1 426.9L582.2 427.3L581.9 428.3L581.5 428.1L581.2 429L582 429.3L581.6 430.2L581.9 430.4L581.6 431.3L581.4 431.2L581 432.1L578.8 431.2L578.4 432.2L581.4 433.3L581 434.2L580.3 433.9L580 434.9L580 434.9L579.7 435.8L580 435.9L579.6 436.8L579 436.6L578.7 437.5L579 437.6L578.6 438.5L578.6 438.5L578.2 439.4L578.8 439.7L578.4 440.6L575.2 439.2L574.8 440.1L577.2 441.1L576.8 442L575.8 441.6L575.5 442.5L577.6 443.4L577.2 444.3L574.1 443L573.7 443.8L573.7 443.9L573.4 444.8L574.8 445.4L574.4 446.3L572.9 445.6L572.7 446L564.5 442.2A243.7 243.7 0 0 0 580.9 393.1ZM575.3 447.2L574.9 448.1L574.8 448.1L574.4 449L574.3 448.9L573.9 449.8L574.6 450.1L574.2 451L574 450.9L573.6 451.8L573 451.5L572.6 452.4L573.8 453L573.4 453.9L573.6 454L573.1 454.9L573.4 455L572.9 455.9L572.5 455.7L572.1 456.6L570.7 455.9L570.3 456.8L571.8 457.5L571.4 458.4L570.5 458L570 458.8L570.3 459L569.8 459.8L570.3 460.1L569.8 460.9L569.3 460.7L568.8 461.5L567.8 461L567.4 461.9L567.9 462.2L567.4 463L567.1 462.8L566.6 463.7L567 463.9L566.5 464.8L568.2 465.7L567.7 466.6L565.5 465.3L565 466.1L564.7 466L564.2 466.8L564 466.7L563.5 467.6L563.2 467.4L562.7 468.2L564 469L563.5 469.8L564.6 470.5L564.1 471.3L562.9 470.6L562.4 471.4L563.6 472.2L563.1 473L561.9 472.3L561.4 473.1L560.8 472.8L560.3 473.6L560.9 474L560.4 474.8L559.6 474.3L559.1 475.2L558.7 474.9L558.2 475.8L559.7 476.7L559.2 477.5L558.3 477L557.8 477.8L558.2 478.1L557.7 478.9L557.8 479L557.3 479.8L557.6 480L557.1 480.9L557.5 481.1L557 481.9L555.7 481.1L555.2 482L554.9 481.8L554.4 482.6L554.8 482.8L554.2 483.7L553.5 483.2L553 484L552.9 483.9L552.3 484.7L553.1 485.3L552.5 486.1L550.2 484.5L549.7 485.3L552.5 487.3L552 488.1L551.4 487.7L550.8 488.5L551.3 488.8L550.7 489.6L546.3 486.4L545.7 487.2L550.9 490.9L550.3 491.7L550.1 491.5L549.5 492.3L548.6 491.6L548 492.4L548.4 492.7L547.8 493.5L547.7 493.4L547.1 494.2L546.3 493.7L545.8 494.4L545.8 494.5L545.3 495.3L546.7 496.4L546.1 497.2L546.8 497.7L546.2 498.5L544.7 497.3L544.1 498.1L544.1 498.1L543.5 498.9L543 498.5L542.4 499.2L544.3 500.7L544.2 500.9L533.6 492.5A243.7 243.7 0 0 0 564.5 442.2ZM544 500.8L543.4 501.6L542.5 500.9L541.9 501.6L540.7 500.6L540.1 501.4L542.3 503.2L541.6 503.9L541.2 503.6L540.6 504.3L539.3 503.2L538.6 504L540.7 505.7L540.1 506.5L536.7 503.7L536.1 504.4L539.3 507.1L538.7 507.9L539 508.1L538.3 508.9L537.5 508.2L536.8 508.9L536.3 508.4L535.6 509.2L535.5 509.1L534.9 509.8L535.7 510.5L535 511.3L535 511.3L534.4 512L531.5 509.4L530.8 510.1L533.3 512.3L532.6 513.1L532.4 512.9L531.7 513.6L532.4 514.2L531.8 514.9L530.8 514.1L530.1 514.8L529.8 514.5L529.1 515.2L530.8 516.8L530.1 517.5L528.8 516.3L528.2 517L528.2 517L527.5 517.7L526.8 517L526.1 517.7L527.9 519.5L527.3 520.2L526.8 519.8L526.2 520.5L524.4 518.8L523.8 519.5L524.8 520.5L524.1 521.2L524.3 521.4L523.6 522.1L522.4 520.9L521.7 521.6L522.7 522.7L522 523.3L518.6 519.8L517.9 520.5L519 521.6L518.3 522.3L520.7 524.8L520 525.5L518.9 524.3L518.2 525L519.4 526.3L518.7 527L519.8 528.1L519.1 528.8L518.7 528.4L518 529.1L515 525.8L514.3 526.5L517.4 529.9L516.6 530.5L513.1 526.6L512.4 527.3L515.1 530.3L514.4 531L514 530.5L513.2 531.2L514 532L513.3 532.7L512.4 531.7L511.6 532.3L511.9 532.6L511.2 533.3L510.2 532.2L509.5 532.8L509.8 533.2L509.1 533.9L510.6 535.6L509.8 536.3L508.6 534.8L507.9 535.5L508.1 535.7L507.3 536.4L507.5 536.6L506.8 537.2L506.7 537.1L505.9 537.7L507.3 539.4L506.5 540L506.2 539.6L505.4 540.2L504.8 539.5L504.1 540.1L503.9 539.9L503.1 540.5L502.9 540.2L502.1 540.8L502.6 541.4L502.5 541.5L494.6 531.5A243.7 243.7 0 0 0 533.6 492.5ZM501.2 539.8L500.4 540.4L499.4 539.1L498.6 539.7L499.4 540.7L498.7 541.3L498.3 540.8L497.5 541.4L498.4 542.6L497.7 543.2L498.2 543.9L497.4 544.5L497.1 544.1L496.3 544.7L495.3 543.3L494.5 543.9L495.2 544.8L494.4 545.4L495 546.2L494.2 546.8L494 546.6L493.3 547.1L493.4 547.3L492.6 547.9L491.7 546.6L490.9 547.2L489.2 544.9L488.4 545.4L489.3 546.7L488.5 547.2L487.9 546.4L487.1 546.9L489.6 550.4L488.7 551L487.1 548.6L486.3 549.1L487.6 551L486.8 551.6L485.8 550.1L485 550.7L485.5 551.4L484.7 551.9L484.2 551.2L483.4 551.7L483.4 551.8L482.6 552.4L483 553L482.2 553.5L482.1 553.4L481.3 553.9L481.9 554.8L481.1 555.3L480.8 555L480 555.5L479.3 554.3L478.4 554.9L479.5 556.6L478.7 557.1L478 555.9L477.1 556.5L476.2 554.9L475.3 555.4L477.4 558.7L476.5 559.2L476.5 559.2L475.7 559.7L474.7 558.1L473.9 558.7L473.5 558L472.7 558.5L471.4 556.4L470.6 556.9L472 559.3L471.2 559.8L471.3 560L470.5 560.5L470.6 560.7L469.7 561.2L470.6 562.6L469.7 563.1L468.7 561.3L467.8 561.8L467.8 561.8L467 562.2L466.6 561.7L465.8 562.1L466.2 562.9L465.4 563.4L466 564.6L465.2 565L465.5 565.7L464.6 566.1L464.3 565.5L463.4 566L462.9 564.9L462 565.3L462.2 565.7L461.3 566.2L462 567.5L461.2 568L459.1 564L458.2 564.4L460.2 568.3L459.4 568.8L457.8 565.8L457 566.2L457.7 567.7L456.9 568.2L456.7 567.8L455.8 568.3L454.8 566.2L453.9 566.7L455.3 569.5L454.4 569.9L453.5 567.9L452.6 568.4L452.9 568.9L452.3 569.2L448.2 560.6A243.7 243.7 0 0 0 494.6 531.5ZM453.6 571.8L452.7 572.3L452.4 571.7L451.6 572.1L449.8 568.3L448.9 568.7L451.1 573.4L450.2 573.8L450 573.3L449.1 573.8L449.5 574.7L448.6 575.1L449.1 576.3L448.2 576.7L447.4 574.9L446.5 575.2L447 576.3L446.1 576.7L445.8 576.1L444.9 576.5L444.8 576.2L443.9 576.6L443.8 576.4L442.9 576.8L443.3 577.8L442.4 578.2L442.2 577.8L441.3 578.1L440.9 577.1L440 577.5L440.7 579.3L439.8 579.7L439.8 579.8L438.9 580.2L438.7 579.6L437.8 580L435.9 575.3L435 575.6L437.1 580.9L436.2 581.3L434.3 576.3L433.4 576.7L434.7 580.1L433.7 580.5L434.1 581.5L433.2 581.8L432.7 580.4L431.8 580.8L432.5 582.7L431.6 583.1L430.9 581.3L430 581.7L428.9 578.7L428 579.1L429.6 583.6L428.7 583.9L427.5 580.5L426.6 580.8L426.8 581.4L425.8 581.7L426.3 582.9L425.3 583.3L425.7 584.2L424.7 584.5L424.8 584.8L423.9 585.1L423.4 583.7L422.5 584L421.8 581.8L420.8 582.1L422.2 586.4L421.3 586.7L420.4 583.8L419.4 584.1L419.4 584.1L418.5 584.4L419 585.9L418 586.2L418.1 586.6L417.2 586.9L416.2 583.6L415.3 583.9L416.5 588L415.5 588.3L415.3 587.4L414.4 587.7L414.7 588.9L413.8 589.2L413.6 588.8L412.7 589.1L412.6 588.7L411.6 588.9L411.5 588.6L410.6 588.9L410.4 588.2L409.4 588.4L409.9 590.2L409.8 590.3L406 576.2A243.7 243.7 0 0 0 448.2 560.6ZM408.9 587L407.9 587.2L408.2 588.3L407.2 588.5L406 583.6L405 583.9L406.2 588.5L405.3 588.7L405.1 587.9L404.1 588.2L404.6 590L403.6 590.3L402.5 585.8L401.6 586.1L402.2 588.5L401.2 588.7L401.3 589.1L400.4 589.3L400.3 588.9L399.3 589.1L399.4 589.5L398.4 589.7L398.7 590.9L397.8 591.1L398 592.4L397.1 592.6L396.6 590.5L395.6 590.7L395.8 591.2L394.8 591.4L395.1 592.7L394.1 592.9L393.9 591.9L392.9 592.1L392.6 590.6L391.7 590.8L391.8 591.6L390.9 591.8L390.9 591.8L389.9 591.9L389.8 591.7L388.9 591.8L388.8 591.2L387.8 591.4L388 592.5L387 592.7L387 592.4L386 592.6L386.3 594.1L385.3 594.3L384.6 590.3L383.7 590.4L384 592.2L383 592.3L382.4 588.8L381.5 588.9L382.3 594.1L381.3 594.3L380.9 591.6L380 591.8L380.3 594L379.3 594.1L379.1 592.4L378.1 592.5L378.3 594.1L377.3 594.3L377.5 595.4L376.5 595.5L376.6 596.2L375.6 596.4L375.4 594.3L374.4 594.4L374.3 593.8L373.3 593.9L373.3 593.8L372.4 594L372.3 593.4L371.3 593.5L371.5 595.2L370.5 595.3L370.4 594.2L369.5 594.3L369.5 595.2L368.6 595.3L368.6 595.2L367.6 595.2L367.6 595.2L366.6 595.3L366.7 596.8L365.8 596.9L365.7 596.1L364.7 596.2L364.3 591.9L363.4 592L363.8 596.8L362.8 596.9L362.6 595.1L362.5 595.1L361.6 583.8A243.7 243.7 0 0 0 406 576.2ZM362.5 595.3L361.5 595.3L361.5 595.7L360.5 595.7L360.6 596.6L359.6 596.7L359.6 596.3L358.6 596.4L358.7 597.2L357.7 597.2L357.7 596.7L356.7 596.7L356.7 598.2L355.8 598.2L355.5 593.4L354.5 593.4L354.7 596.1L353.7 596.1L353.7 596.3L352.7 596.3L352.7 595.6L351.7 595.6L351.8 597.6L350.8 597.7L350.8 599L349.8 599L349.8 596.3L348.8 596.3L348.7 592.4L347.7 592.4L347.8 596.5L346.8 596.6L346.9 598.7L345.9 598.7L345.8 594.3L344.8 594.3L344.9 597.4L343.9 597.4L343.9 594.7L342.9 594.7L342.9 596.9L341.9 596.9L341.9 599.1L340.9 599.1L340.9 597.5L339.9 597.5L339.9 598.2L338.9 598.2L339 597L338 597L338 597.6L337 597.6L337 597.4L336 597.3L336 596L335.1 596L335 597.2L334 597.2L334 597.3L333 597.3L333 598.6L332 598.6L332.1 596.5L331.1 596.4L331 597.8L330.1 597.8L330.1 596.1L329.2 596L329.1 597L328.1 597L328.1 597.6L327.1 597.6L327.1 597.2L326.1 597.1L326.1 598L325.1 598L325.2 596.5L324.2 596.5L324.4 593.6L323.4 593.6L323.2 596.2L322.3 596.1L322.3 595.6L321.3 595.5L321.1 597.8L320.1 597.8L320.6 592.3L319.7 592.2L319.1 598L318.1 597.9L318.4 595.7L317.4 595.6L317.4 594.9L316.5 594.8L316.8 591.7L315.8 591.6L315.5 594.6L314.5 594.5L314.9 591L314 590.9L314.9 582.9A243.7 243.7 0 0 0 361.6 583.8ZM313.5 595L312.5 594.9L312.3 596.5L311.3 596.3L311.4 596L310.4 595.8L310.7 593.6L309.7 593.5L309.5 595L308.5 594.9L308.6 594.5L307.6 594.3L308.2 590.6L307.2 590.4L306.6 594.6L305.6 594.4L305.6 594.6L304.6 594.4L304.8 593L303.9 592.8L303.9 592.8L302.9 592.7L302.9 592.9L301.9 592.7L301.7 593.9L300.8 593.7L300.6 594.4L299.7 594.2L300.1 591.5L299.2 591.3L298.9 593.2L297.9 593L298.5 589.3L297.6 589.1L298.1 586.3L297.2 586.1L296.4 590.5L295.4 590.3L295.3 590.6L294.4 590.4L294.2 591.3L293.2 591.1L293.5 589.9L292.5 589.7L292.4 590.5L291.4 590.3L291.4 590.4L290.4 590.2L290.2 591.3L289.2 591.1L290.3 586.2L289.3 586L289 587.8L288 587.5L287 591.9L286.1 591.7L286.6 589.2L285.7 589L285.7 588.9L284.8 588.7L284.8 588.4L283.9 588.1L283.3 590.8L282.3 590.5L282.2 590.9L281.3 590.7L282 587.6L281 587.4L281 587.5L280.1 587.3L280 587.7L279 587.5L279.3 586.3L278.4 586L277.6 589L276.6 588.8L277.1 587.2L276.1 586.9L275.5 589.2L274.5 589L275.3 586.1L274.4 585.9L273.6 588.7L272.6 588.5L273.2 586.5L272.3 586.2L272.2 586.5L271.6 586.4L274.9 574.8A243.7 243.7 0 0 0 314.9 582.9ZM271.5 586.6L270.5 586.3L270.7 585.7L269.8 585.4L270.3 583.7L269.4 583.4L269.2 584L268.3 583.7L268.1 584.2L267.2 583.9L267.1 584.2L266.2 583.9L266 584.4L265.1 584.1L265.3 583.5L264.3 583.2L264.4 582.9L263.5 582.6L263.5 582.7L262.5 582.4L262.7 581.9L261.8 581.6L261.8 581.5L260.9 581.2L260.2 583.2L259.3 582.9L261 577.9L260.1 577.6L259.2 580.2L258.3 579.8L258 580.7L257 580.3L257.3 579.6L256.4 579.3L256.1 580.2L255.1 579.8L255.8 578.1L254.9 577.7L254.7 578.1L253.8 577.8L253.8 577.7L252.9 577.4L252 579.8L251.1 579.5L253 574.6L252.1 574.3L251 577L250.1 576.6L250.1 576.7L249.2 576.4L248.4 578.1L247.5 577.8L248.3 575.9L247.4 575.6L246.9 576.6L246 576.3L246.3 575.5L245.4 575.1L247 571.3L246.1 571L243.7 576.7L242.8 576.3L243.6 574.6L242.7 574.2L243.2 573L242.3 572.6L241.9 573.6L241 573.2L240.9 573.4L240 573L239.1 575.1L238.2 574.7L238.5 573.9L237.6 573.5L238.3 572L237.4 571.6L237.4 571.7L236.5 571.2L236.4 571.5L235.5 571.1L235 572.3L234.1 571.8L234.9 570.1L234.2 569.8L238.4 560.9A243.7 243.7 0 0 0 274.9 574.8ZM233 572.2L232.2 571.7L231.8 572.6L230.9 572.1L233.4 566.9L232.5 566.5L230.4 570.8L229.6 570.3L229.3 570.9L228.4 570.5L228.5 570.2L227.7 569.7L227.3 570.4L226.5 569.9L227.1 568.6L226.3 568.2L225.6 569.4L224.8 568.9L225.5 567.4L224.7 567L224.6 567.1L223.7 566.7L223.7 566.8L222.8 566.3L222.3 567.2L221.4 566.8L221.8 566.1L220.9 565.7L220.9 565.7L220 565.2L219.9 565.4L219.1 564.9L219.2 564.7L218.3 564.2L217.8 565.1L217 564.6L217 564.6L216.1 564.1L218.2 560.5L217.3 560L215.5 563.2L214.7 562.7L214.4 563.2L213.5 562.7L214.2 561.6L213.3 561.1L212.6 562.4L211.7 561.9L212.8 560.1L211.9 559.6L212.4 558.9L211.5 558.4L211.5 558.4L210.7 557.9L210.3 558.5L209.5 558L209 558.8L208.1 558.3L207.6 559.2L206.8 558.6L207.8 557L207 556.5L206.6 557.1L205.8 556.6L205.8 556.4L205 555.9L204.8 556.2L204 555.7L203.7 556.2L202.9 555.6L204.7 552.8L203.9 552.2L203.3 553.2L202.5 552.6L200.9 555.1L200 554.5L201.4 552.4L200.6 551.9L199.4 553.8L198.5 553.2L200.6 550.2L199.8 549.6L199 550.8L198.2 550.2L197 552L197 551.9L204.3 541.3A243.7 243.7 0 0 0 238.4 560.9ZM197.3 551.5L196.5 550.9L198.1 548.6L197.3 548.1L196 549.9L195.2 549.3L196.3 547.8L195.5 547.2L195.9 546.7L195.1 546.1L193.8 548L193 547.4L193.1 547.3L192.3 546.7L193.4 545.2L192.6 544.6L193.6 543.3L192.8 542.7L190.5 545.8L189.7 545.2L189.3 545.8L188.5 545.2L188.5 545.2L187.7 544.6L189.5 542.3L188.7 541.7L188.1 542.5L187.3 541.9L186.6 542.8L185.8 542.2L186.7 541.1L185.9 540.5L187.6 538.3L186.9 537.7L185.6 539.3L184.8 538.7L184.8 538.7L184.1 538.1L184.1 538.1L183.4 537.5L182.9 538.1L182.1 537.5L182.8 536.6L182.1 536L181.3 536.9L180.5 536.3L179.9 537.1L179.1 536.5L180.2 535.2L179.4 534.6L178.3 535.9L177.5 535.3L177.9 534.9L177.1 534.3L177.2 534.2L176.5 533.5L175.8 534.3L175.1 533.7L175.6 533.1L174.8 532.5L175.8 531.4L175.1 530.7L174.5 531.3L173.8 530.7L172.7 531.9L171.9 531.3L173.5 529.6L172.8 528.9L171.7 530.1L171 529.4L171.7 528.6L171 527.9L170.3 528.7L169.5 528.1L170 527.5L169.3 526.9L170.8 525.3L170.1 524.7L168.7 526.2L167.9 525.5L168.1 525.3L167.4 524.6L168.3 523.7L167.6 523L165.9 524.8L165.9 524.8L173.9 516.4A243.7 243.7 0 0 0 204.3 541.3ZM166.3 524.3L165.6 523.6L164.6 524.6L163.9 524L163.8 524.1L163.1 523.4L164.4 522L163.7 521.4L163.3 521.8L162.6 521.1L161.9 521.8L161.2 521.1L161.2 521.1L160.5 520.4L159.7 521.2L159 520.5L159.7 519.8L159 519.1L158.8 519.4L158.1 518.7L159 517.8L158.3 517L158.7 516.7L158 516L157.8 516.2L157.2 515.5L156.5 516.1L155.8 515.4L156.9 514.3L156.3 513.6L157.3 512.6L156.7 511.9L155.4 513.1L154.7 512.4L154.2 512.8L153.6 512.1L151.8 513.7L151.2 513L151 513.1L150.4 512.3L151.8 511.1L151.1 510.4L151.8 509.7L151.2 509L149.3 510.7L148.6 509.9L149.3 509.3L148.7 508.6L148.7 508.6L148 507.8L148.7 507.2L148.1 506.5L149 505.7L148.4 505L147 506.1L146.3 505.4L147.9 504.1L147.2 503.4L147 503.5L146.4 502.8L145 503.9L144.4 503.2L143.8 503.6L143.2 502.9L147.2 499.6L146.6 498.8L144 501L143.4 500.2L142.9 500.6L142.3 499.8L141 500.8L140.4 500L140.2 500.2L139.6 499.4L140.7 498.5L140.1 497.8L139 498.6L138.4 497.9L138.4 497.9L137.8 497.1L138.4 496.6L138.1 496.2L148.8 488.1A243.7 243.7 0 0 0 173.9 516.4ZM139.1 495.5L138.5 494.7L137.9 495.2L137.3 494.4L138 493.9L137.4 493.1L137.7 492.9L137.1 492.1L136.7 492.4L136.1 491.6L137.6 490.5L137 489.7L135.8 490.6L135.2 489.8L135.7 489.4L135.2 488.6L135 488.7L134.5 487.9L134.3 488L133.8 487.2L134.4 486.8L133.8 486L132.1 487.2L131.5 486.4L130.9 486.8L130.4 486L132.2 484.7L131.7 483.9L130.9 484.5L130.3 483.6L130.3 483.6L129.8 482.8L129.2 483.2L128.7 482.4L130.2 481.4L129.7 480.5L129.9 480.4L129.3 479.6L128 480.4L127.5 479.6L127.6 479.6L127 478.8L126.8 478.9L126.3 478.1L126.7 477.8L126.2 476.9L127.4 476.2L126.9 475.3L125.8 476L125.3 475.2L124.3 475.8L123.8 475L124 474.8L123.5 474L125.9 472.5L125.4 471.7L123.8 472.7L123.3 471.8L121.9 472.6L121.4 471.8L122.2 471.3L121.7 470.5L121.4 470.6L121 469.8L121.8 469.3L121.3 468.4L120.3 469L119.8 468.1L120.4 467.8L119.9 467L120.1 466.9L119.6 466L120.6 465.5L120.1 464.6L119.5 464.9L119 464.1L117.7 464.8L117.3 463.9L118.8 463.1L118.3 462.2L118.7 462L118.2 461.2L117.8 461.4L117.7 461.1L127.9 455.6A243.7 243.7 0 0 0 148.8 488.1ZM118.7 460.5L118.3 459.6L115.9 460.9L115.5 460L116.5 459.5L116 458.6L116.2 458.5L115.8 457.6L116 457.5L115.6 456.6L114.7 457.1L114.3 456.2L115.6 455.5L115.2 454.6L115.7 454.4L115.3 453.5L114.1 454.1L113.7 453.2L113.9 453.1L113.5 452.2L112 452.9L111.6 452L112 451.8L111.6 450.9L114.9 449.4L114.4 448.5L110.6 450.3L110.2 449.4L111.1 449L110.7 448.1L111.1 447.9L110.7 447L114.2 445.4L113.8 444.6L109.5 446.5L109.1 445.6L110.2 445.1L109.8 444.2L110.4 443.9L110 443L108.5 443.7L108.1 442.8L109.8 442.1L109.4 441.2L109.6 441.1L109.2 440.2L107.8 440.8L107.4 439.9L107.7 439.8L107.3 438.9L108.4 438.4L108.1 437.5L111.5 436.1L111.1 435.2L106.3 437.2L106 436.2L107.1 435.8L106.8 434.9L108 434.4L107.6 433.5L106.6 433.9L106.3 433L105.6 433.2L105.2 432.3L105 432.4L104.6 431.5L104.1 431.7L103.7 430.8L107 429.6L106.6 428.7L102.9 430.1L102.5 429.1L103.5 428.8L103.2 427.9L103.2 427.9L102.9 426.9L102.8 427L102.5 426L102.3 426.1L101.9 425.2L102.9 424.9L102.6 423.9L100.9 424.5L100.5 423.6L100.6 423.6L100.4 422.9L112.1 418.9A243.7 243.7 0 0 0 127.9 455.6ZM100.1 423L99.8 422L98.3 422.6L98 421.6L97.7 421.7L97.4 420.8L99 420.2L98.7 419.3L103.7 417.7L103.4 416.8L97.2 418.7L96.9 417.8L96.8 417.8L96.5 416.9L97.5 416.6L97.2 415.6L98.1 415.4L97.8 414.4L95.6 415.1L95.3 414.1L96.9 413.7L96.6 412.7L96.5 412.8L96.2 411.8L95.4 412.1L95.1 411.1L97 410.6L96.8 409.6L96.2 409.8L95.9 408.8L96 408.8L95.7 407.9L95.8 407.8L95.6 406.9L94.5 407.2L94.2 406.2L94.5 406.1L94.3 405.2L95.3 404.9L95 404L95.5 403.9L95.3 402.9L93.1 403.5L92.9 402.5L94 402.2L93.8 401.3L93.5 401.3L93.3 400.4L92.3 400.6L92.1 399.6L94.7 399L94.5 398.1L92.4 398.5L92.2 397.6L95.2 396.9L95 395.9L90.9 396.9L90.7 395.9L91 395.8L90.8 394.8L92.1 394.6L91.9 393.6L91.8 393.6L91.6 392.7L91.1 392.8L90.9 391.8L90.7 391.8L90.5 390.9L89.7 391L89.5 390.1L91.5 389.7L91.3 388.8L103.5 386.5A243.7 243.7 0 0 0 112.1 418.9ZM95 388.1L94.9 387.1L92.5 387.6L92.4 386.6L92.4 386.6L92.2 385.6L93.1 385.5L92.9 384.5L91.6 384.8L91.4 383.8L91.8 383.7L91.7 382.7L92.6 382.6L92.5 381.6L93 381.5L92.8 380.6L92.4 380.7L92.2 379.7L90.8 379.9L90.7 378.9L92.6 378.7L92.5 377.7L91.4 377.8L91.3 376.9L96.2 376.2L96.1 375.2L93.1 375.6L93 374.7L93 374.7L92.8 373.7L90.7 374L90.6 373L90.7 373L90.6 372L89.8 372.1L89.7 371.2L89.7 371.2L89.6 370.2L91.4 370L91.3 369L90.4 369.1L90.3 368.2L89.9 368.2L89.8 367.2L90.2 367.2L90.1 366.2L91.3 366.1L91.2 365.1L91.7 365.1L91.7 364.1L90.3 364.2L90.2 363.3L89.2 363.3L89.2 362.4L90.7 362.2L90.6 361.3L89.4 361.4L89.3 360.4L89.2 360.4L89.1 359.4L91.4 359.3L91.3 358.3L89.6 358.4L89.5 357.5L90.2 357.4L90.2 356.4L88.7 356.5L88.7 355.5L90.3 355.5L90.3 354.5L87.5 354.6L87.5 353.6L91.3 353.5L91.3 353.3L99.5 352.9A243.7 243.7 0 0 0 103.5 386.5ZM86.8 353.6L86.7 352.6L85.5 352.6L85.4 351.6L85.5 351.6L85.4 350.6L88.2 350.5L88.1 349.6L87.6 349.6L87.5 348.6L87.5 348.6L87.5 347.6L87.5 347.6L87.4 346.6L90.9 346.6L90.9 345.6L85.2 345.7L85.2 344.7L86.2 344.7L86.2 343.7L89.8 343.7L89.8 342.7L87.6 342.7L87.6 341.7L92.9 341.7L92.9 340.8L88.5 340.8L88.5 339.8L87.4 339.8L87.4 339.2L99.2 339.3A243.7 243.7 0 0 0 99.5 352.9Z" fill="#6cb4dc"/>
<path d="M342.9 93L343.9 93L343.8 93.5L344.8 93.5L344.8 93.6L345.7 93.6L345.7 93.5L346.7 93.5L346.7 93.1L347.7 93.1L347.7 93.4L348.6 93.4L348.7 89.3L349.7 89.3L349.6 93L350.5 93.1L350.5 93.2L351.5 93.2L351.4 93.5L352.4 93.6L352.4 92.7L353.4 92.8L353.4 92.9L354.3 92.9L354.3 93.6L355.2 93.6L355.3 93.4L356.2 93.5L356.2 93.6L357.1 93.7L357.2 93.4L358.1 93.5L358.1 92.9L359.1 93L359.1 93.7L360 93.7L360.1 92.9L361 93L361.2 90.5L362.2 90.5L361.9 93.9L362.8 94L362.9 93.1L363.9 93.2L363.8 93.5L364.8 93.6L364.8 93.9L365.7 94L365.8 93.4L366.7 93.5L366.6 94.4L367.6 94.5L367.6 94.2L368.5 94.3L368.5 94.4L369.5 94.5L369.5 94.2L370.5 94.3L370.4 94.7L371.4 94.8L371.4 94.6L372.3 94.7L372.4 94.2L373.3 94.3L373.3 94.4L374.3 94.6L374.3 94.5L375.2 94.6L375.2 94.4L376.2 94.5L376.1 95.3L377 95.4L377.1 95.2L378 95.3L378 95.2L379 95.4L379 94.9L380 95.1L379.9 95.7L380.8 95.8L380.7 96.6L381.6 96.8L381.8 95.9L382.7 96.1L382.7 96L383.7 96.1L383.6 96.3L384.6 96.4L384.6 96.5L385.5 96.7L385.6 96.2L386.5 96.4L386.4 97.4L387.3 97.5L387.3 97.5L388.2 97.7L388.3 97.3L389.2 97.4L389.2 97.6L390.1 97.8L390.8 94.3L391.8 94.4L391.1 97.9L392 98.1L392 98.2L392.9 98.4L393 98.1L393.9 98.3L393.9 98.5L394.8 98.7L394.8 98.6L395.8 98.8L396.5 95.3L397.5 95.5L396.7 98.7L397.7 98.9L397.8 98.4L398.7 98.6L398.7 98.9L399.6 99.1L399.6 99.2L400.5 99.4L400.5 99.3L401.4 99.5L401.4 99.8L402.3 100L402.3 100L403.2 100.2L403.2 100.2L404.2 100.5L404.2 100.2L405.2 100.4L405.2 100.4L406.1 100.7L406 101L406.9 101.3L406.7 102L407.6 102.2L408.4 99.3L409.4 99.5L408.5 102.5L409.5 102.7L409.6 102.1L410.6 102.3L410.5 102.7L411.4 103L411.3 103L412.3 103.3L412.4 102.9L413.3 103.1L413.4 102.9L414.3 103.2L414.3 103.3L415.2 103.5L415.1 103.6L416 103.9L416.2 103.6L417.1 103.9L417 104.2L417.9 104.5L417.9 104.5L418.8 104.8L419 104.1L419.9 104.4L419.5 105.5L420.4 105.8L420.4 105.8L421.3 106.1L421.5 105.8L422.4 106.1L422.3 106.2L423.2 106.5L423.2 106.4L424.1 106.7L425 104.4L425.9 104.7L425 107.1L425.9 107.4L426.1 106.9L427 107.2L426.9 107.3L427.8 107.7L427.7 108.1L428.6 108.5L428.9 107.6L429.8 108L430.5 106.1L431.4 106.5L430.4 109.1L431.3 109.4L431.3 109.2L432.2 109.5L432.1 109.8L433 110.1L433 110.1L433.9 110.4L433.9 110.4L434.8 110.8L434.9 110.5L435.8 110.8L437.7 106.2L438.6 106.5L436.8 111L437.6 111.4L437.5 111.7L438.4 112L438.4 112L439.3 112.3L439.1 112.9L440 113.2L440.1 112.8L441 113.2L440.8 113.8L441.6 114.2L441.8 113.8L442.7 114.2L442.7 114.1L443.6 114.5L443.8 113.9L444.7 114.3L444.4 114.9L445.3 115.3L445.5 114.8L446.4 115.2L446.2 115.7L446.4 115.8L444.7 119.4A243.7 243.7 0 0 0 342.9 97.1ZM446.2 116.3L447 116.7L446.8 117.1L447.7 117.5L447.7 117.5L448.6 117.9L448.6 117.9L449.4 118.3L449.4 118.3L450.3 118.7L450.1 119.1L450.9 119.5L451.2 118.9L452.1 119.3L451.8 119.8L452.7 120.2L452.9 119.7L453.8 120.2L453.7 120.3L454.5 120.8L454.5 120.8L455.4 121.2L455.5 121L456.3 121.5L456.1 121.8L457 122.2L457.2 121.8L458.1 122.2L458.1 122.2L458.9 122.6L458.6 123.2L459.4 123.7L459.3 123.8L460.2 124.3L460.4 123.8L461.3 124.2L461.1 124.6L461.9 125.1L464.7 120.1L465.5 120.5L463.2 124.7L464 125.2L463.8 125.6L464.6 126.1L464.5 126.3L465.3 126.7L465.6 126.1L466.5 126.6L466.3 126.9L467.1 127.4L466.8 128L467.6 128.5L467.8 128.1L468.6 128.5L468.5 128.7L469.3 129.2L469.6 128.7L470.4 129.2L470.1 129.8L470.9 130.3L471.1 129.9L471.9 130.4L473.1 128.6L473.9 129.1L472.7 130.9L473.5 131.4L473.4 131.6L474.2 132.1L474.5 131.7L475.3 132.2L475.2 132.3L476 132.8L476 132.8L476.8 133.3L476.5 133.8L477.3 134.3L477.4 134.1L478.2 134.7L478.6 134L479.4 134.6L479 135.1L479.8 135.6L480.1 135.2L480.9 135.8L480.6 136.1L481.4 136.7L481.6 136.4L482.4 137L482.2 137.3L482.9 137.8L482.9 137.8L483.7 138.3L483.9 138L484.7 138.6L484.4 139.1L485.1 139.6L485.1 139.7L485.9 140.2L486.5 139.3L487.3 139.8L487.4 139.8L488.1 140.3L487.8 140.8L488.6 141.3L488.4 141.6L489.1 142.2L489.4 141.7L490.2 142.3L490.4 142L491.2 142.6L490.5 143.5L491.3 144L494.3 140L495.1 140.6L492.3 144.3L493 144.9L492.7 145.2L493.5 145.8L493.7 145.5L494.5 146.1L494.3 146.3L495.1 146.9L495.1 146.8L495.9 147.4L495.8 147.4L496.6 148L496.9 147.6L497.7 148.2L497.7 148.1L498.4 148.7L498.5 148.7L499.2 149.3L499.1 149.4L499.9 150L499.9 150L500.6 150.6L500.5 150.6L501.3 151.2L500.8 151.9L501.5 152.5L503.2 150.4L504 151L502.2 153.1L502.9 153.7L503.1 153.5L503.9 154.1L504.2 153.7L504.9 154.3L504.5 154.7L505.2 155.4L505.7 154.8L506.5 155.4L506 156L506.7 156.6L508.5 154.5L509.2 155.2L507.3 157.4L508 158L508.1 157.8L508.8 158.4L510.7 156.4L511.4 157L509.7 158.9L510.4 159.6L510.4 159.5L511.1 160.2L511.2 160.1L511.9 160.8L513.4 159.1L514.1 159.8L512.2 161.8L512.9 162.4L513.1 162.2L513.8 162.9L514.1 162.5L514.8 163.2L514.7 163.3L515.4 163.9L515 164.3L515.7 165L515.5 165.1L516.2 165.8L516.7 165.3L517.4 166L516.7 166.6L517.4 167.3L517.4 167.3L518.1 167.9L518.5 167.5L519.2 168.2L518.8 168.5L519.1 168.8L517.3 170.6A243.7 243.7 0 0 0 444.7 119.4ZM520.3 167.7L520.9 168.4L520.6 168.7L521.3 169.4L521.4 169.3L522.1 170L521.8 170.2L522.5 170.9L522.8 170.6L523.4 171.3L523.5 171.2L524.2 171.9L524.3 171.8L525 172.5L524.6 172.8L525.3 173.5L525.6 173.1L526.3 173.8L526.5 173.6L527.2 174.3L526.6 174.8L527.2 175.5L527.6 175.2L528.3 175.9L527.9 176.2L528.6 176.9L528.7 176.8L529.3 177.5L529.5 177.4L530.1 178.1L529.9 178.3L530.5 179L529.7 179.6L530.4 180.4L530.8 180L531.4 180.7L531.3 180.8L531.9 181.5L532.2 181.3L532.8 182L533 181.8L533.6 182.6L534.5 181.8L535.1 182.6L534.4 183.2L535 183.9L534.5 184.3L535.1 185L535.3 184.9L535.9 185.6L535.8 185.7L536.4 186.4L536.1 186.7L536.7 187.4L537 187.2L537.6 187.9L537 188.3L537.6 189.1L538.1 188.8L538.6 189.5L539 189.2L539.6 190L539.4 190.1L540 190.9L540 190.9L540.6 191.6L540.7 191.5L541.3 192.3L540.5 192.9L541 193.6L541.4 193.4L541.9 194.2L541.7 194.3L542.2 195.1L542.5 194.9L543 195.7L545 194.3L545.6 195.1L544.1 196.1L544.6 196.9L544.3 197.1L544.9 197.9L545.3 197.6L545.8 198.4L545.3 198.8L545.9 199.5L546.1 199.4L546.7 200.1L546.5 200.2L547.1 201L546.8 201.2L547.3 201.9L544.5 203.8A243.7 243.7 0 0 0 517.3 170.6ZM546.9 202.2L547.4 203L547.3 203L547.8 203.8L548 203.7L548.5 204.5L548.8 204.3L549.3 205.1L550.5 204.3L551.1 205.1L549.4 206.2L550 206.9L550.5 206.6L551 207.4L550.9 207.5L551.4 208.3L551.6 208.1L552.1 208.9L552.3 208.9L552.8 209.7L553.1 209.5L553.6 210.3L553.5 210.3L554 211.2L553.7 211.3L554.2 212.1L554.2 212.1L554.7 212.9L555.2 212.7L555.6 213.5L555.2 213.7L555.7 214.5L555.7 214.6L556.2 215.4L555.9 215.5L556.4 216.3L556.6 216.2L557 217.1L557.1 217.1L557.5 217.9L557.4 217.9L557.9 218.8L558.2 218.6L558.7 219.4L558.6 219.5L559 220.3L558.9 220.4L559.3 221.2L559.7 221L560.1 221.9L562.9 220.4L563.3 221.2L559.9 223.1L560.4 223.9L561.1 223.5L561.5 224.4L561.4 224.4L561.8 225.3L561.1 225.6L561.6 226.5L561.9 226.3L562.3 227.2L562.6 227L563 227.9L562.7 228L563.1 228.9L567.2 226.8L567.7 227.7L563.6 229.7L564 230.6L564.1 230.5L564.5 231.4L564.6 231.3L565 232.2L565.5 231.9L565.9 232.8L566.1 232.7L566.5 233.6L566 233.8L566.4 234.7L566.3 234.7L566.7 235.6L566.9 235.5L567.3 236.3L567.5 236.2L567.9 237.1L567 237.6L567.3 238.4L567.3 238.4L567.7 239.3L568.6 238.9L568.9 239.8L568.1 240.1L568.5 241L569 240.8L569.4 241.7L569.3 241.7L569.6 242.6L570 242.4L570.4 243.3L570.6 243.2L570.9 244.1L574.2 242.7L574.6 243.6L571.2 245L571.5 245.9L571.3 246L571.7 246.9L571.6 246.9L572 247.8L571.8 247.8L572.2 248.7L576.6 247L576.9 247.9L573.2 249.3L573.6 250.2L573.8 250.1L574.1 251L574.1 251L574.5 251.9L574.3 252L574.4 252.4L570.6 253.9A243.7 243.7 0 0 0 544.5 203.8ZM574.1 252.5L574.5 253.4L573.9 253.6L574.3 254.5L575.3 254.1L575.6 255L575.5 255.1L575.8 255.9L575.3 256.1L575.6 257L575.9 256.9L576.2 257.8L575.8 258L576.1 258.9L576.5 258.7L576.9 259.6L576.7 259.6L577.1 260.5L576.2 260.8L576.5 261.7L577 261.6L577.3 262.5L577.2 262.5L577.5 263.4L577.4 263.4L577.7 264.3L578.6 264L578.9 264.9L578.5 265.1L578.8 266L578.9 265.9L579.2 266.8L578.7 267L579 267.9L578.9 267.9L579.2 268.8L579.6 268.7L579.9 269.6L580.1 269.5L580.4 270.5L580.3 270.5L580.5 271.4L580.2 271.5L580.5 272.4L580.7 272.3L581 273.2L581.6 273.1L581.9 274L581.2 274.2L581.5 275.1L581.8 275L582 275.9L582.1 275.9L582.4 276.8L582.7 276.7L583 277.6L583 277.6L583.2 278.6L582.6 278.7L582.8 279.6L583.1 279.6L583.3 280.5L583.5 280.4L583.8 281.4L583.5 281.4L583.7 282.4L583.8 282.3L584.1 283.3L584 283.3L584.2 284.2L583.9 284.3L584.1 285.2L583.9 285.2L584.2 286.2L586.6 285.6L586.8 286.6L584.3 287.1L584.5 288L584.9 287.9L585.1 288.9L585.6 288.8L585.8 289.7L584.8 289.9L585 290.8L585.5 290.7L585.7 291.7L585.5 291.7L585.7 292.6L585.5 292.7L585.7 293.6L585.1 293.7L585.3 294.7L585.8 294.6L586 295.5L585.9 295.5L586.1 296.4L586.5 296.4L586.6 297.3L586.7 297.3L586.8 298.2L586.5 298.3L586.7 299.2L586.7 299.2L586.9 300.2L587.6 300L587.8 301L587.6 301L587.7 301.9L587.2 302L587.3 303L590.4 302.5L590.6 303.4L587.1 304L587.2 304.9L587.2 304.9L587.4 305.8L587.3 305.8L587.5 306.8L587.8 306.7L587.9 307.7L588.1 307.7L588.2 308.6L587.6 308.7L587.7 309.6L588.1 309.6L588.3 310.5L588.3 310.5L588.4 311.4L588.2 311.5L588.3 312.4L588.2 312.4L588.3 313.4L588.2 313.4L588.3 314.3L588.8 314.3L588.9 315.2L589.4 315.2L589.5 316.1L589.3 316.1L589.4 317.1L593.4 316.7L593.5 317.6L588.5 318.1L588.6 319L589.2 319L589.3 319.9L589.2 319.9L589.3 320.9L589.9 320.8L590 321.8L585.9 322.1A243.7 243.7 0 0 0 570.6 253.9ZM589.4 321.8L589.5 322.8L589.1 322.8L589.1 323.8L589.5 323.7L589.6 324.7L590.2 324.6L590.3 325.6L589.7 325.6L589.7 326.6L589.9 326.6L590 327.5L589.9 327.5L590 328.5L589.9 328.5L590 329.4L589.9 329.4L590 330.4L590.4 330.3L590.5 331.3L589.9 331.3L589.9 332.3L589.9 332.3L589.9 333.2L590 333.2L590 334.2L590.6 334.1L590.6 335.1L590.5 335.1L590.5 336L590.3 336L590.4 337L589.8 337L589.9 338L590.3 337.9L590.3 338.9L589.8 338.9L589.8 339.9L590.7 339.8L590.7 340.8L589.9 340.8L589.9 341.7L594.1 341.8L594.1 342.7L589.7 342.7L589.7 343.6L590.7 343.7L590.7 344.6L590.6 344.6L590.6 345.6L591 345.6L591 346.5L590.2 346.5L590.2 347.4L591.1 347.5L591 348.4L590.7 348.4L590.7 349.4L589.9 349.3L589.9 350.3L589.9 350.3L589.8 351.2L590.4 351.3L590.3 352.2L590.6 352.2L590.6 353.2L589.5 353.1L589.5 354.1L589.5 354.1L589.4 355L590 355L589.9 356L589.8 356L589.7 356.9L590.2 357L590.1 357.9L589.9 357.9L589.8 358.8L589.9 358.8L589.8 359.8L589.2 359.8L589.1 360.7L589.6 360.7L589.5 361.7L589.9 361.7L589.9 362.7L589.6 362.6L589.5 363.6L589.5 363.6L589.4 364.5L593.5 364.9L593.4 365.9L592.7 365.8L592.6 366.8L588.7 366.4L588.6 367.3L588.7 367.3L588.6 368.3L589.3 368.4L589.2 369.3L589.2 369.3L589.1 370.2L588.6 370.2L588.5 371.1L588.2 371.1L588.1 372L587.6 372L587.5 372.9L587.6 372.9L587.5 373.9L589.6 374.2L589.5 375.1L587.2 374.8L587.1 375.7L588.4 375.9L588.2 376.9L589.2 377L589.1 377.9L588 377.8L587.8 378.7L586.8 378.6L586.7 379.5L587.7 379.7L587.5 380.6L587.7 380.6L587.6 381.6L587.3 381.5L587.1 382.5L587.5 382.5L587.4 383.5L587.4 383.5L587.3 384.4L587.2 384.4L587 385.3L586.7 385.3L586.5 386.2L586.7 386.2L586.5 387.2L585.9 387.1L585.7 388L586.2 388.1L586.1 389L586.2 389.1L586 390L585.4 389.9L585.2 390.8L585.9 390.9L585.7 391.9L585.4 391.8L585.2 392.7L585.1 392.7L584.9 393.7L584.1 393.5L584 393.8L580.9 393.1A243.7 243.7 0 0 0 585.9 322.1ZM585.4 394.1L585.2 395.1L584.6 394.9L584.4 395.8L584.7 395.9L584.5 396.8L584.8 396.9L584.6 397.9L584.6 397.9L584.4 398.8L583.6 398.6L583.3 399.5L583.5 399.5L583.3 400.5L583.7 400.6L583.5 401.5L583 401.4L582.8 402.3L582.9 402.3L582.6 403.2L583.3 403.4L583 404.3L583.1 404.3L582.8 405.3L582.1 405.1L581.8 406L582.4 406.2L582.2 407.1L581.5 406.9L581.3 407.8L581.5 407.9L581.3 408.8L580.6 408.6L580.3 409.5L580.6 409.6L580.3 410.5L580.1 410.4L579.9 411.4L580.6 411.6L580.3 412.5L580 412.4L579.7 413.3L579.6 413.3L579.3 414.2L579.6 414.3L579.3 415.2L579.5 415.2L579.2 416.1L579.5 416.2L579.2 417.1L579.4 417.2L579.1 418.1L578.7 418L578.4 418.9L577.5 418.6L577.2 419.5L577.3 419.5L577 420.4L577.6 420.6L577.3 421.5L577.6 421.6L577.3 422.5L577.2 422.5L576.9 423.4L577 423.4L576.7 424.3L576.4 424.2L576.1 425.1L575.8 425L575.5 425.9L575.1 425.8L574.8 426.7L575.5 426.9L575.2 427.8L574.4 427.5L574.1 428.4L574.3 428.5L574 429.4L574.3 429.5L573.9 430.4L573.5 430.3L573.2 431.1L574.1 431.5L573.8 432.4L573.7 432.4L573.4 433.3L573.2 433.2L572.8 434.1L575.1 435L574.7 435.9L572.4 434.9L572 435.8L572.2 435.9L571.8 436.7L571.1 436.5L570.8 437.3L574.8 439L574.4 439.9L570.8 438.4L570.4 439.2L569.8 439L569.5 439.9L569.9 440.1L569.5 440.9L569.1 440.8L568.8 441.6L569.4 442L569.1 442.8L569.4 443L569 443.8L568.3 443.5L568.1 443.9L564.5 442.2A243.7 243.7 0 0 0 580.9 393.1ZM567.9 443.8L567.5 444.7L568.2 445L567.8 445.9L566.9 445.5L566.5 446.3L566.3 446.2L565.9 447L566.1 447.2L565.7 448L565.3 447.9L564.9 448.7L565.4 449L565 449.8L565.2 449.9L564.8 450.8L565.2 450.9L564.7 451.8L564.2 451.5L563.8 452.4L563.7 452.3L563.3 453.2L563.1 453.1L562.7 454L562.4 453.8L562 454.6L562.5 454.9L562 455.7L562 455.7L561.6 456.6L561.8 456.7L561.4 457.6L560.8 457.3L560.4 458.1L560.5 458.1L560 459L560.7 459.3L560.2 460.2L559.5 459.8L559 460.6L559.4 460.8L558.9 461.6L558.6 461.5L558.2 462.3L558.7 462.6L558.2 463.4L562.2 465.7L561.7 466.5L557.7 464.2L557.2 465L557 464.9L556.5 465.7L555.9 465.4L555.4 466.2L555.8 466.4L555.3 467.2L555.9 467.6L555.4 468.4L555.2 468.3L554.7 469.1L554.4 468.9L553.9 469.7L554.3 469.9L553.8 470.7L553.4 470.5L552.9 471.3L552.7 471.2L552.2 472L552.1 471.9L551.6 472.7L552.3 473.2L551.8 474L551.6 473.9L551.1 474.7L551 474.6L550.5 475.4L550.7 475.5L550.2 476.3L550.6 476.6L550.1 477.4L549.5 477L549 477.8L549.6 478.3L549.1 479L548.4 478.6L547.9 479.4L547.6 479.2L547 480L547.8 480.5L547.3 481.3L547.2 481.2L546.6 482L546.6 482L546.1 482.7L546.1 482.8L545.6 483.5L545.1 483.2L544.5 484L544.3 483.8L543.8 484.6L544.5 485.1L543.9 485.9L543.5 485.6L543 486.4L543.3 486.6L542.7 487.4L542.8 487.4L542.2 488.2L542 488L541.5 488.8L541.5 488.8L540.9 489.6L540.9 489.6L540.4 490.4L540.1 490.2L539.5 490.9L539.8 491.1L539.2 491.9L539.4 492L538.9 492.8L538.4 492.5L537.9 493.2L539.1 494.2L538.6 495L537 493.7L536.4 494.5L536.3 494.4L536.2 494.5L533.6 492.5A243.7 243.7 0 0 0 564.5 442.2ZM536.9 495.1L536.3 495.8L536.4 495.9L535.8 496.7L535.9 496.7L535.3 497.5L535.4 497.6L534.8 498.3L537.8 500.8L537.2 501.6L537.3 501.6L536.7 502.4L533.2 499.5L532.6 500.2L532.6 500.2L531.9 500.9L532.5 501.4L531.9 502.1L534.8 504.6L534.2 505.3L531.1 502.6L530.4 503.4L531.9 504.6L531.3 505.4L530 504.2L529.4 505L528.9 504.5L528.2 505.2L528.3 505.3L527.7 506L528.1 506.4L527.5 507.1L527.1 506.8L526.5 507.5L526.5 507.5L525.9 508.2L526.3 508.6L525.6 509.3L525.7 509.4L525 510.1L525.8 510.8L525.2 511.5L524.1 510.5L523.5 511.2L523.5 511.2L522.8 511.9L522.3 511.4L521.6 512.1L521.8 512.2L521.1 512.9L520.8 512.6L520.1 513.3L520.4 513.5L519.8 514.2L520.2 514.6L519.5 515.3L519.2 515L518.5 515.7L518.9 516L518.2 516.7L518.2 516.8L517.6 517.4L521.3 521.2L520.6 521.9L516.6 517.8L516 518.5L516.3 518.9L515.6 519.5L515.2 519.1L514.5 519.7L514.5 519.7L513.8 520.4L513.6 520.2L512.9 520.8L513.1 521L512.4 521.6L512.5 521.8L511.9 522.5L512.1 522.7L511.4 523.3L511.2 523.2L510.5 523.8L510.7 524L510 524.6L509.6 524.3L508.9 524.9L509 525L508.3 525.7L508.4 525.7L507.7 526.4L507.4 526.1L506.7 526.8L507.2 527.3L506.5 527.9L506 527.4L505.3 528L505.4 528.2L504.7 528.8L504.3 528.3L503.6 529L503.9 529.3L503.2 529.9L503.3 530.1L502.6 530.7L502.3 530.4L501.6 531L501.9 531.3L501.1 531.9L501.1 531.9L500.4 532.5L500 532.1L499.3 532.7L499.3 532.7L498.5 533.3L498.8 533.6L498.1 534.2L497.8 533.8L497 534.4L497.4 534.9L497.3 534.9L494.6 531.5A243.7 243.7 0 0 0 533.6 492.5ZM496.9 534.4L496.2 535L495.8 534.5L495 535.1L494.9 534.9L494.2 535.5L494.5 536L493.8 536.6L493.5 536.3L492.8 536.8L493.1 537.3L492.3 537.8L492.4 537.9L491.7 538.5L491.6 538.5L490.9 539.1L490.9 539L490.1 539.6L490 539.4L489.2 540L489.1 539.8L488.3 540.4L488.3 540.3L487.5 540.9L487.5 540.8L486.7 541.4L486.9 541.6L486.1 542.2L486.1 542.1L485.3 542.7L485 542.3L484.2 542.8L484.5 543.2L483.7 543.7L483.9 543.9L483.1 544.5L485.7 548.3L484.9 548.9L482.1 544.7L481.3 545.2L481.2 545L480.4 545.5L480.7 546L479.9 546.6L479.9 546.5L479.1 547L478.8 546.6L478 547.1L478 547.1L477.2 547.7L477.7 548.4L476.9 549L476.7 548.6L475.9 549.1L476.1 549.3L475.3 549.8L475.1 549.5L474.2 550L474.1 549.8L473.3 550.3L473.5 550.7L472.7 551.2L472.6 550.9L471.7 551.4L471.8 551.5L471 552L470.8 551.7L470 552.2L470.4 552.9L469.6 553.3L469.2 552.7L468.4 553.2L468.5 553.3L467.7 553.8L467.4 553.4L466.6 553.9L467.1 554.6L466.2 555.1L466.2 555L465.3 555.5L465.3 555.3L464.4 555.8L464.2 555.4L463.4 555.8L463.5 556L462.6 556.4L462.8 556.8L462 557.3L461.8 556.9L461 557.4L461.3 557.9L460.4 558.3L460.4 558.3L459.5 558.7L459.3 558.2L458.4 558.6L458.7 559.1L457.9 559.6L458 559.9L457.2 560.3L456.9 559.9L456.1 560.3L456.1 560.3L455.2 560.7L455.5 561.1L454.6 561.6L454.3 561L453.5 561.5L455.3 565L454.4 565.4L452.5 561.5L451.6 561.9L451.8 562.3L450.9 562.7L451.2 563.2L450.3 563.6L450.4 563.7L449.8 564L448.2 560.6A243.7 243.7 0 0 0 494.6 531.5ZM449.7 563.6L448.8 564L448.6 563.7L447.8 564.1L448 564.7L447.2 565.1L447 564.7L446.2 565.1L446.3 565.5L445.5 565.9L445.6 566.1L444.7 566.5L444.6 566.4L443.8 566.7L443.5 566.1L442.6 566.4L443 567.3L442.1 567.7L441.7 566.8L440.9 567.2L440.9 567.2L440 567.6L440 567.5L439.1 567.8L439.3 568.3L438.4 568.7L438.6 569L437.7 569.4L437.8 569.7L436.9 570L436.9 570L436 570.3L436 570.2L435.1 570.5L435 570.4L434.1 570.7L434.2 571L433.4 571.4L433.4 571.6L432.6 572L432.3 571.4L431.5 571.7L431.2 571.1L430.3 571.5L430.4 571.5L429.5 571.9L429.5 572L428.6 572.3L428.8 572.8L427.9 573.1L427.9 573.1L427 573.4L427.1 573.6L426.2 573.9L425.9 573L425 573.4L425.2 573.9L424.3 574.2L424.2 574L423.3 574.3L423.2 573.9L422.3 574.3L422.5 574.9L421.6 575.2L421.5 574.9L420.6 575.2L420.8 575.7L419.9 576L419.6 575.2L418.7 575.5L418.8 575.7L417.9 576L417.9 576.1L417 576.4L417.2 577.1L416.3 577.4L416 576.3L415.1 576.6L415.3 577.3L414.4 577.6L414.4 577.5L413.5 577.8L413.3 577.3L412.4 577.5L412.6 578.1L411.7 578.4L412.8 582.5L411.9 582.7L410.7 578.5L409.8 578.8L409.8 579L408.9 579.2L408.9 579.1L408 579.4L408 579.3L407.1 579.6L407 579.5L406.9 579.5L406 576.2A243.7 243.7 0 0 0 448.2 560.6ZM407.1 580.6L406.2 580.8L406 580L405.1 580.3L405 580L404.1 580.2L404.1 580.3L403.2 580.6L403.2 580.4L402.2 580.6L402.3 580.9L401.4 581.1L401.5 581.4L400.5 581.7L400.5 581.5L399.6 581.8L399.6 581.8L398.7 582L398.7 582.2L397.8 582.5L397.8 582.6L396.9 582.8L396.7 582L395.8 582.2L395.8 582L394.8 582.2L394.8 582.1L393.9 582.3L394 582.9L393.1 583.1L393 582.9L392.1 583.1L392.1 583L391.2 583.2L391.2 583.4L390.3 583.6L390.3 584L389.4 584.2L389.6 585.2L388.7 585.3L388.4 584.2L387.5 584.4L387.5 584.2L386.6 584.4L386.5 583.9L385.5 584.1L385.5 584L384.6 584.1L384.7 584.8L383.8 585L383.7 584.6L382.8 584.7L382.9 585.4L381.9 585.5L381.9 585.4L381 585.5L380.9 585.4L380 585.5L380 585.7L379.1 585.8L379.1 585.8L378.1 586L378.1 585.8L377.2 585.9L377.1 585.2L376.1 585.4L376.2 585.6L375.2 585.7L375.2 585.8L374.3 585.9L374.3 585.8L373.3 585.9L373.3 585.9L372.4 586L372.4 586.2L371.5 586.4L371.6 587L370.6 587.1L370.5 586L369.5 586.1L369.6 586.7L368.7 586.8L368.7 587.5L367.8 587.6L367.8 587.6L366.8 587.7L366.8 587.3L365.9 587.4L365.9 587.4L364.9 587.5L365.1 589.1L364.1 589.1L363.9 587.1L363 587.2L363 586.9L362 587L362.1 587.8L361.9 587.8L361.6 583.8A243.7 243.7 0 0 0 406 576.2ZM361.9 587.4L360.9 587.5L361 588.4L360 588.5L360 588.2L359.1 588.3L359.1 588.6L358.1 588.6L358.1 588.2L357.2 588.2L357.2 588.7L356.2 588.8L356.2 587.9L355.2 587.9L355.3 589L354.3 589.1L354.3 588.7L353.4 588.8L353.4 588.2L352.4 588.2L352.4 588.3L351.5 588.4L351.4 588L350.5 588.1L350.5 588.3L349.6 588.3L349.6 588.3L348.6 588.3L348.6 589L347.7 589L347.7 589.3L346.7 589.3L346.7 588.1L345.7 588.1L345.8 589L344.8 589L344.8 589L343.9 589L343.9 588.7L342.9 588.7L342.9 588.4L341.9 588.4L341.9 588.5L341 588.5L341 588.9L340 588.9L340.1 588L339.1 588L339.1 588.7L338.1 588.7L338.1 588.5L337.2 588.5L337.2 588.4L336.2 588.4L336.1 593.5L335.1 593.5L335.3 588.4L334.3 588.3L334.3 588.7L333.4 588.7L333.4 588.6L332.4 588.6L332.4 588.3L331.5 588.2L331.4 590.9L330.4 590.9L330.5 588.5L329.6 588.5L329.6 588.1L328.6 588.1L328.7 587.8L327.7 587.8L327.7 588.4L326.7 588.3L326.7 588L325.8 587.9L325.8 587.2L324.9 587.2L324.9 587.7L323.9 587.6L323.9 587.8L322.9 587.7L322.9 588.1L322 588L322 587.4L321.1 587.3L321.1 587L320.2 586.9L320.1 587.4L319.2 587.3L319.2 586.9L318.3 586.8L318.2 586.9L317.3 586.8L317.3 586.7L316.4 586.6L316.4 586.6L315.4 586.5L315.4 587.1L314.4 587L314.9 582.9A243.7 243.7 0 0 0 361.6 583.8ZM314.4 587L313.5 586.9L313.4 587.2L312.5 587.1L312.5 587.1L311.5 587L311.6 586.8L310.6 586.6L310.6 586.9L309.6 586.8L309.7 586.1L308.8 586L308.7 586.5L307.8 586.4L307.8 585.9L306.9 585.8L307 585.4L306 585.3L306 585.6L305 585.5L305 585.3L304.1 585.2L304.1 585.2L303.2 585.1L303.2 585.1L302.2 584.9L302.1 585.6L301.2 585.5L301.3 584.9L300.3 584.7L300.2 585.3L299.3 585.2L299.3 584.8L298.4 584.7L298.5 584.2L297.6 584L297.5 584.1L296.6 584L296.5 584.4L295.6 584.2L295.6 584L294.7 583.9L294.7 584L293.7 583.8L293.9 583L293 582.8L292.7 583.8L291.8 583.6L291.9 583.2L291 583L291.1 582.5L290.2 582.3L290.2 582.3L289.2 582.1L289.1 582.5L288.2 582.3L288.2 582.5L287.2 582.3L287.3 581.9L286.4 581.7L286.4 581.8L285.5 581.6L285.4 581.7L284.5 581.5L284.5 581.7L283.5 581.4L283.5 581.5L282.6 581.3L282.7 580.9L281.8 580.6L281.7 580.9L280.8 580.6L280.8 580.4L279.9 580.2L279.9 580.2L279 579.9L279.1 579.4L278.2 579.2L277.3 582.4L276.4 582.2L277 580L276.1 579.7L276.3 578.9L275.4 578.7L275.3 579.1L274.4 578.9L274.5 578.2L274 578.1L274.9 574.8A243.7 243.7 0 0 0 314.9 582.9ZM274 577.8L273.1 577.5L273 578.1L272.1 577.8L272.1 577.7L271.2 577.4L271.1 577.7L270.2 577.4L270.3 577.1L269.4 576.8L269.3 577.1L268.4 576.9L268.4 576.8L267.5 576.5L267.4 576.9L266.5 576.6L266.4 576.8L265.5 576.5L265.7 576L264.8 575.7L264.9 575.3L264 575L263.7 575.9L262.8 575.6L261.9 578L261 577.7L261.9 575.1L261.1 574.8L261 574.9L260.1 574.6L260.3 573.9L259.5 573.6L259.3 574L258.4 573.7L258.4 573.7L257.5 573.4L257.4 573.7L256.5 573.4L256.6 573.2L255.7 572.8L255.7 572.7L254.8 572.4L255 571.9L254.2 571.5L253.9 572.1L253 571.8L253 571.9L252.1 571.5L252.3 571.1L251.4 570.7L251.3 570.9L250.4 570.6L250.4 570.7L249.5 570.3L249.8 569.6L248.9 569.2L248.9 569.4L248 569L248 569.1L247.1 568.7L246.9 569.2L246 568.8L246.3 568.1L245.4 567.7L245.4 567.9L244.5 567.5L244.3 568.1L243.4 567.7L243.4 567.6L242.6 567.2L242.7 566.9L241.8 566.5L241.9 566.5L241 566.1L238.8 570.8L238 570.4L240 565.9L239.2 565.5L239 565.8L238.2 565.4L238 565.8L237.1 565.4L235.7 568.4L235 568.1L238.4 560.9A243.7 243.7 0 0 0 274.9 574.8ZM236.3 565.3L235.4 564.9L235.2 565.3L234.4 564.9L234.6 564.4L233.8 564L233.7 564.1L232.8 563.7L232.9 563.5L232.1 563.1L232 563.3L231.1 562.9L231 563.1L230.1 562.7L230.5 562L229.7 561.5L229.4 562L228.6 561.5L228.7 561.3L227.8 560.9L227.9 560.8L227.1 560.3L227.1 560.3L226.2 559.8L226.4 559.5L225.6 559.1L225.1 559.9L224.3 559.4L224.2 559.5L223.4 559.1L223.9 558.2L223 557.7L222.8 558.3L221.9 557.8L221.9 557.8L221.1 557.4L221.2 557.2L220.4 556.7L220.5 556.5L219.6 556L219.7 556L218.8 555.5L218.9 555.4L218.1 554.9L217.9 555.2L217.1 554.7L217.2 554.5L216.4 554L216.1 554.6L215.2 554.1L215.4 553.8L214.6 553.3L214.4 553.7L213.6 553.2L213.7 553L212.9 552.5L213.3 551.9L212.4 551.4L212.2 551.7L211.4 551.2L211.6 551L210.8 550.5L210.8 550.4L210 549.9L209.9 550.1L209.1 549.6L209.4 549.1L208.6 548.6L207.9 549.6L207.1 549.1L207.5 548.5L206.7 548L206.9 547.7L206.1 547.2L205.7 547.8L204.9 547.3L205 547.1L204.2 546.5L204.3 546.4L203.5 545.9L203.4 546.1L202.6 545.6L202.5 545.7L201.7 545.2L202 544.8L201.9 544.8L204.3 541.3A243.7 243.7 0 0 0 238.4 560.9ZM201.8 544.9L201 544.4L201.2 544.2L200.4 543.7L200.5 543.5L199.7 543L199.5 543.2L198.7 542.7L198.8 542.6L198 542L197.8 542.4L197 541.8L197.2 541.6L196.4 541.1L193.6 544.9L192.8 544.3L195.6 540.6L194.8 540L194.4 540.6L193.6 540L193.9 539.6L193.1 539L193.5 538.6L192.7 538L192.8 537.9L192 537.3L191.5 538L190.8 537.4L191.2 536.9L190.4 536.3L190.1 536.7L189.4 536.1L189.6 535.9L188.8 535.3L188.3 535.9L187.5 535.3L185.3 538.2L184.5 537.6L187.2 534.3L186.4 533.7L186.6 533.5L185.8 532.9L185.7 533.1L185 532.4L184.9 532.6L184.1 532L184.4 531.7L183.6 531.1L183.6 531.1L182.9 530.5L183.1 530.3L182.3 529.7L182 530L181.3 529.4L181.7 529L180.9 528.4L181 528.3L180.3 527.7L180.2 527.8L179.4 527.2L179.5 527.1L178.8 526.5L178.8 526.5L178.1 525.8L177.9 526.1L177.2 525.4L176.9 525.8L176.2 525.1L176.5 524.7L175.8 524.1L176 523.9L175.3 523.2L175.3 523.2L174.6 522.6L174.1 523.1L173.4 522.5L173.4 522.5L172.7 521.8L173.4 521.2L172.7 520.5L172.3 520.8L171.7 520.2L169.5 522.5L168.8 521.8L167.3 523.3L167.3 523.3L173.9 516.4A243.7 243.7 0 0 0 204.3 541.3ZM170.1 520.4L169.4 519.7L169.3 519.8L168.6 519.1L170.4 517.3L169.7 516.7L169.1 517.3L168.4 516.7L168.6 516.4L167.9 515.8L167.9 515.8L167.2 515.2L167.4 515L166.7 514.3L166.6 514.4L165.9 513.8L165.9 513.8L165.2 513.1L165.6 512.7L165 512L164.4 512.6L163.8 511.9L164.3 511.4L163.6 510.7L163.7 510.6L163.1 509.9L162.6 510.4L161.9 509.7L161.9 509.7L161.3 509L161.8 508.5L161.2 507.8L160.8 508.2L160.1 507.5L160.5 507.1L159.9 506.4L159.7 506.6L159.1 505.9L159.3 505.6L158.7 504.9L158.9 504.7L158.3 504L157.5 504.7L156.9 504L156.8 504L156.2 503.3L157 502.6L156.4 501.9L155.8 502.4L155.2 501.7L154.9 501.9L154.3 501.2L154.5 501L153.9 500.3L154.2 500.1L153.6 499.3L153.2 499.6L152.6 498.9L152.6 498.9L152 498.1L152.5 497.7L151.9 497L151.2 497.6L150.6 496.9L150.7 496.8L150.1 496L147.8 497.9L147.2 497.1L149.7 495.1L149.1 494.4L149.2 494.3L148.6 493.6L148.9 493.3L148.3 492.6L148.2 492.7L147.6 491.9L147.8 491.8L147.2 491.1L147.3 491L146.7 490.3L146.3 490.6L146 490.3L148.8 488.1A243.7 243.7 0 0 0 173.9 516.4ZM146 490.3L145.4 489.5L145.3 489.6L144.7 488.9L144.9 488.7L144.3 487.9L144 488.2L143.5 487.4L143.6 487.3L143 486.6L142.9 486.7L142.3 485.9L142.4 485.8L141.8 485.1L142.8 484.4L142.2 483.6L141.4 484.2L140.8 483.5L141.2 483.2L140.7 482.4L140.2 482.8L139.6 482L140.4 481.4L139.9 480.7L139.6 480.8L139.1 480L139 480.1L138.5 479.3L138.6 479.2L138.1 478.4L138 478.5L137.4 477.7L137.7 477.5L137.2 476.7L137.1 476.8L136.6 476L136.3 476.2L135.8 475.4L135.5 475.6L135 474.8L135.5 474.5L134.9 473.7L135 473.6L134.5 472.8L134.4 472.9L133.9 472.1L133.7 472.3L133.2 471.5L133.6 471.2L133.1 470.4L133.2 470.3L132.7 469.5L132.8 469.4L132.4 468.6L132.5 468.5L132 467.7L131.8 467.9L131.3 467L131.5 466.9L131 466.1L130.1 466.7L129.6 465.8L129.6 465.8L129.1 465L129.9 464.6L129.4 463.7L129.5 463.7L129 462.9L126.4 464.4L125.9 463.6L128.4 462.2L127.9 461.3L128.1 461.2L127.7 460.4L127.2 460.6L126.8 459.8L126.6 459.9L126.2 459.1L126.3 459L125.9 458.2L126.1 458L125.7 457.2L125 457.5L124.9 457.2L127.9 455.6A243.7 243.7 0 0 0 148.8 488.1ZM124.3 457.5L123.9 456.7L124.1 456.5L123.7 455.7L123.4 455.8L123 455L123.3 454.8L122.9 454L122.1 454.4L121.6 453.5L121.6 453.6L121.2 452.7L121.5 452.5L121.1 451.7L121.3 451.6L120.8 450.7L120.8 450.8L120.3 449.9L120 450.1L119.6 449.2L119 449.5L118.6 448.7L119.3 448.3L118.9 447.4L118.7 447.6L118.2 446.7L118.3 446.7L117.9 445.8L117.9 445.8L117.5 444.9L117.1 445.1L116.7 444.3L117.1 444.1L116.7 443.2L116.5 443.3L116.1 442.5L116 442.5L115.6 441.6L115.7 441.6L115.3 440.7L116.1 440.4L115.7 439.5L115.5 439.6L115.2 438.7L114.7 438.9L114.4 438L114.6 437.9L114.2 437L114.2 437.1L113.8 436.2L113.9 436.1L113.5 435.3L113.6 435.2L113.2 434.3L113.5 434.2L113.2 433.3L109.1 435L108.8 434.1L112.1 432.7L111.8 431.9L112.1 431.7L111.7 430.8L111.4 431L111 430.1L111.3 430L111 429.1L110.5 429.3L110.1 428.4L111.3 428L110.9 427.1L110.1 427.4L109.8 426.5L109.5 426.6L109.2 425.7L109.6 425.5L109.2 424.6L109.4 424.6L109 423.7L108.9 423.8L108.6 422.9L107.2 423.3L106.9 422.4L108.1 422L107.8 421.1L108.3 420.9L108.1 420.3L112.1 418.9A243.7 243.7 0 0 0 127.9 455.6ZM107.8 420.4L107.5 419.5L107.4 419.5L107.1 418.6L103.9 419.7L103.6 418.7L107.2 417.6L106.9 416.7L107 416.6L106.7 415.7L106 415.9L105.7 415L105.5 415.1L105.2 414.2L105.8 414L105.5 413.1L105.5 413.1L105.2 412.2L105.4 412.1L105.1 411.2L105.7 411.1L105.4 410.2L105.1 410.3L104.8 409.3L104.4 409.5L104.1 408.5L104.5 408.4L104.2 407.5L104 407.6L103.7 406.7L103.6 406.7L103.3 405.8L103.2 405.8L102.9 404.9L103.2 404.9L102.9 403.9L102.6 404L102.4 403.1L102.3 403.1L102.1 402.2L99.7 402.8L99.5 401.9L101.9 401.2L101.7 400.3L102 400.2L101.8 399.3L101.8 399.3L101.6 398.4L101.8 398.3L101.6 397.4L101.6 397.4L101.4 396.5L101.1 396.5L100.9 395.6L101.1 395.6L100.9 394.6L100.5 394.7L100.3 393.8L100.3 393.8L100.1 392.8L100 392.9L99.8 391.9L99.4 392L99.2 391.1L95.2 391.9L95 391L99.7 390L99.5 389.1L95.1 390L94.9 389L99.1 388.2L99 387.3L103.5 386.5A243.7 243.7 0 0 0 112.1 418.9ZM99.7 387.2L99.5 386.3L99.9 386.2L99.7 385.3L99.5 385.3L99.3 384.4L99.4 384.3L99.2 383.4L98.8 383.5L98.7 382.5L99.2 382.4L99.1 381.5L98.8 381.6L98.6 380.6L99.3 380.5L99.1 379.6L99 379.6L98.8 378.7L99.3 378.6L99.1 377.7L98.2 377.8L98.1 376.9L98 376.9L97.9 375.9L98.3 375.9L98.2 374.9L97.5 375L97.3 374.1L97.7 374L97.5 373.1L98.4 373L98.3 372L97.5 372.2L97.3 371.2L97.4 371.2L97.3 370.3L97.5 370.2L97.4 369.3L95 369.6L94.9 368.6L97 368.4L96.9 367.4L97.6 367.4L97.5 366.4L97 366.5L96.9 365.5L97.1 365.5L97 364.6L97.1 364.6L97 363.6L96.5 363.7L96.4 362.7L97.1 362.7L97 361.7L97.4 361.7L97.3 360.7L96.2 360.8L96.1 359.9L96.1 359.9L96 358.9L96.1 358.9L96.1 358L96.5 357.9L96.4 357L96.4 357L96.3 356.1L96.4 356L96.4 355.1L95.7 355.1L95.7 354.2L95.5 354.2L95.4 353.2L96.5 353.2L96.5 353.1L99.5 352.9A243.7 243.7 0 0 0 103.5 386.5ZM95.9 353.1L95.9 352.1L95.7 352.2L95.7 351.2L95.8 351.2L95.8 350.2L96.1 350.2L96 349.3L95.9 349.3L95.9 348.3L96.8 348.3L96.7 347.4L96.4 347.4L96.4 346.4L95.9 346.4L95.9 345.5L95.9 345.5L95.9 344.6L96.8 344.5L96.7 343.6L96.5 343.6L96.5 342.6L95.7 342.7L95.7 341.7L95.4 341.7L95.4 340.8L93.1 340.8L93.1 339.8L96.1 339.8L96.1 339.3L99.2 339.3A243.7 243.7 0 0 0 99.5 352.9Z" fill="#f2f23a"/>
<path d="M342.9 65.9A274.90000000000003 274.90000000000003 0 0 1 457.8 91.1M457.8 91.1A274.90000000000003 274.90000000000003 0 0 1 539.6 148.8M539.6 148.8A274.90000000000003 274.90000000000003 0 0 1 570.3 186.3M570.3 186.3A274.90000000000003 274.90000000000003 0 0 1 599.7 242.7M599.7 242.7A274.90000000000003 274.90000000000003 0 0 1 617 319.7M617 319.7A274.90000000000003 274.90000000000003 0 0 1 611.4 399.8M611.4 399.8A274.90000000000003 274.90000000000003 0 0 1 592.8 455.2M592.8 455.2A274.90000000000003 274.90000000000003 0 0 1 558 511.9M558 511.9A274.90000000000003 274.90000000000003 0 0 1 514 555.9M514 555.9A274.90000000000003 274.90000000000003 0 0 1 461.7 588.7M461.7 588.7A274.90000000000003 274.90000000000003 0 0 1 414 606.3M414 606.3A274.90000000000003 274.90000000000003 0 0 1 364 614.9M364 614.9A274.90000000000003 274.90000000000003 0 0 1 311.3 613.9M311.3 613.9A274.90000000000003 274.90000000000003 0 0 1 266.2 604.8M266.2 604.8A274.90000000000003 274.90000000000003 0 0 1 225 589.1M225 589.1A274.90000000000003 274.90000000000003 0 0 1 186.6 566.9M186.6 566.9A274.90000000000003 274.90000000000003 0 0 1 152.3 538.9M152.3 538.9A274.90000000000003 274.90000000000003 0 0 1 123.9 507M123.9 507A274.90000000000003 274.90000000000003 0 0 1 100.4 470.3M100.4 470.3A274.90000000000003 274.90000000000003 0 0 1 82.5 428.9M82.5 428.9A274.90000000000003 274.90000000000003 0 0 1 72.9 392.3M72.9 392.3A274.90000000000003 274.90000000000003 0 0 1 68.3 354.5M68.3 354.5A274.90000000000003 274.90000000000003 0 0 1 68 339.1" stroke="#e0604a" stroke-width="0.5" fill="none"/>
<path d="M390.4 70.3L390.6 68.9M428.7 80L429.5 77.6M397.3 71.6L398.5 65.8M450.7 88.2L451.8 85.5M387.8 69.9L388.1 68.4M368.4 67.4L368.8 62.4M372 67.7L372.3 65.3M495.3 112.4L500.3 104.9M480.5 103.2L485.1 95.4M478.5 102L479.8 99.9M498.6 114.6L500.8 111.3M522.2 132.8L525.5 129M478.7 102.1L481.7 96.9M471.9 98.4L474.2 94M483 104.6L484 102.9M512 124.4L512.9 123.3M488.4 107.9L489.4 106.2M501 116.3L504.4 111.3M516.1 127.7L521.8 120.7M492.9 110.8L497.9 103.3M507.2 120.8L512.6 113.6M544.4 154.2L546.2 152.5M559 171.4L560.2 170.5M547.4 157.6L551.9 153.5M544.3 154.1L545.4 153.1M544.1 153.9L547.7 150.5M558.6 170.9L559.8 170M558.4 170.6L560.7 168.7M548.9 159.2L551.1 157.2M599.2 242.3L607.6 239.1M597.1 236.9L602.6 234.7M592.2 225.7L596.8 223.6M597.5 237.9L598.9 237.4M599.3 242.4L604.9 240.2M580.7 203.5L582.5 202.5M591.7 224.7L593.6 223.8M588.6 218.1L593.9 215.4M593.2 227.8L595 227M589.2 219.4L594.6 216.7M616 312.1L624.9 311.2M613.2 292.7L616.2 292.1M615.3 305.9L624.2 304.7M609.5 275.1L611 274.8M613.9 296.5L616.4 296.1M617.4 335.3L619.9 335.2M616.8 320.9L619.8 320.7M611.9 395.9L617.8 397.1M616.1 368.3L625.1 369.2M611.7 397L616.6 398M617.4 332.6L623.4 332.4M616.8 360.1L619.3 360.3M613.3 388.7L616.2 389.2M617.2 354.2L620.2 354.3M614.3 382.9L615.7 383.1M617.5 340.3L626.5 340.3M602.4 430.7L604.7 431.5M602.6 430L604 430.5M605.7 420.5L607.6 421.1M597.5 443.7L598.9 444.3M599.9 437.6L601.3 438.1M591.9 456.6L595.5 458.3M590.5 459.6L594.1 461.3M586.2 468.2L587.5 468.9M586.2 468.1L587.5 468.8M585.1 470.2L593 474.4M582.2 475.4L584.8 476.9M586.9 466.7L590.5 468.5M533.4 538.6L539.6 545.1M515.5 554.4L518.6 558.3M525.4 546L527 547.9M541.5 530.5L543.3 532.2M549.7 521.5L553.5 524.7M549.6 521.6L551.8 523.6M511.3 557.7L513.2 560.1M493.8 570.2L494.9 571.9M471.5 583.4L472.5 585.2M482.4 577.4L483.4 579.1M487.8 574.1L490.9 579.2M487.3 574.4L488.9 576.9M464.6 587L465.7 589.2M503.4 563.6L504.8 565.7M498 567.4L499.2 569M461.2 588.6L465.1 596.7M455.3 591.3L459 599.5M442.7 596.6L443.6 598.9M436.8 598.9L438.8 604.5M424 603.1L424.5 604.6M421.6 603.9L423.3 609.6M439.9 597.7L443.1 606.1M419.5 604.5L419.9 605.9M409.3 607.2L409.7 608.7M392.7 610.8L393.6 615.8M410.6 606.9L411.6 610.8M385.1 612.1L385.5 614.6M398.1 609.8L398.5 611.8M328.4 615L327.9 624M346.1 615.4L346.1 620.4M327.9 615L327.7 618M311.9 613.6L311.3 618.6M355.7 615.1L355.8 617.6M358.3 615L358.6 620M316.3 614.1L315.8 619.1M302.6 612.4L301.3 621.3M279.9 608.1L279.5 609.5M287.4 609.7L286.2 615.6M286.6 609.6L286.2 611M298.1 611.7L297.1 617.6M257.7 601.9L257 604.2M231.1 591.6L228.6 597.1M229.9 591.1L227.9 595.6M227.3 589.9L226 592.6M242.7 596.5L240.5 602.1M246.5 597.9L245.6 600.3M245 597.4L241.8 605.8M205.7 578.7L204.9 580M207 579.4L205.8 581.6M192.8 570.7L191.7 572.4M199.6 575L197.5 578.4M222.9 587.8L220.7 592.3M209.4 580.8L205 588.6M157.5 543.4L153.4 547.8M175.3 558.3L171.6 563.1M169 553.3L165.2 558M180.4 562.1L178 565.3M158.5 544.2L156.8 546.1M163.3 548.5L160.6 551.5M170.8 554.8L168.9 557.1M144.1 530.2L142.6 531.6M129.4 513.5L126.3 516M139.4 525.2L138.3 526.2M111.9 489.3L109.8 490.6M115.5 494.7L113.9 495.9M123.7 506.2L120.5 508.6M112 489.4L108.6 491.6M103.1 474.6L95.2 479M101.2 471.1L99.9 471.8M113.9 492.4L112.2 493.5M92.3 453L90.9 453.6M83.8 431.7L81 432.7M96.9 462.8L94.2 464.1M92.8 454.3L87.4 456.8M85.7 437.1L84.3 437.6M93.8 456.4L88.4 458.9M76.8 408.5L71 410M82.4 427.7L80.5 428.3M82.3 427.3L73.7 430.1M74.2 397.3L70.3 398.1M81.3 424.3L76.5 425.8M79.2 417.6L75.4 418.7M72.4 388L70.9 388.3M68.7 354.8L67.2 354.9M70.2 372.9L67.2 373.2M69.4 365.5L65.4 365.9M71.7 384.1L66.8 384.9" stroke="#f0643c" stroke-width="0.8" fill="none"/>
<path d="M342.9 72.7A268.1 268.1 0 0 1 454.9 97.2L454.1 99A266.2 266.2 0 0 0 342.9 74.6ZM454.9 97.2A268.1 268.1 0 0 1 534.8 153.6L533.4 154.9A266.2 266.2 0 0 0 454.1 99ZM534.8 153.6A268.1 268.1 0 0 1 564.6 190.1L563.1 191.2A266.2 266.2 0 0 0 533.4 154.9ZM564.6 190.1A268.1 268.1 0 0 1 593.4 245.2L591.6 245.8A266.2 266.2 0 0 0 563.1 191.2ZM593.4 245.2A268.1 268.1 0 0 1 610.2 320.2L608.3 320.4A266.2 266.2 0 0 0 591.6 245.8ZM610.2 320.2A268.1 268.1 0 0 1 604.7 398.4L602.9 398A266.2 266.2 0 0 0 608.3 320.4ZM604.7 398.4A268.1 268.1 0 0 1 586.7 452.4L584.9 451.6A266.2 266.2 0 0 0 602.9 398ZM586.7 452.4A268.1 268.1 0 0 1 552.7 507.7L551.2 506.5A266.2 266.2 0 0 0 584.9 451.6ZM552.7 507.7A268.1 268.1 0 0 1 509.8 550.6L508.6 549.1A266.2 266.2 0 0 0 551.2 506.5ZM509.8 550.6A268.1 268.1 0 0 1 458.7 582.6L457.9 580.9A266.2 266.2 0 0 0 508.6 549.1ZM458.7 582.6A268.1 268.1 0 0 1 412.3 599.8L411.8 597.9A266.2 266.2 0 0 0 457.9 580.9ZM412.3 599.8A268.1 268.1 0 0 1 363.5 608.1L363.3 606.2A266.2 266.2 0 0 0 411.8 597.9ZM363.5 608.1A268.1 268.1 0 0 1 312.1 607.1L312.3 605.2A266.2 266.2 0 0 0 363.3 606.2ZM312.1 607.1A268.1 268.1 0 0 1 268.1 598.3L268.6 596.4A266.2 266.2 0 0 0 312.3 605.2ZM268.1 598.3A268.1 268.1 0 0 1 227.9 583L228.7 581.3A266.2 266.2 0 0 0 268.6 596.4ZM227.9 583A268.1 268.1 0 0 1 190.5 561.3L191.5 559.8A266.2 266.2 0 0 0 228.7 581.3ZM190.5 561.3A268.1 268.1 0 0 1 157 534L158.3 532.6A266.2 266.2 0 0 0 191.5 559.8ZM157 534A268.1 268.1 0 0 1 129.4 502.9L130.9 501.7A266.2 266.2 0 0 0 158.3 532.6ZM129.4 502.9A268.1 268.1 0 0 1 106.4 467.1L108.1 466.2A266.2 266.2 0 0 0 130.9 501.7ZM106.4 467.1A268.1 268.1 0 0 1 89 426.8L90.8 426.1A266.2 266.2 0 0 0 108.1 466.2ZM89 426.8A268.1 268.1 0 0 1 79.5 391L81.4 390.7A266.2 266.2 0 0 0 90.8 426.1ZM79.5 391A268.1 268.1 0 0 1 75.1 354.1L77 354A266.2 266.2 0 0 0 81.4 390.7ZM75.1 354.1A268.1 268.1 0 0 1 74.8 339.2L76.7 339.2A266.2 266.2 0 0 0 77 354Z" fill="#88da88"/>
<path d="M388.8 77.6L389.3 74.3M428.8 87.8L429.8 85M398.9 79.5L399.7 76.2M363.8 74.4L364 71.5M404.6 80.8L405.2 78.1M348.3 73.7L348.4 71.3M449.2 95.6L450.5 92.6M482.2 112.8L483.9 109.8M460 100.6L460.9 98.9M457 99.2L458.3 96.4M547.9 169.5L549.2 168.3M550.5 172.6L551.8 171.5M559.2 183.9L562.3 181.6M565.5 193L568.3 191.1M584.9 227.4L587.8 226.1M573.8 206.4L576 205.2M609.1 317.9L612.9 317.6M600.5 269.7L603.4 268.9M603.8 283.1L607.5 282.3M601.4 273.4L605.1 272.4M602.7 278.6L606.2 277.7M596.9 257.7L600.9 256.4M606.6 297.4L608.5 297.1M594.7 251.4L597.9 250.3M610.1 343.3L614.3 343.3M610.1 338.7L612.1 338.7M610.1 343L613 343M609.7 356.1L612.6 356.2M592.5 436.2L595.1 437.2M598.3 419.3L600.8 420.1M578.1 467.7L579.6 468.5M577.6 468.4L580.6 470.1M544.6 516.1L546.9 518.1M528.5 533.1L531 535.7M510.3 549.1L511.3 550.3M540 521.2L542.8 523.8M538.7 522.6L540.1 524M461.3 580.3L462.4 582.6M493.9 561.2L494.9 562.6M437.5 590.7L438.8 594M454 583.8L455 585.8M438 590.5L439.1 593.5M398.3 602.2L399.3 606.5M377 605.8L377.5 609.2M387.9 604.2L388.2 606.2M395.7 602.7L396.1 605.1M361 607.4L361.1 609.3M322.4 607.2L322.3 609.3M293.5 603.4L292.9 606.4M295.3 603.7L294.9 605.6M290.4 602.8L290 604.8M246.1 589.9L245.5 591.5M192.1 561.4L189.6 565M220.3 578.2L218.5 581.8M169.7 544.3L167.9 546.4M159 534.6L156.7 537M153.6 529.3L152.4 530.5M108.6 469.2L104.8 471.3M117.3 483.9L115.3 485.2M128.5 500.2L126.6 501.6M96.5 444.2L92.4 445.9M82.1 399.1L78 400M85.7 413.3L82.5 414.2M86.8 416.9L84.3 417.6M78.1 376.5L75.7 376.8M78.2 377.2L74.7 377.7M77.1 367.9L74.5 368.1M75.8 347.8L73.1 347.9" stroke="#f07840" stroke-width="0.9" fill="none"/>
<path d="M342.9 45.3A295.5 295.5 0 0 1 466.4 72.3L462.5 80.8A286.2 286.2 0 0 0 342.9 54.6ZM466.4 72.3A295.5 295.5 0 0 1 554.4 134.4L547.7 140.9A286.2 286.2 0 0 0 462.5 80.8ZM554.4 134.4A295.5 295.5 0 0 1 587.3 174.7L579.6 179.9A286.2 286.2 0 0 0 547.7 140.9ZM587.3 174.7A295.5 295.5 0 0 1 619 235.4L610.3 238.7A286.2 286.2 0 0 0 579.6 179.9ZM619 235.4A295.5 295.5 0 0 1 637.5 318.1L628.3 318.8A286.2 286.2 0 0 0 610.3 238.7ZM637.5 318.1A295.5 295.5 0 0 1 631.5 404.3L622.4 402.3A286.2 286.2 0 0 0 628.3 318.8ZM631.5 404.3A295.5 295.5 0 0 1 611.6 463.8L603.1 459.9A286.2 286.2 0 0 0 622.4 402.3ZM611.6 463.8A295.5 295.5 0 0 1 574.2 524.8L566.9 519A286.2 286.2 0 0 0 603.1 459.9ZM574.2 524.8A295.5 295.5 0 0 1 526.9 572.1L521.1 564.8A286.2 286.2 0 0 0 566.9 519ZM526.9 572.1A295.5 295.5 0 0 1 470.6 607.3L466.6 598.9A286.2 286.2 0 0 0 521.1 564.8ZM470.6 607.3A295.5 295.5 0 0 1 419.4 626.2L417 617.2A286.2 286.2 0 0 0 466.6 598.9ZM419.4 626.2A295.5 295.5 0 0 1 365.6 635.4L364.9 626.2A286.2 286.2 0 0 0 417 617.2ZM365.6 635.4A295.5 295.5 0 0 1 308.9 634.3L310 625.1A286.2 286.2 0 0 0 364.9 626.2ZM308.9 634.3A295.5 295.5 0 0 1 260.5 624.6L263.1 615.6A286.2 286.2 0 0 0 310 625.1ZM260.5 624.6A295.5 295.5 0 0 1 216.1 607.7L220.1 599.3A286.2 286.2 0 0 0 263.1 615.6ZM216.1 607.7A295.5 295.5 0 0 1 174.9 583.9L180.2 576.2A286.2 286.2 0 0 0 220.1 599.3ZM174.9 583.9A295.5 295.5 0 0 1 138 553.7L144.4 547A286.2 286.2 0 0 0 180.2 576.2ZM138 553.7A295.5 295.5 0 0 1 107.5 519.5L114.9 513.8A286.2 286.2 0 0 0 144.4 547ZM107.5 519.5A295.5 295.5 0 0 1 82.2 480L90.4 475.6A286.2 286.2 0 0 0 114.9 513.8ZM82.2 480A295.5 295.5 0 0 1 63 435.5L71.8 432.6A286.2 286.2 0 0 0 90.4 475.6ZM63 435.5A295.5 295.5 0 0 1 52.6 396.2L61.8 394.4A286.2 286.2 0 0 0 71.8 432.6ZM52.6 396.2A295.5 295.5 0 0 1 47.8 355.5L57.1 355A286.2 286.2 0 0 0 61.8 394.4ZM47.8 355.5A295.5 295.5 0 0 1 47.4 339L56.7 339.1A286.2 286.2 0 0 0 57.1 355Z" fill="url(#dotsA)"/>
<path d="M342.9 39A301.8 301.8 0 0 1 469 66.6L466.4 72.3A295.5 295.5 0 0 0 342.9 45.3ZM469 66.6A301.8 301.8 0 0 1 558.9 130L554.4 134.4A295.5 295.5 0 0 0 466.4 72.3ZM558.9 130A301.8 301.8 0 0 1 592.5 171.2L587.3 174.7A295.5 295.5 0 0 0 554.4 134.4ZM592.5 171.2A301.8 301.8 0 0 1 624.8 233.1L619 235.4A295.5 295.5 0 0 0 587.3 174.7ZM624.8 233.1A301.8 301.8 0 0 1 643.8 317.6L637.5 318.1A295.5 295.5 0 0 0 619 235.4ZM643.8 317.6A301.8 301.8 0 0 1 637.7 405.6L631.5 404.3A295.5 295.5 0 0 0 637.5 318.1ZM637.7 405.6A301.8 301.8 0 0 1 617.3 466.4L611.6 463.8A295.5 295.5 0 0 0 631.5 404.3ZM617.3 466.4A301.8 301.8 0 0 1 579.1 528.7L574.2 524.8A295.5 295.5 0 0 0 611.6 463.8ZM579.1 528.7A301.8 301.8 0 0 1 530.8 577L526.9 572.1A295.5 295.5 0 0 0 574.2 524.8ZM530.8 577A301.8 301.8 0 0 1 473.3 613L470.6 607.3A295.5 295.5 0 0 0 526.9 572.1ZM473.3 613A301.8 301.8 0 0 1 421 632.3L419.4 626.2A295.5 295.5 0 0 0 470.6 607.3ZM421 632.3A301.8 301.8 0 0 1 366.1 641.7L365.6 635.4A295.5 295.5 0 0 0 419.4 626.2ZM366.1 641.7A301.8 301.8 0 0 1 308.2 640.6L308.9 634.3A295.5 295.5 0 0 0 365.6 635.4ZM308.2 640.6A301.8 301.8 0 0 1 258.7 630.6L260.5 624.6A295.5 295.5 0 0 0 308.9 634.3ZM258.7 630.6A301.8 301.8 0 0 1 213.4 613.4L216.1 607.7A295.5 295.5 0 0 0 260.5 624.6ZM213.4 613.4A301.8 301.8 0 0 1 171.3 589.1L174.9 583.9A295.5 295.5 0 0 0 216.1 607.7ZM171.3 589.1A301.8 301.8 0 0 1 133.6 558.3L138 553.7A295.5 295.5 0 0 0 174.9 583.9ZM133.6 558.3A301.8 301.8 0 0 1 102.5 523.3L107.5 519.5A295.5 295.5 0 0 0 138 553.7ZM102.5 523.3A301.8 301.8 0 0 1 76.7 483L82.2 480A295.5 295.5 0 0 0 107.5 519.5ZM76.7 483A301.8 301.8 0 0 1 57 437.6L63 435.5A295.5 295.5 0 0 0 82.2 480ZM57 437.6A301.8 301.8 0 0 1 46.4 397.4L52.6 396.2A295.5 295.5 0 0 0 63 435.5ZM46.4 397.4A301.8 301.8 0 0 1 41.5 355.8L47.8 355.5A295.5 295.5 0 0 0 52.6 396.2ZM41.5 355.8A301.8 301.8 0 0 1 41.1 339L47.4 339A295.5 295.5 0 0 0 47.8 355.5Z" fill="url(#dotsB)"/>
<path d="M342.9 51.3A289.5 289.5 0 0 1 463.9 77.8M463.9 77.8A289.5 289.5 0 0 1 550.1 138.6M550.1 138.6A289.5 289.5 0 0 1 582.3 178.1M582.3 178.1A289.5 289.5 0 0 1 613.4 237.5M613.4 237.5A289.5 289.5 0 0 1 631.5 318.6M631.5 318.6A289.5 289.5 0 0 1 625.6 403M625.6 403A289.5 289.5 0 0 1 606.1 461.3M606.1 461.3A289.5 289.5 0 0 1 569.5 521M569.5 521A289.5 289.5 0 0 1 523.1 567.4M523.1 567.4A289.5 289.5 0 0 1 468 601.9M468 601.9A289.5 289.5 0 0 1 417.8 620.4M417.8 620.4A289.5 289.5 0 0 1 365.1 629.4M365.1 629.4A289.5 289.5 0 0 1 309.6 628.4M309.6 628.4A289.5 289.5 0 0 1 262.1 618.8M262.1 618.8A289.5 289.5 0 0 1 218.7 602.3M218.7 602.3A289.5 289.5 0 0 1 178.3 579M178.3 579A289.5 289.5 0 0 1 142.2 549.4M142.2 549.4A289.5 289.5 0 0 1 112.3 515.8M112.3 515.8A289.5 289.5 0 0 1 87.5 477.2M87.5 477.2A289.5 289.5 0 0 1 68.7 433.6M68.7 433.6A289.5 289.5 0 0 1 58.5 395M58.5 395A289.5 289.5 0 0 1 53.8 355.2M53.8 355.2A289.5 289.5 0 0 1 53.4 339M342.9 47.8A293.0 293.0 0 0 1 465.3 74.6M465.3 74.6A293.0 293.0 0 0 1 552.6 136.2M552.6 136.2A293.0 293.0 0 0 1 585.2 176.1M585.2 176.1A293.0 293.0 0 0 1 616.6 236.3M616.6 236.3A293.0 293.0 0 0 1 635 318.3M635 318.3A293.0 293.0 0 0 1 629.1 403.7M629.1 403.7A293.0 293.0 0 0 1 609.3 462.8M609.3 462.8A293.0 293.0 0 0 1 572.2 523.2M572.2 523.2A293.0 293.0 0 0 1 525.3 570.1M525.3 570.1A293.0 293.0 0 0 1 469.5 605M469.5 605A293.0 293.0 0 0 1 418.7 623.8M418.7 623.8A293.0 293.0 0 0 1 365.4 632.9M365.4 632.9A293.0 293.0 0 0 1 309.2 631.9M309.2 631.9A293.0 293.0 0 0 1 261.2 622.2M261.2 622.2A293.0 293.0 0 0 1 217.2 605.5M217.2 605.5A293.0 293.0 0 0 1 176.3 581.8M176.3 581.8A293.0 293.0 0 0 1 139.7 551.9M139.7 551.9A293.0 293.0 0 0 1 109.5 517.9M109.5 517.9A293.0 293.0 0 0 1 84.4 478.8M84.4 478.8A293.0 293.0 0 0 1 65.4 434.7M65.4 434.7A293.0 293.0 0 0 1 55.1 395.7M55.1 395.7A293.0 293.0 0 0 1 50.3 355.4M50.3 355.4A293.0 293.0 0 0 1 49.9 339M342.9 44.3A296.5 296.5 0 0 1 466.8 71.4M466.8 71.4A296.5 296.5 0 0 1 555.1 133.7M555.1 133.7A296.5 296.5 0 0 1 588.1 174.1M588.1 174.1A296.5 296.5 0 0 1 619.9 235M619.9 235A296.5 296.5 0 0 1 638.5 318.1M638.5 318.1A296.5 296.5 0 0 1 632.5 404.5M632.5 404.5A296.5 296.5 0 0 1 612.5 464.2M612.5 464.2A296.5 296.5 0 0 1 574.9 525.4M574.9 525.4A296.5 296.5 0 0 1 527.5 572.8M527.5 572.8A296.5 296.5 0 0 1 471 608.2M471 608.2A296.5 296.5 0 0 1 419.6 627.2M419.6 627.2A296.5 296.5 0 0 1 365.6 636.4M365.6 636.4A296.5 296.5 0 0 1 308.8 635.3M308.8 635.3A296.5 296.5 0 0 1 260.2 625.5M260.2 625.5A296.5 296.5 0 0 1 215.7 608.6M215.7 608.6A296.5 296.5 0 0 1 174.3 584.7M174.3 584.7A296.5 296.5 0 0 1 137.3 554.4M137.3 554.4A296.5 296.5 0 0 1 106.7 520.1M106.7 520.1A296.5 296.5 0 0 1 81.3 480.5M81.3 480.5A296.5 296.5 0 0 1 62.1 435.9M62.1 435.9A296.5 296.5 0 0 1 51.7 396.4M51.7 396.4A296.5 296.5 0 0 1 46.8 355.5M46.8 355.5A296.5 296.5 0 0 1 46.4 339M342.9 40.8A300.0 300.0 0 0 1 468.3 68.2M468.3 68.2A300.0 300.0 0 0 1 557.6 131.3M557.6 131.3A300.0 300.0 0 0 1 591 172.2M591 172.2A300.0 300.0 0 0 1 623.2 233.8M623.2 233.8A300.0 300.0 0 0 1 642 317.8M642 317.8A300.0 300.0 0 0 1 635.9 405.2M635.9 405.2A300.0 300.0 0 0 1 615.7 465.7M615.7 465.7A300.0 300.0 0 0 1 577.7 527.6M577.7 527.6A300.0 300.0 0 0 1 529.7 575.6M529.7 575.6A300.0 300.0 0 0 1 472.5 611.3M472.5 611.3A300.0 300.0 0 0 1 420.5 630.6M420.5 630.6A300.0 300.0 0 0 1 365.9 639.9M365.9 639.9A300.0 300.0 0 0 1 308.4 638.8M308.4 638.8A300.0 300.0 0 0 1 259.2 628.9M259.2 628.9A300.0 300.0 0 0 1 214.2 611.8M214.2 611.8A300.0 300.0 0 0 1 172.3 587.6M172.3 587.6A300.0 300.0 0 0 1 134.9 557M134.9 557A300.0 300.0 0 0 1 103.9 522.2M103.9 522.2A300.0 300.0 0 0 1 78.3 482.1M78.3 482.1A300.0 300.0 0 0 1 58.7 437M58.7 437A300.0 300.0 0 0 1 48.2 397M48.2 397A300.0 300.0 0 0 1 43.3 355.7M43.3 355.7A300.0 300.0 0 0 1 42.9 339M342.9 61.2A279.6 279.6 0 0 1 459.7 86.8M459.7 86.8A279.6 279.6 0 0 1 543 145.5M543 145.5A279.6 279.6 0 0 1 574.2 183.6M574.2 183.6A279.6 279.6 0 0 1 604.1 241.1M604.1 241.1A279.6 279.6 0 0 1 621.7 319.3M621.7 319.3A279.6 279.6 0 0 1 616 400.8M616 400.8A279.6 279.6 0 0 1 597.1 457.2M597.1 457.2A279.6 279.6 0 0 1 561.7 514.9M561.7 514.9A279.6 279.6 0 0 1 517 559.6M517 559.6A279.6 279.6 0 0 1 463.7 593M463.7 593A279.6 279.6 0 0 1 415.3 610.9M415.3 610.9A279.6 279.6 0 0 1 364.4 619.6M364.4 619.6A279.6 279.6 0 0 1 310.8 618.5M310.8 618.5A279.6 279.6 0 0 1 264.9 609.3M264.9 609.3A279.6 279.6 0 0 1 223 593.4M223 593.4A279.6 279.6 0 0 1 183.9 570.8M183.9 570.8A279.6 279.6 0 0 1 149 542.3M149 542.3A279.6 279.6 0 0 1 120.2 509.8M120.2 509.8A279.6 279.6 0 0 1 96.3 472.5M96.3 472.5A279.6 279.6 0 0 1 78.1 430.4M78.1 430.4A279.6 279.6 0 0 1 68.3 393.2M68.3 393.2A279.6 279.6 0 0 1 63.6 354.7M63.6 354.7A279.6 279.6 0 0 1 63.3 339.1M342.9 76.3A264.5 264.5 0 0 1 453.4 100.5M453.4 100.5A264.5 264.5 0 0 1 532.2 156.1M532.2 156.1A264.5 264.5 0 0 1 561.7 192.1M561.7 192.1A264.5 264.5 0 0 1 590 246.4M590 246.4A264.5 264.5 0 0 1 606.6 320.5M606.6 320.5A264.5 264.5 0 0 1 601.2 397.6M601.2 397.6A264.5 264.5 0 0 1 583.4 450.9M583.4 450.9A264.5 264.5 0 0 1 549.9 505.5M549.9 505.5A264.5 264.5 0 0 1 507.6 547.8M507.6 547.8A264.5 264.5 0 0 1 457.2 579.3M457.2 579.3A264.5 264.5 0 0 1 411.4 596.3M411.4 596.3A264.5 264.5 0 0 1 363.2 604.5M363.2 604.5A264.5 264.5 0 0 1 312.5 603.5M312.5 603.5A264.5 264.5 0 0 1 269.1 594.8M269.1 594.8A264.5 264.5 0 0 1 229.4 579.7M229.4 579.7A264.5 264.5 0 0 1 192.5 558.4M192.5 558.4A264.5 264.5 0 0 1 159.5 531.4M159.5 531.4A264.5 264.5 0 0 1 132.2 500.7M132.2 500.7A264.5 264.5 0 0 1 109.6 465.4M109.6 465.4A264.5 264.5 0 0 1 92.4 425.6M92.4 425.6A264.5 264.5 0 0 1 83.1 390.4M83.1 390.4A264.5 264.5 0 0 1 78.7 354M78.7 354A264.5 264.5 0 0 1 78.4 339.2M342.9 70.6A270.2 270.2 0 0 1 455.8 95.3M455.8 95.3A270.2 270.2 0 0 1 536.3 152.1M536.3 152.1A270.2 270.2 0 0 1 566.4 188.9M566.4 188.9A270.2 270.2 0 0 1 595.3 244.4M595.3 244.4A270.2 270.2 0 0 1 612.3 320.1M612.3 320.1A270.2 270.2 0 0 1 606.8 398.8M606.8 398.8A270.2 270.2 0 0 1 588.6 453.3M588.6 453.3A270.2 270.2 0 0 1 554.4 509M554.4 509A270.2 270.2 0 0 1 511.1 552.3M511.1 552.3A270.2 270.2 0 0 1 459.6 584.5M459.6 584.5A270.2 270.2 0 0 1 412.8 601.8M412.8 601.8A270.2 270.2 0 0 1 363.6 610.2M363.6 610.2A270.2 270.2 0 0 1 311.8 609.2M311.8 609.2A270.2 270.2 0 0 1 267.5 600.3M267.5 600.3A270.2 270.2 0 0 1 227 584.9M227 584.9A270.2 270.2 0 0 1 189.3 563.1M189.3 563.1A270.2 270.2 0 0 1 155.5 535.5M155.5 535.5A270.2 270.2 0 0 1 127.7 504.2M127.7 504.2A270.2 270.2 0 0 1 104.5 468.1M104.5 468.1A270.2 270.2 0 0 1 87 427.4M87 427.4A270.2 270.2 0 0 1 77.5 391.4M77.5 391.4A270.2 270.2 0 0 1 73 354.2M73 354.2A270.2 270.2 0 0 1 72.7 339.1" stroke="#3a3a3a" stroke-width="0.5" fill="none"/>
<path d="M437.7 54.5h1.2M416 47.9h1.2M371 41.6h1.2M350.4 38.8h1.2M441.7 56.9h1.2M374.2 40h1.2M358.5 38.4h1.2M449.5 58.9h1.2M451.4 59.8h1.2M376.3 40.1h1.2M495.8 82.2h1.2M524 100h1.2M472.8 69.5h1.2M527.9 103.9h1.2M572.7 144.6h1.2M561.4 134.7h1.2M570.7 141.4h1.2M607.9 195.9h1.2M605.6 191h1.2M614.2 208.1h1.2M605.3 192.7h1.2M622.9 225.9h1.2M641.5 307.5h1.2M642.5 301.1h1.2M631.5 257.2h1.2M642.3 308.7h1.2M642.9 310.1h1.2M644.1 313.8h1.2M640.9 385.6h1.2M643.4 347.4h1.2M644.9 347.5h1.2M616.8 466.1h1.2M633.6 418.7h1.2M635.2 419.5h1.2M609.2 480.5h1.2M582.4 522.3h1.2M597.2 503.7h1.2M557.9 551h1.2M564 545.4h1.2M572.6 536.4h1.2M577.8 528.5h1.2M530.8 576.9h1.2M563.4 547.8h1.2M561.9 549h1.2M498.9 597.8h1.2M491.2 603.4h1.2M484.6 608.2h1.2M481 608.7h1.2M511.8 591h1.2M446.6 624.9h1.2M431.6 627.8h1.2M416.7 631.9h1.2M366.1 640.2h1.2M404.6 635.7h1.2M366.7 641h1.2M327 643.2h1.2M328.7 640.8h1.2M325.5 642.1h1.2M338.2 641.6h1.2M273.6 634.5h1.2M293.8 637.5h1.2M288.1 637.3h1.2M284.5 635.6h1.2M216.3 613.7h1.2M237.3 624.1h1.2M244.6 626.3h1.2M203.3 609.1h1.2M198.9 604.6h1.2M176.6 592.4h1.2M210.5 612.4h1.2M133.8 558.4h1.2M138.3 561.5h1.2M123.7 548.8h1.2M110.1 531.8h1.2M125.2 549.4h1.2M91.3 507.2h1.2M78.5 487.4h1.2M74.9 479.3h1.2M69.7 470h1.2M66.5 460.4h1.2M77.4 482.5h1.2M47.3 401.4h1.2M48.6 406.2h1.2M44.2 382.8h1.2M46.7 392.7h1.2" stroke="#f06040" stroke-width="1.2" fill="none"/>
<path d="M364.7 278.9L423.4 112.6M349.4 268.9L364.8 99.8M448.9 255.6L499.4 215.1M415.1 295.6L548.1 212.5M400.7 329.2L580.2 293.3M392.1 331.7L580.9 296.8M518 311.3L581.5 300.6M460.2 328.4L472.3 327.1M400.8 344.2L584.5 355M415.8 367L570.7 422.5M423.4 366.9L459.7 378.7M388.4 367.2L552.2 462.3M396.5 404.7L498.4 526.2M389.8 381.5L525.6 499.5M385.7 383.4L514.4 511.5M368.7 388.8L457.4 554M464.6 505.1L487 535.2M369.6 383.9L470.2 546.6M389.5 455L434.3 564.9M368.8 465.1L392.3 577.7M357.8 406.4L396.6 576.8M280.4 392.9L156.9 495.7M232.4 437.7L216.3 451.8M251.6 349.5L234.8 351.1" stroke="#e8d440" stroke-width="0.5" stroke-dasharray="1 3.2" fill="none"/>
<path d="M363.6 172.5L371.2 110.4M394.5 276L405.6 262.1M383.4 279.3L476.1 138.8M404.8 267.5L499.1 156M378.2 291.3L388.2 277.2M410.4 266.6L505.7 161.7M402 295.1L534.5 192.9M380.8 316.9L547.7 211.9M501.8 245.5L537.2 224.2M447.4 315.9L578.3 284.7M446.7 350L493.1 354M405.8 360.6L445.3 373M377.6 394.6L474 544.2M371.8 389.2L466.9 548.6M358.6 449.7L377.4 580.3M340.4 458.5L337.8 582.7M341.9 385.5L340.4 450.4M273.9 443.2L207.6 541.4M203.5 470L165.4 505.3M295.1 382.1L159.8 499M296.1 363.3L241.1 389.8M307.6 356.6L122.1 439.9M174.1 366.5L148.9 370.3" stroke="#231818" stroke-width="0.5" stroke-dasharray="1.5 2.2" fill="none"/>
<path d="M365.1 280.5L426.7 113.8M390.1 299.5L524.9 181.3M413.8 322.1L576.9 279M387.5 350.1L435.7 360.2M391.3 351.7L579 394.1M365.1 372.6L481.4 539.3M303.6 449L260.3 568.3M231.2 475.1L213.3 496.7M169.9 386.2L134.9 395.4" stroke="#a08a9a" stroke-width="0.5" stroke-dasharray="6 4 1 3" fill="none"/>
<path d="M348.5 259.8L359.5 99.4M350.3 302.9L389 103.2M355.9 162.6L357.5 140.7M369.9 292.4L460.8 129.4M379.7 280.7L469.4 134.5M454.2 254.3L514.7 207.3M480.8 265.7L549.9 228M518.7 287L565.9 272.6M446.7 305L571.7 261.9M450.3 316L578.7 286.4M418.2 340.8L584.9 341M390.4 348.9L581.5 381.4M447.2 370.7L575.6 407.4M406.8 368.8L564.5 438M417.5 375.6L477.1 403.3M446.1 434L493.6 476.9M360.1 386.1L428.6 567.1M377.7 430.4L430.5 566.4M352.9 432.6L369.1 581.4M311.8 377.1L185.5 524.6M258.4 400.1L144.9 479.9M303.6 352.1L110.3 407.6M297.4 350.6L106.3 391.7M273 341.3L199.2 341.9" stroke="#e8d440" stroke-width="0.5" stroke-dasharray="6 4 1 3" fill="none"/>
<path d="M380.4 232.7L422.2 112.2M361.6 248.1L371.8 197.7M353 297.8L398.5 105.3M358 246.4L381.2 101.8M372.8 293.5L472.3 136.3M370.2 310.6L505.4 161.4M379.5 273.5L458.4 128.1M420.9 314.4L469 298.2M463.1 357.8L582.5 374.8M412.7 354.2L425.3 356.6M424.9 348.8L583.8 364.3M462.3 389.6L566.9 432.3M433.6 405L540.4 480.7M389.7 365.3L557.4 452.9M362 378.2L453 556.3M361.8 393L368.4 411.2M328.2 433.8L305.1 579.8M315.6 383.9L213.4 545.2M280.2 396.3L161.7 501.2M250.7 391L130.4 456.6M266.1 354.2L104.5 382.4" stroke="#e8d440" stroke-width="0.5" stroke-dasharray="2.5 2.8" fill="none"/>
<path d="M369.9 230.8L400.6 105.8M378.3 188.9L387.8 148.2M455.8 153.3L467.7 133.5M367.5 310.7L496 153.4M435 253.7L518.7 174.4M434.6 301.3L565.2 245M414.6 309.1L564.2 242.9M386.1 341.5L584.9 344.9M428.2 421.7L518.5 507.3M441.7 499.4L470.9 546.2M365.8 420.4L409.9 573.3M379 450.9L400.5 516.8M357 509.1L359.7 540.8M341.3 458.1L339.6 582.8M347.7 458.7L352.7 582.6M325.6 473.6L321.1 508.7M316.2 450.7L285.7 575.9M296.9 432.7L234.6 557.2M275.4 436L234.3 494M291.5 398.9L182.6 522.1M285.9 414.3L194.5 532M217.1 418.9L203.7 427.2M294 355.9L111.7 412.4M272 360.4L255.1 365.1M240.2 344.5L101.1 349.5" stroke="#e8d440" stroke-width="0.5" stroke-dasharray="4 2.5 1 3" fill="none"/>
<path d="M350.4 248.3L354.5 197M367.1 304.2L476.4 139M467.7 313.8L579.4 289.5M542 315.2L582.9 310M424.4 320.4L492.3 303.5M461.6 318.8L580.9 296.7M465.3 328.8L539.8 321.4M386.9 356.5L570.9 422M511.1 438.6L552.1 462.5M386.4 368.1L548 469.3M397.7 431.3L468.2 547.8M363.8 386.1L382.2 426.1M388.5 442.5L441.8 561.7M374.2 547.9L376.8 565M361.3 415L401.1 575.7M336.6 420.8L323.9 582.1M344.1 396.5L348 582.7M336.4 446.5L328.2 582.4M339.5 494L337.9 570.8M317.3 390.9L232.9 556.4M311.8 359.4L135.2 464.9M263.8 371.7L230.1 384.9M264.3 374.4L120.4 435.9M167.1 429.4L143.3 441.4M279.8 347.1L253.4 349.8" stroke="#231818" stroke-width="0.5" stroke-dasharray="4 2.5 1 3" fill="none"/>
<path d="M362.4 293.7L435.5 117.2M438.9 305.9L570.3 258.1M411.2 340.8L584.9 341M528.4 396.5L559.9 405.9M377.1 363.5L544.4 474.8M333.8 411.5L326.7 467.2" stroke="#a08a9a" stroke-width="0.5" stroke-dasharray="1.5 2.2" fill="none"/>
<path d="M388.1 225.5L431.2 115.5M351.8 246.4L365.7 99.9M375.9 289.8L474.2 137.5M468 195.5L496.1 162.8M394.4 261.5L414 231.4M396.6 243L459.4 128.7M447.5 292.5L562.6 239.4M450.3 331.9L584.1 320.8M383 327.7L572.9 265.6M465 354.7L583.4 368.1M409 347.6L468.3 353.8M446.4 414.6L539.9 481.3M516.7 433.8L556.3 454.9M398.1 369L558.3 451.1M401.5 372.8L555.3 456.8M399.9 396.4L445 440.4M447.4 467.4L463.6 486.9M427.8 490.2L451.9 532.7M383 412L461.6 551.7M362.4 441L389.1 578.4M348.5 378.8L351.1 396.6M384.7 552.5L389.8 578.2M344.4 418.4L347.5 582.8M333.1 406.5L307.3 580.2M291.1 441.3L232 555.9M258.7 476.2L242.7 501.9M300.3 393.5L264.4 438M235.6 476.7L206.5 513.5M280.7 396.3L162.4 502M277 384.5L141.2 474.6M261.8 395.5L142.3 476.1M226.1 412.5L162.6 451.5M162.5 365.3L128.5 369.9M285.2 345.3L101.6 359.8" stroke="#231818" stroke-width="0.5" stroke-dasharray="0.8 1.5" fill="none"/>
<path d="M352.9 298.4L398.7 105.3M347.7 213.6L352 99M423 240.9L455.8 200M435.9 302L566.2 247.6M459.3 334.8L584.6 328.4M434.7 356.2L581.6 380.9M371.8 466.4L397.2 576.6M371.7 462.5L398.6 576.3M322.3 459.2L301.3 579.2M285.2 366.7L122.1 439.9" stroke="#a08a9a" stroke-width="0.5" stroke-dasharray="1 3.2" fill="none"/>
<path d="M356.5 298.2L416.6 110.3M431.3 238.1L476.7 185.3M484.2 242.7L502.8 229.8M444.6 263.2L535.3 193.9M380.3 313.8L539.1 199.1M486.8 230.7L496.3 223.5M406 313.9L565.5 245.8M480.7 291.2L545.3 268.1M419.7 316.6L463.7 302.7M429.6 333.1L583.9 319.3M459 337.8L584.8 334.6M470.5 353.4L522.1 358.5M406.3 351.3L581.7 380.2M390.4 339.6L442 338.3M446.7 343.6L584.8 347.3M408.7 364.2L570.9 422M398.3 360.5L570.9 421.8M398.2 378.3L543.1 476.7M377.1 382.4L496.5 527.8M395.7 389.6L437.5 428.2M365.2 372.9L480.9 539.6M402 461.3L417.3 492.6M376.3 437.3L382 453.6M356.4 400.9L395.8 576.9M347.3 384.7L366.9 581.6M350.3 462.4L357.6 582.4M343.6 454.3L344.4 582.8M347.8 463.6L352.5 582.6M327.6 377L248.7 563.7M308.5 420.4L246.8 562.9M279.3 514.7L266.2 550.4M323.3 397.3L263.7 569.5M263.8 494.2L232 555.9M270.5 429L248 456.3M272.7 398.7L253.3 414.7M262.5 410.8L160.4 499.7M243.3 371.3L212.4 380.8M243.9 371.2L111.5 411.8M271.6 347.3L215.5 352.5M253.1 353L194.9 360.9M213.3 344.8L101 348.3" stroke="#231818" stroke-width="0.5" stroke-dasharray="1 3.2" fill="none"/>
<path d="M374 218.1L384.2 177.6M375.9 316L536.3 195.3M377.3 314.5L535.1 193.7M384.4 303.9L432.6 260.9M398.1 306.5L548.4 213.1M451.9 303.6L571.9 262.6M495.2 320.6L530.2 316M399.2 343.4L446 345.6M393.4 352.6L458.3 367.9M453.1 379.6L571.2 421.2M415.4 368L569.5 425.8M448.4 405.3L549.4 467M372.8 369.7L414.4 409.8M404.2 454.4L457.7 553.8M367.7 419.5L374.6 441.4M342.2 393.7L339.6 582.8M346.3 507.3L347.5 568.2M286.3 468.6L265.4 515.7M249.6 496.5L218.5 548.4M254.1 420.7L211.6 459M207.1 364.2L190.9 367" stroke="#231818" stroke-width="0.5" stroke-dasharray="2.5 2.8" fill="none"/>
<path d="M366.2 230L392.7 104M392.3 224.5L437.5 118.1M348.5 301.2L377 101.2M380.1 265.4L450 123.8M405.7 250.3L447.9 189.5M479.5 195.1L492.6 181.2M424.4 308.8L568.1 252.3M447.8 354.5L519.4 363.9M537.8 378.1L580.6 386.3M441.6 335.9L584.6 328.9M397.9 368.3L423.7 381.2M382.1 376.8L521.1 504.6M368.7 370.5L501.8 523.3M382.5 415.3L456.4 554.5M377.6 403.8L459.6 552.8M412.2 449.1L473.4 544.6M375 448.9L411.9 572.8M358.8 379.2L383.1 438M350.8 383L387.6 578.6M337.5 444.9L330.4 582.5M343.1 385.5L344.1 582.8M294 398.6L186.5 525.5M219.8 367.5L106.4 392" stroke="#e8d440" stroke-width="0.5" stroke-dasharray="1.5 2.2" fill="none"/>
<path d="M374.9 215.9L403.1 106.4M347.6 227.2L349.7 173.7M367.4 246.1L403.5 106.5M371.5 303.1L489.2 148.1M370.6 302.4L381.2 287.7M415.8 281.5L467.8 239.1M380.1 329.7L574.7 271.4M491.4 405.1L533.2 423.2M383.3 371.3L410.9 392.2M393.4 385L525 500.2M397.9 447.5L407.9 467M473.1 517.5L481.1 528.4M375.6 444.4L415.8 571.6M319 395.7L298.2 443.4M250.8 491.6L216.8 547.3M290.2 432.7L222.6 550.8M216.9 377.8L201.1 382.5M247.5 356.1L209.3 362.2M265.2 342.1L100.9 344.7" stroke="#a08a9a" stroke-width="0.5" stroke-dasharray="2.5 2.8" fill="none"/>
<path d="M351.5 298.7L355.4 280.1M370.8 288.8L385.5 261.4M437.2 258.4L525.1 181.6M408.8 291.2L536.4 195.4M518 225.6L545.1 207.8M430.7 331.8L452.9 329.5M439.9 348.6L489 352.5M446.9 346.8L584.5 354.8M384 356.3L569.3 426.3M349.2 387L375.8 580.6M325.6 459.7L319.7 499.9M328.8 425.5L303.1 579.5M312.2 521.4L302.4 579.4M307.8 393.6L267.7 453.6M246 497.1L224.8 531.3M260.7 420.9L169.7 509.8M270.5 402.3L158.5 497.5M209.1 455L177.5 482M306.7 362.9L136.4 467M252.1 398.4L138.5 470.4M271.6 387.1L139.9 472.5M308.1 356.6L122.6 440.9M294.6 362.7L122.6 440.9M278.1 357.6L108.6 401.5M289.8 345L101.7 360.1M228.6 355.3L102.8 371.2" stroke="#e8d440" stroke-width="0.5" stroke-dasharray="0.8 1.5" fill="none"/>
<path d="M352.9 266L361 205M375.1 303L499.8 156.6M432.4 221.1L478 160.3M404.2 297.1L540 200.4M379.1 306.4L518.3 174.1M481.9 251L538.6 214.4M410 298.8L548 212.4M400.4 333.3L441.4 328M443 354L582.8 372.5M432.6 335.7L584.5 327.1M440.7 375L571.3 420.7M423 436.3L498.5 526.2M401.8 433.7L472.4 545.2M359 391.3L416.5 571.3M385.6 446.8L433.2 565.3M364.2 549.8L367.5 581.5M352.8 422.6L355.3 443.2M341.1 480.2L340.6 525.1M337.4 425.8L332.9 494M316.3 393L233 556.4M316.6 387.2L293 428.8M277.3 414.5L182 521.6M303.4 369L145.8 481.3M277.5 375L222 403.9M229.4 358L203.2 361.9M213 345.6L101.1 349.7" stroke="#231818" stroke-width="0.5" stroke-dasharray="6 4 1 3" fill="none"/>
<path d="M345.3 301.2L357.3 99.2M401.8 270.4L498.2 155.2M374.3 303L497.6 154.7M498.6 291.2L568 269M418.8 340.4L584.9 339.5M461.6 350.8L506.7 354.6M369.1 392L453.1 556.3M293.5 541.8L285.1 575.8M300.4 506.9L282.9 575.2M306.1 441.2L285.2 498.2M301.9 376.6L160.6 500" stroke="#f4e8c8" stroke-width="0.5" stroke-dasharray="1.5 2.2" fill="none"/>
<path d="M353.5 268.4L362.3 208M468.3 228.2L523 179.1M431.9 291.4L554.5 223.4M428.6 330.6L583.2 312.3M445.4 357.2L581.9 379M368.4 378.8L477.6 541.9M359.5 380.4L436.5 564M326.2 457L315.9 528.4M311.5 469.5L297 528.9M294.2 396.4L285.6 406.2M242.6 410.8L144.5 479.3M271.9 348.9L250.6 351.3" stroke="#a08a9a" stroke-width="0.5" stroke-dasharray="2 5" fill="none"/>
<path d="M413.4 149.9L426.7 113.8M376 299.4L493.9 151.7M364.4 394.5L432.8 565.5M352.7 380.9L400.1 575.9M300.1 407.1L272.9 449.4" stroke="#f4e8c8" stroke-width="0.5" stroke-dasharray="2.5 2.8" fill="none"/>
<path d="M346.6 229.7L351 98.9M392.2 263.8L417.4 224.5M400.8 287.4L438.6 252.6M452.7 294.9L566.1 247.4M460.1 323.3L514.3 315.3M410.5 329.1L581.4 299.7M560.7 344.7L584.9 345.1M390.4 353.4L576.9 402.7M432.5 398.2L546.7 471.4M399.7 403.6L505.2 520.3M386.5 401.5L484.2 537.2M360.1 383.5L433.2 565.3M361 381.3L375.5 413.6M358.8 453.7L364.7 495.6M356.8 397.3L400.6 575.8M348.1 388L369.1 581.4M301 501L281.7 574.9M299.1 444.9L249.1 563.9M312.4 399.9L231.8 555.8M312.7 379.8L194.9 532.2M262.1 403.2L212.9 441.2M235.7 430.9L185.1 473.4M183.6 427.6L146.2 447.9M306.5 356.6L120.9 437.2M148.9 408.5L114.4 420.5M278.1 362.2L113.1 416.6M129.3 362.3L102.1 365.1M296.3 344.8L243.2 349.3" stroke="#231818" stroke-width="0.5" stroke-dasharray="2 5" fill="none"/>
<path d="M371.1 220.3L398 105.2M382.5 318.3L424.8 294.3M400.4 323.4L574.5 270.7M526.8 297.7L546.3 293.1M413.4 346L584.2 358.7M541.3 346.9L552.7 347.3M451.6 397.8L473 409M426.1 400.4L539.7 481.7M527 434.3L558.7 450.4M426.9 380.2L562 443.6M410.4 413.5L507.5 518.2M360.6 402L410.2 573.3M263.5 381.5L217.6 405" stroke="#a08a9a" stroke-width="0.5" stroke-dasharray="4 2.5 1 3" fill="none"/>
<path d="M371.3 269.3L397.7 203M396.3 268.2L417.8 239M429.2 251.9L511.6 167.3M367.6 290.1L449 123.3M375.7 312.9L527.1 183.9M393.9 297L526.5 183.1M401.5 299.4L540.6 201.3M411 302.6L554 222.5M400 333.3L465.4 324.8M541.4 268.1L561 260.9M414.2 355.6L579.9 390M403.5 410L416.4 424.7M416.3 413L428.7 425.2M368.8 401.6L395 463.2M367.9 411L384.8 458.3M331.3 398.6L295.4 578.1M327 392.4L271.8 572.1M329.4 383.2L269.3 571.3M237.4 482.7L204.7 526.8M220.7 365.1L105.5 388M130.5 390.6L107.3 396.1M285.6 345L101.5 358.3" stroke="#e8d440" stroke-width="0.5" stroke-dasharray="2 5" fill="none"/>
<path d="M368.1 314.1L509 164.8M384.4 295.4L506.3 162.3M435.8 396.9L475.3 420.8M501.2 489.1L517.1 504M308.6 444.8L267.1 570.6M307.1 365.3L143.2 477.5" stroke="#f4e8c8" stroke-width="0.5" stroke-dasharray="6 4 1 3" fill="none"/>
<path d="M459.4 160.8L474.4 137.6M481.1 256.4L547.8 215.7M380.3 331.7L408.9 324.7M448.9 356.7L515.5 366.7M383 407.2L468 547.9M342.4 517.4L342.3 582.8" stroke="#f4e8c8" stroke-width="0.5" stroke-dasharray="4 2.5 1 3" fill="none"/>
<path d="M440.5 327.6L582.7 308.4M427.2 387.3L453.5 401.8M340.8 435.1L337.5 582.7M313.1 450.4L279.4 574.3M268.5 423.6L181.2 520.8M243.4 383.7L186.5 408.2" stroke="#f4e8c8" stroke-width="0.5" stroke-dasharray="1 3.2" fill="none"/>
<path d="M518.5 336.5L530.2 336.2M458.7 353.9L583.4 368M305.4 425.7L245.1 562.2M244.1 492.6L229.8 514.6M258.6 445.8L208.5 508.1M240.2 376.7L114.5 420.7M309.4 356.9L124.8 445.6" stroke="#a08a9a" stroke-width="0.5" stroke-dasharray="0.8 1.5" fill="none"/>
<path d="M387.5 363.6L455.3 398.2" stroke="#f4e8c8" stroke-width="0.5" stroke-dasharray="0.8 1.5" fill="none"/>
<path d="M429.3 419.9L521.4 504.3M410.3 399.6L525.3 499.9M436.6 419.7L477.4 454.2M357.3 376.4L433.8 565.1M330.2 508.3L325.3 573.8M310.5 401.9L229.4 554.5M254.8 374.7L117.1 427.8" stroke="#f4e8c8" stroke-width="0.5" stroke-dasharray="2 5" fill="none"/>
<path d="M128.1 350.9A215 215 0 0 1 127.9 339.5M258 344.8A85 85 0 0 1 257.9 340.3" stroke="#111" stroke-width="1.4" fill="none"/>
<path d="M357 311L377 268.4L400.8 217.7L487.4 29.7L485.1 28.7L398.7 216.7L375.7 267.8L356.4 310.7ZM366.8 318L400.7 285.5L441.1 246.7L589.3 102.1L587.5 100.3L439.4 245L399.6 284.4L366.3 317.5ZM370.4 322.6L409.5 296.4L456.1 265.3L627.3 149L625.9 147L454.7 263.4L408.7 295.2L370 322ZM373.9 329.4L417.9 313L470.4 293.4L663.8 219.6L662.9 217.3L469.5 291.2L417.4 311.6L373.6 328.7ZM375.8 338.6L422.7 335.4L478.6 331.6L685 315.7L684.8 313.2L478.4 329.2L422.6 333.9L375.8 337.9ZM375.1 348.2L420.9 358.7L475.5 371.2L677.6 415.7L678.2 413.2L476 368.8L421.2 357.3L375.2 347.5ZM372.8 354.9L415.3 374.8L466.1 398.5L654.2 484.7L655.3 482.4L467.1 396.3L415.9 373.4L373.1 354.2ZM368.5 361.6L405 391.2L448.6 426.4L610.6 555.3L612.1 553.3L450.1 424.5L406 390L369 361.1ZM363.2 366.9L392.1 403.9L426.6 448L555.4 610L557.4 608.5L428.5 446.5L393.3 402.9L363.7 366.4ZM356.8 370.7L376.8 413.3L400.6 464L490 650.7L492.2 649.6L402.7 462.9L378.1 412.6L357.5 370.4ZM351.1 372.8L362.9 418.3L377 472.5L430.5 672.4L432.9 671.8L379.2 471.9L364.3 417.9L351.8 372.6ZM345.1 373.7L348.3 420.6L352.1 476.5L368 682.9L370.5 682.7L354.5 476.3L349.8 420.5L345.8 373.7ZM338.7 373.5L333 420.2L326.1 475.8L302.2 681.4L304.7 681.7L328.4 476L334.4 420.4L339.5 373.6ZM333.3 372.4L319.9 417.4L303.8 471.1L246 669.8L248.4 670.5L306.1 471.7L321.3 417.8L334 372.6ZM328.4 370.5L307.9 412.7L283.5 463.1L194.6 650.1L196.9 651.2L285.6 464.2L309.3 413.4L329.1 370.8ZM323.8 367.7L296.8 406.2L264.6 452L146.9 622.3L148.9 623.7L266.6 453.4L298 407L324.4 368.2ZM319.8 364.3L286.9 397.9L247.7 438L104.2 587.1L106 588.8L249.5 439.6L288 399L320.3 364.8ZM316.4 360.5L278.7 388.6L233.9 422.1L68.9 547.2L70.4 549.2L235.3 424L279.6 389.8L316.8 361ZM313.6 356L272 377.8L222.4 403.8L39.7 501.3L40.9 503.5L223.5 405.9L272.7 379.1L314 356.7ZM311.5 351L266.9 365.7L213.7 383.3L17.6 449.6L18.4 452L214.5 385.5L267.4 367.1L311.8 351.7ZM310.4 346.6L264.2 355.1L209.1 365.1L5.7 403.8L6.2 406.3L209.5 367.5L264.5 356.5L310.6 347.3ZM309.9 342.1L263 344L207 346.4L0.3 356.6L0.4 359.1L207.1 348.7L263 345.5L310 342.8Z" fill="#fff"/>
<rect x="106" y="99.1" width="193" height="5.0" fill="#c0c0c0"/><rect x="106" y="104.1" width="193" height="1.6" fill="#f01818"/><rect x="106" y="105.7" width="193" height="5.3" fill="#72a9df"/><rect x="106" y="111" width="193" height="10.9" fill="#ff1a10"/><rect x="106" y="121.9" width="193" height="4.1" fill="#f3e99a"/><rect x="106" y="126" width="193" height="2.9" fill="#c2e1b0"/><rect x="106" y="128.9" width="193" height="1.1" fill="#f3e99a"/><rect x="106" y="130" width="193" height="4.1" fill="#c2e1b0"/><rect x="106" y="134.1" width="193" height="2.7" fill="#efc89c"/><rect x="106" y="136.8" width="193" height="1.4" fill="#ab9fdc"/><rect x="106" y="138.2" width="193" height="1.8" fill="#efc89c"/><rect x="106" y="140" width="193" height="1.7" fill="#f3e99a"/><rect x="106" y="141.7" width="193" height="1.8" fill="#c2e1b0"/><rect x="106" y="143.5" width="193" height="2.3" fill="#fbf6e2"/><rect x="106" y="145.8" width="193" height="0.6" fill="#f3e99a"/><rect x="106" y="146.4" width="193" height="5.4" fill="#c2e1b0"/><rect x="106" y="151.8" width="193" height="2.3" fill="#efc89c"/><rect x="106" y="154.1" width="193" height="2.9" fill="#f3e99a"/><rect x="106" y="157" width="193" height="8.8" fill="#c2e1b0"/><rect x="106" y="165.8" width="193" height="1.7" fill="#f3e99a"/><rect x="106" y="167.5" width="193" height="1.8" fill="#efc89c"/><rect x="106" y="169.3" width="193" height="1.7" fill="#f3e99a"/><rect x="106" y="171" width="193" height="1.8" fill="#efc89c"/><rect x="106" y="172.8" width="193" height="2.3" fill="#fbf3ea"/><rect x="106" y="175.1" width="193" height="1.2" fill="#efc89c"/><rect x="106" y="176.3" width="193" height="1.1" fill="#f3e99a"/><rect x="106" y="177.4" width="193" height="5.9" fill="#efc89c"/><rect x="106" y="183.3" width="193" height="1.2" fill="#f3e99a"/><rect x="106" y="184.5" width="193" height="6.4" fill="#c2e1b0"/><rect x="106" y="190.9" width="193" height="2.3" fill="#ffffff"/><rect x="106" y="193.2" width="193" height="1.8" fill="#c2e1b0"/><rect x="106" y="195" width="193" height="4" fill="#f3e99a"/><rect x="106" y="199" width="193" height="1.2" fill="#c2e1b0"/><rect x="106" y="200.2" width="193" height="7.0" fill="#efc89c"/><rect x="106" y="207.2" width="193" height="1.2" fill="#f3e99a"/><rect x="106" y="208.4" width="193" height="10.5" fill="#efc89c"/><rect x="106" y="218.9" width="193" height="1.8" fill="#fdfaf2"/><rect x="106" y="220.7" width="193" height="1.7" fill="#f3e99a"/><rect x="106" y="222.4" width="193" height="2.3" fill="#c2e1b0"/><rect x="106" y="224.7" width="193" height="1.8" fill="#f3e99a"/><rect x="106" y="226.5" width="193" height="1.7" fill="#c2e1b0"/><rect x="106" y="228.2" width="193" height="5.6" fill="#f3e99a"/><rect x="106" y="233.8" width="193" height="1.2" fill="#c2e1b0"/><rect x="106" y="235" width="193" height="1.2" fill="#efc89c"/><rect x="106" y="236.2" width="193" height="1.7" fill="#c2e1b0"/><rect x="106" y="237.9" width="193" height="1.2" fill="#efc89c"/><rect x="106" y="239.1" width="193" height="1.7" fill="#c2e1b0"/><rect x="106" y="240.8" width="193" height="1.8" fill="#f3e99a"/><rect x="106" y="242.6" width="193" height="1.2" fill="#efc89c"/><rect x="106" y="243.8" width="193" height="1.1" fill="#a8cdee"/><rect x="106" y="244.9" width="193" height="1.8" fill="#c2e1b0"/><rect x="106" y="246.7" width="193" height="2.9" fill="#f3e99a"/><rect x="106" y="249.6" width="193" height="1.2" fill="#c2e1b0"/><rect x="106" y="250.8" width="193" height="2.9" fill="#efc89c"/><rect x="106" y="253.7" width="193" height="2.9" fill="#f3e99a"/><rect x="106" y="256.6" width="193" height="4.1" fill="#ffffff"/><rect x="106" y="260.7" width="193" height="1.2" fill="#efc89c"/><rect x="106" y="261.9" width="193" height="1.1" fill="#ffffff"/><rect x="106" y="263" width="193" height="2.4" fill="#c2e1b0"/><rect x="106" y="265.4" width="193" height="1.7" fill="#fdf7ee"/><rect x="106" y="267.1" width="193" height="1.2" fill="#efc89c"/><rect x="106" y="268.3" width="193" height="2.3" fill="#c2e1b0"/><rect x="106" y="270.6" width="193" height="1.7" fill="#f7ecdc"/><rect x="106" y="272.3" width="193" height="0.7" fill="#ffffff"/><rect x="106" y="273" width="193" height="6.4" fill="#efc89c"/><rect x="106" y="279.4" width="193" height="1.7" fill="#ffffff"/><rect x="106" y="281.1" width="193" height="4.7" fill="#efc89c"/><rect x="106" y="285.8" width="193" height="2.3" fill="#f3e99a"/><rect x="106" y="288.1" width="193" height="17.9" fill="#efc89c"/><path d="M113 100.4H156.8M118.8 103H157.9M123.3 105.6H148.3M123.3 108.1H140.1M123.3 105.6V108.1M118.8 106.8H123.3M118.8 103V106.8M113 104.9H118.8M113 100.4V104.9M108 102.7H113M114.8 110.7H174.3M117.4 113.3H178M125 115.9H165.9M125 118.5H169M125 115.9V118.5M122.4 117.2H125M125.4 121H177.1M125.4 123.6H166.6M125.4 121V123.6M122.4 122.3H125.4M122.4 117.2V122.3M117.4 119.8H122.4M117.4 113.3V119.8M114.8 116.5H117.4M114.8 110.7V116.5M112 113.6H114.8M142.5 126.2H185.8M153.5 128.8H190.9M153.5 131.4H194.4M153.5 128.8V131.4M147.7 130.1H153.5M158.4 133.9H184.8M158.4 136.5H189.4M158.4 133.9V136.5M154.6 135.2H158.4M154.6 139.1H186.5M154.6 135.2V139.1M150.5 137.2H154.6M150.5 141.7H194.5M150.5 137.2V141.7M147.7 139.4H150.5M147.7 130.1V139.4M142.5 134.7H147.7M142.5 126.2V134.7M136.6 130.5H142.5M149.5 144.3H194.8M149.5 146.8H183M149.5 144.3V146.8M144.2 145.6H149.5M148.7 149.4H189.9M151.7 152H191M161.1 154.6H194.2M161.1 157.2H185.9M161.1 154.6V157.2M155.5 155.9H161.1M155.5 159.7H185M155.5 155.9V159.7M151.7 157.8H155.5M151.7 152V157.8M148.7 154.9H151.7M148.7 149.4V154.9M144.2 152.2H148.7M144.2 145.6V152.2M141 148.9H144.2M141 162.3H194.1M141 148.9V162.3M136.6 155.6H141M136.6 130.5V155.6M132.1 143H136.6M135.3 164.9H188.1M135.3 167.5H184.9M135.3 164.9V167.5M132.1 166.2H135.3M132.1 143V166.2M129 154.6H132.1M143.3 170.1H188.9M147.3 172.6H186M147.3 175.2H193.5M147.3 172.6V175.2M143.3 173.9H147.3M143.3 170.1V173.9M137.3 172H143.3M143 177.8H192.3M149.9 180.4H185M152.7 183H187.1M152.7 185.5H193.8M152.7 183V185.5M149.9 184.2H152.7M149.9 180.4V184.2M145.7 182.3H149.9M152.1 188.1H192M152.1 190.7H188.7M152.1 188.1V190.7M145.7 189.4H152.1M145.7 182.3V189.4M143 185.9H145.7M143 177.8V185.9M137.3 181.8H143M137.3 172V181.8M134.1 176.9H137.3M145 193.3H193.8M149 195.9H192.3M161.9 198.4H187.6M161.9 201H184.5M161.9 198.4V201M156.5 199.7H161.9M169.7 203.6H187.9M169.7 206.2H194.5M169.7 203.6V206.2M166.2 204.9H169.7M166.2 208.8H193.9M166.2 204.9V208.8M161.4 206.8H166.2M164.2 211.3H183.3M168.5 213.9H184.7M168.5 216.5H193.4M168.5 213.9V216.5M164.2 215.2H168.5M164.2 211.3V215.2M161.4 213.3H164.2M161.4 206.8V213.3M156.5 210.1H161.4M156.5 199.7V210.1M153.4 204.9H156.5M161.9 219.1H188.9M161.9 221.7H185.6M161.9 219.1V221.7M158.1 220.4H161.9M158.1 224.2H185M158.1 220.4V224.2M153.4 222.3H158.1M153.4 204.9V222.3M149 213.6H153.4M149 195.9V213.6M145 204.7H149M145 193.3V204.7M138.7 199H145M155.1 226.8H183.1M159.4 229.4H183.8M159.4 232H192.2M159.4 229.4V232M155.1 230.7H159.4M155.1 226.8V230.7M149.4 228.8H155.1M149.4 234.6H185.1M149.4 228.8V234.6M144.1 231.7H149.4M166.1 237.1H192.6M166.1 239.7H188.9M166.1 237.1V239.7M160.4 238.4H166.1M173.2 242.3H185.3M178.2 244.9H186.9M178.2 247.5H185.4M178.2 244.9V247.5M173.2 246.2H178.2M173.2 242.3V246.2M167.7 244.2H173.2M167.7 250H183.8M167.7 244.2V250M163.1 247.1H167.7M163.1 252.6H190.9M163.1 247.1V252.6M160.4 249.9H163.1M160.4 238.4V249.9M153.9 244.2H160.4M158.1 255.2H193.4M158.1 257.8H190.8M158.1 255.2V257.8M153.9 256.5H158.1M153.9 244.2V256.5M150.4 250.3H153.9M170 260.4H183.6M175.3 262.9H192.8M180 265.5H194M180 268.1H190.3M180 270.7H185.6M180 268.1V270.7M180 269.4H180M180 273.3H188.4M180 269.4V273.3M180 271.3H180M180 265.5V271.3M180 268.4H180M180 275.8H190.4M180 278.4H191.8M180 275.8V278.4M180 277.1H180M180 268.4V277.1M175.3 272.8H180M175.3 262.9V272.8M170 267.9H175.3M170 260.4V267.9M166.6 264.1H170M166.6 281H190.3M166.6 264.1V281M162.1 272.6H166.6M171.7 283.6H187.6M171.7 286.2H190.4M171.7 283.6V286.2M165.5 284.9H171.7M171.3 288.7H194.6M171.3 291.3H194.9M171.3 288.7V291.3M165.5 290H171.3M165.5 284.9V290M162.1 287.5H165.5M162.1 272.6V287.5M156.8 280H162.1M160.6 293.9H187.7M163.4 296.5H186.6M176.3 299.1H185M176.3 301.6H188.2M176.3 299.1V301.6M169.8 300.4H176.3M169.8 304.2H191.1M169.8 300.4V304.2M163.4 302.3H169.8M163.4 296.5V302.3M160.6 299.4H163.4M160.6 293.9V299.4M156.8 296.6H160.6M156.8 280V296.6M150.4 288.3H156.8M150.4 250.3V288.3M144.1 269.3H150.4M144.1 231.7V269.3M138.7 250.5H144.1M138.7 199V250.5M134.1 224.7H138.7M134.1 176.9V224.7M129 200.8H134.1M129 154.6V200.8M126 177.7H129M107 102.7V177.7M107 102.7H108M107 177.7H126" stroke="#5a5a5a" stroke-width="0.45" fill="none" opacity="0.7"/><rect x="301.0" y="99.0" width="32.2" height="206.8" fill="#000"/><rect x="311.7" y="99.1" width="5.4" height="4.0" fill="#66ee22"/><rect x="317.1" y="99.1" width="5.4" height="1.2" fill="#c85a20"/><rect x="311.7" y="103.1" width="5.4" height="2.9" fill="#7a9a30"/><rect x="311.7" y="106" width="5.4" height="2" fill="#a07028"/><rect x="311.7" y="108" width="5.4" height="2.3" fill="#8a9a30"/><rect x="311.7" y="110.3" width="5.4" height="0.9" fill="#70d020"/><rect x="311.7" y="111.2" width="5.4" height="1.8" fill="#b06028"/><rect x="311.7" y="113" width="5.4" height="3" fill="#909030"/><rect x="311.7" y="116" width="5.4" height="2.5" fill="#a08030"/><rect x="311.7" y="118.5" width="5.4" height="3.1" fill="#80a030"/><rect x="317.1" y="103.1" width="5.4" height="2.9" fill="#b06828"/><rect x="317.1" y="106" width="5.4" height="4.3" fill="#80a030"/><rect x="317.1" y="110.3" width="5.4" height="1.2" fill="#c06020"/><rect x="317.1" y="111.5" width="5.4" height="6.5" fill="#80a030"/><rect x="317.1" y="118" width="5.4" height="3.6" fill="#909030"/><rect x="311.7" y="121.6" width="5.4" height="4.4" fill="#e8281c"/><rect x="311.7" y="126.7" width="5.4" height="1.5" fill="#d82a1a"/><rect x="317.1" y="121.6" width="5.4" height="86.4" fill="#66ee22"/><rect x="306.4" y="103.9" width="5.4" height="1.7" fill="#d83020"/><rect x="306.4" y="112" width="5.4" height="1.7" fill="#c84a20"/><rect x="301" y="143" width="5.4" height="1.4" fill="#d83020"/><rect x="327.8" y="187.2" width="5.4" height="1.5" fill="#d03020"/><rect x="327.8" y="190.6" width="5.4" height="2.1" fill="#e03a1c"/><rect x="301" y="207.3" width="5.4" height="1.3" fill="#c85020"/><rect x="327.8" y="206.9" width="5.4" height="1.3" fill="#d83020"/><rect x="327.8" y="208.2" width="5.4" height="10.2" fill="#66ee22"/><rect x="317.1" y="218.4" width="5.4" height="37.8" fill="#66ee22"/><rect x="322.5" y="240" width="5.4" height="1.8" fill="#d02a1a"/><rect x="327.8" y="243" width="5.4" height="1.4" fill="#e0281a"/><rect x="306.4" y="255" width="5.4" height="1.5" fill="#d02a1a"/><rect x="306.4" y="257.7" width="5.4" height="11.0" fill="#66ee22"/><rect x="311.7" y="256.2" width="5.4" height="1.7" fill="#66ee22"/><rect x="317.1" y="268.5" width="5.4" height="1.3" fill="#66ee22"/><rect x="317.1" y="286.1" width="5.4" height="1.7" fill="#66ee22"/><rect x="322.5" y="270" width="5.4" height="16.1" fill="#66ee22"/><rect x="301" y="287.3" width="5.4" height="18.5" fill="#66ee22"/><path d="M306.4 99.0V305.8M311.7 99.0V305.8M317.1 99.0V305.8M322.5 99.0V305.8M327.8 99.0V305.8M301.0 103.5H333.2M301.0 108H333.2M301.0 112.5H333.2M301.0 117H333.2M301.0 121.5H333.2M301.0 126H333.2M301.0 130.5H333.2M301.0 135H333.2M301.0 139.5H333.2M301.0 144H333.2M301.0 148.5H333.2M301.0 153H333.2M301.0 157.5H333.2M301.0 162H333.2M301.0 166.5H333.2M301.0 171H333.2M301.0 175.5H333.2M301.0 180H333.2M301.0 184.5H333.2M301.0 189H333.2M301.0 193.5H333.2M301.0 198H333.2M301.0 202.5H333.2M301.0 207H333.2M301.0 211.5H333.2M301.0 216H333.2M301.0 220.5H333.2M301.0 225H333.2M301.0 229.5H333.2M301.0 234H333.2M301.0 238.5H333.2M301.0 243H333.2M301.0 247.5H333.2M301.0 252H333.2M301.0 256.5H333.2M301.0 261H333.2M301.0 265.5H333.2M301.0 270H333.2M301.0 274.5H333.2M301.0 279H333.2M301.0 283.5H333.2M301.0 288H333.2M301.0 292.5H333.2M301.0 297H333.2M301.0 301.5H333.2" stroke="#444" stroke-width="0.3" fill="none" opacity="0.6"/>
<g font-family="Liberation Sans" font-weight="bold" fill="#111" font-size="7.4">
<text x="296.4" y="6.9" textLength="40.5" lengthAdjust="spacingAndGlyphs">Chromosome</text>
<text x="257.6" y="20.6" textLength="79.9" lengthAdjust="spacingAndGlyphs">G:C (% / 10 Kb, &lt;40%=red)</text>
<text x="261.2" y="33.2" textLength="76.3" lengthAdjust="spacingAndGlyphs">Gene Density (% / 10 Kb)</text>
<text x="236.4" y="50.6" textLength="100.1" lengthAdjust="spacingAndGlyphs">Predector Score (-3  to 3, &gt;2=red)</text>
<text x="230.3" y="62.5" textLength="106.2" lengthAdjust="spacingAndGlyphs">Repetitive DNA Density (% / 10 Kb)</text>
<text x="243.4" y="75.6" textLength="93.1" lengthAdjust="spacingAndGlyphs">Composite RIP Index (&gt;0 = red)</text>
<text x="31.7" y="90.2" textLength="304.9" lengthAdjust="spacingAndGlyphs">Potential SNP mutation sites (% / 10 Kb,  blue=Total, yellow=RIP-like, red=Non-synonymous RIP-like)</text>
<text x="68.9" y="107" textLength="33.7" lengthAdjust="spacingAndGlyphs">LDNO3-Sn4</text>
<text x="79.6" y="113.8" textLength="23" lengthAdjust="spacingAndGlyphs">Sn2000</text>
<text x="72" y="258.8" textLength="32" lengthAdjust="spacingAndGlyphs">Sn79-1087</text>
<text x="90" y="264.9" textLength="14" lengthAdjust="spacingAndGlyphs">Sn15</text>
<text transform="translate(340.4 292.9) rotate(-90)" textLength="193.5" lengthAdjust="spacingAndGlyphs">Presence/Absence variation (% / 10 Kb, &lt;50%=black, 100%=red)</text>
</g>
<g font-family="Liberation Sans" font-weight="bold" fill="#222" font-size="7" text-anchor="middle">
<text x="303.6" y="313.7">1</text><text x="308.9" y="313.7">2</text><text x="314.2" y="313.7">3</text><text x="319.6" y="313.7">4</text><text x="325" y="313.7">5</text><text x="330.3" y="313.7">6</text>
</g>
<g>
<rect x="9.6" y="206.3" width="47.3" height="92.1" fill="#fff" stroke="#eee" stroke-width="0.5"/>
<text x="12" y="213.4" font-family="Liberation Sans" font-weight="bold" font-size="6" fill="#222">Regions</text>
<path d="M11.2 214.8H56.2" stroke="#bbb" stroke-width="0.5"/>
<rect x="11.6" y="217.9" width="8" height="7" fill="#c0c0c0" stroke="#999" stroke-width="0.4"/><text x="23.9" y="223.5" font-family="Liberation Sans" font-size="6" fill="#555">Middle East</text><rect x="11.6" y="228.2" width="8" height="7" fill="#70a8e0" stroke="#999" stroke-width="0.4"/><text x="23.9" y="233.8" font-family="Liberation Sans" font-size="6" fill="#555">Europe</text><rect x="11.6" y="238.5" width="8" height="7" fill="#ff1010" stroke="#999" stroke-width="0.4"/><text x="23.9" y="244.1" font-family="Liberation Sans" font-size="6" fill="#555">USA</text><rect x="11.6" y="248.8" width="8" height="7" fill="#f0c898" stroke="#999" stroke-width="0.4"/><text x="23.9" y="254.4" font-family="Liberation Sans" font-size="6" fill="#555">Geraldton</text><rect x="11.6" y="259.1" width="8" height="7" fill="#f5ec98" stroke="#999" stroke-width="0.4"/><text x="23.9" y="264.7" font-family="Liberation Sans" font-size="6" fill="#555">Dandaragan</text><rect x="11.6" y="269.4" width="8" height="7" fill="#c0e0b0" stroke="#999" stroke-width="0.4"/><text x="23.9" y="275" font-family="Liberation Sans" font-size="6" fill="#555">Northam</text><rect x="11.6" y="279.7" width="8" height="7" fill="#a8a0d8" stroke="#999" stroke-width="0.4"/><text x="23.9" y="285.3" font-family="Liberation Sans" font-size="6" fill="#555">Esperance</text><rect x="11.6" y="290" width="8" height="7" fill="#a8d0f0" stroke="#999" stroke-width="0.4"/><text x="23.9" y="295.6" font-family="Liberation Sans" font-size="6" fill="#555">Albany</text></g>
<path d="M630.4 159.8L645.9 149.9" stroke="#f06a4a" stroke-width="0.6"/><text x="649.6" y="149.9" textLength="17.4" lengthAdjust="spacingAndGlyphs" font-family="Liberation Sans" font-weight="bold" font-style="italic" font-size="8.6" fill="#111">ToxA</text><path d="M500.7 641.9L508.9 657.6" stroke="#f06a4a" stroke-width="0.6"/><text x="513" y="662.3" textLength="17.4" lengthAdjust="spacingAndGlyphs" font-family="Liberation Sans" font-weight="bold" font-style="italic" font-size="8.6" fill="#111">Tox1</text><path d="M487.4 643.9L496.6 663.8" stroke="#f06a4a" stroke-width="0.6"/><text x="482.3" y="677.3" textLength="17" lengthAdjust="spacingAndGlyphs" font-family="Liberation Sans" font-weight="bold" font-style="italic" font-size="8.6" fill="#111">Tox3</text><path d="M372.7 680.2L374.7 697.3" stroke="#f06a4a" stroke-width="0.6"/><text x="366.1" y="707.8" textLength="26.7" lengthAdjust="spacingAndGlyphs" font-family="Liberation Sans" font-weight="bold" font-style="italic" font-size="8.6" fill="#111">Tox267</text>
</svg>
</body></html>
